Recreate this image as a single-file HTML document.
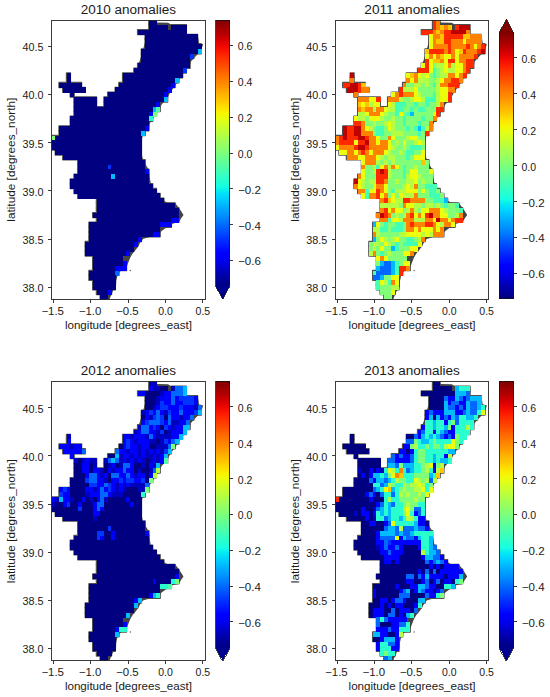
<!DOCTYPE html>
<html><head><meta charset="utf-8"><title>anomalies</title>
<style>html,body{margin:0;padding:0;background:#fff;}svg{display:block;}</style></head>
<body><svg width="550" height="697" viewBox="0 0 550 697" font-family="Liberation Sans, sans-serif" shape-rendering="crispEdges">
<rect width="550" height="697" fill="#fff"/>
<defs><linearGradient id="jetg" x1="0" y1="0" x2="0" y2="1"><stop offset="0.0000" stop-color="#800000"/><stop offset="0.0250" stop-color="#9b0000"/><stop offset="0.0500" stop-color="#b60000"/><stop offset="0.0750" stop-color="#d60000"/><stop offset="0.1000" stop-color="#f10800"/><stop offset="0.1250" stop-color="#ff1e00"/><stop offset="0.1500" stop-color="#ff3800"/><stop offset="0.1750" stop-color="#ff4e00"/><stop offset="0.2000" stop-color="#ff6800"/><stop offset="0.2250" stop-color="#ff7e00"/><stop offset="0.2500" stop-color="#ff9400"/><stop offset="0.2750" stop-color="#ffae00"/><stop offset="0.3000" stop-color="#ffc400"/><stop offset="0.3250" stop-color="#ffde00"/><stop offset="0.3500" stop-color="#f8f500"/><stop offset="0.3750" stop-color="#e4ff13"/><stop offset="0.4000" stop-color="#ceff29"/><stop offset="0.4250" stop-color="#baff3c"/><stop offset="0.4500" stop-color="#a4ff53"/><stop offset="0.4750" stop-color="#90ff66"/><stop offset="0.5000" stop-color="#7dff7a"/><stop offset="0.5250" stop-color="#66ff90"/><stop offset="0.5500" stop-color="#53ffa4"/><stop offset="0.5750" stop-color="#3cffba"/><stop offset="0.6000" stop-color="#29ffce"/><stop offset="0.6250" stop-color="#16ffe1"/><stop offset="0.6500" stop-color="#00e4f8"/><stop offset="0.6750" stop-color="#00ccff"/><stop offset="0.7000" stop-color="#00b0ff"/><stop offset="0.7250" stop-color="#0098ff"/><stop offset="0.7500" stop-color="#0080ff"/><stop offset="0.7750" stop-color="#0064ff"/><stop offset="0.8000" stop-color="#004cff"/><stop offset="0.8250" stop-color="#0030ff"/><stop offset="0.8500" stop-color="#0018ff"/><stop offset="0.8750" stop-color="#0000ff"/><stop offset="0.9000" stop-color="#0000f1"/><stop offset="0.9250" stop-color="#0000d6"/><stop offset="0.9500" stop-color="#0000b6"/><stop offset="0.9750" stop-color="#00009b"/><stop offset="1.0000" stop-color="#000080"/></linearGradient><clipPath id="axclip"><rect x="51.60" y="20.00" width="153.40" height="279.40"/></clipPath></defs>
<g transform="translate(0.00,0.00)"><text x="128.35" y="13.6" font-size="12" text-anchor="middle" textLength="95.4" lengthAdjust="spacingAndGlyphs" fill="#1a1a1a">2010 anomalies</text>
<g clip-path="url(#axclip)">
<g fill="#505050" stroke="#505050" stroke-width="1.50" stroke-linejoin="round" shape-rendering="geometricPrecision"><rect x="148.88" y="20.00" width="7.48" height="4.82"/><rect x="148.88" y="24.82" width="18.71" height="4.82"/><rect x="171.33" y="24.82" width="14.97" height="4.82"/><rect x="137.65" y="29.63" width="48.64" height="4.82"/><rect x="145.14" y="34.45" width="52.38" height="4.82"/><rect x="145.14" y="39.27" width="52.38" height="4.82"/><rect x="145.14" y="44.09" width="56.12" height="4.82"/><rect x="141.40" y="48.90" width="59.86" height="4.82"/><rect x="141.40" y="53.72" width="52.38" height="4.82"/><rect x="141.40" y="58.54" width="48.64" height="4.82"/><rect x="137.65" y="63.36" width="52.38" height="4.82"/><rect x="133.91" y="68.17" width="52.38" height="4.82"/><rect x="66.57" y="72.99" width="3.74" height="4.82"/><rect x="122.69" y="72.99" width="59.86" height="4.82"/><rect x="66.57" y="77.81" width="3.74" height="4.82"/><rect x="122.69" y="77.81" width="56.12" height="4.82"/><rect x="59.08" y="82.62" width="22.45" height="4.82"/><rect x="118.95" y="82.62" width="56.12" height="4.82"/><rect x="62.82" y="87.44" width="22.45" height="4.82"/><rect x="115.20" y="87.44" width="56.12" height="4.82"/><rect x="70.31" y="92.26" width="3.74" height="4.82"/><rect x="107.72" y="92.26" width="59.86" height="4.82"/><rect x="74.05" y="97.08" width="22.45" height="4.82"/><rect x="103.98" y="97.08" width="63.60" height="4.82"/><rect x="74.05" y="101.89" width="22.45" height="4.82"/><rect x="103.98" y="101.89" width="56.12" height="4.82"/><rect x="74.05" y="106.71" width="86.05" height="4.82"/><rect x="74.05" y="111.53" width="82.31" height="4.82"/><rect x="70.31" y="116.34" width="82.31" height="4.82"/><rect x="70.31" y="121.16" width="78.57" height="4.82"/><rect x="59.08" y="125.98" width="89.80" height="4.82"/><rect x="59.08" y="130.80" width="86.05" height="4.82"/><rect x="51.60" y="135.61" width="89.80" height="4.82"/><rect x="51.60" y="140.43" width="89.80" height="4.82"/><rect x="51.60" y="145.25" width="89.80" height="4.82"/><rect x="55.34" y="150.07" width="86.05" height="4.82"/><rect x="62.82" y="154.88" width="78.57" height="4.82"/><rect x="77.79" y="159.70" width="67.35" height="4.82"/><rect x="77.79" y="164.52" width="67.35" height="4.82"/><rect x="77.79" y="169.33" width="71.09" height="4.82"/><rect x="74.05" y="174.15" width="74.83" height="4.82"/><rect x="70.31" y="178.97" width="78.57" height="4.82"/><rect x="70.31" y="183.79" width="82.31" height="4.82"/><rect x="74.05" y="188.60" width="82.31" height="4.82"/><rect x="77.79" y="193.42" width="82.31" height="4.82"/><rect x="96.50" y="198.24" width="67.35" height="4.82"/><rect x="96.50" y="203.06" width="78.57" height="4.82"/><rect x="96.50" y="207.87" width="82.31" height="4.82"/><rect x="92.76" y="212.69" width="86.05" height="4.82"/><rect x="96.50" y="217.51" width="82.31" height="4.82"/><rect x="89.01" y="222.32" width="82.31" height="4.82"/><rect x="89.01" y="227.14" width="71.09" height="4.82"/><rect x="89.01" y="231.96" width="71.09" height="4.82"/><rect x="89.01" y="236.78" width="52.38" height="4.82"/><rect x="85.27" y="241.59" width="52.38" height="4.82"/><rect x="85.27" y="246.41" width="48.64" height="4.82"/><rect x="85.27" y="251.23" width="44.90" height="4.82"/><rect x="92.76" y="256.04" width="29.93" height="4.82"/><rect x="92.76" y="260.86" width="33.67" height="4.82"/><rect x="92.76" y="265.68" width="33.67" height="4.82"/><rect x="89.01" y="270.50" width="29.93" height="4.82"/><rect x="89.01" y="275.31" width="26.19" height="4.82"/><rect x="92.76" y="280.13" width="22.45" height="4.82"/><rect x="92.76" y="284.95" width="22.45" height="4.82"/><rect x="96.50" y="289.77" width="14.97" height="4.82"/><rect x="100.24" y="294.58" width="7.48" height="4.82"/></g>
<path d="M156.4 22.5 L168.0 22.8 L171.5 24.8 L186.3 24.8 L186.3 34.5 L197.5 34.5 L198.3 38.0 L199.0 43.0 L203.2 44.2 L201.5 49.0 L198.5 53.5 L194.5 57.5 L191.0 61.5 L188.5 65.5 L186.0 69.5 L183.0 74.0 L180.0 78.0 L177.0 83.0 L173.5 88.0 L170.5 92.0 L168.5 96.0 L165.5 100.5 L162.0 104.0 L159.5 108.5 L157.0 112.5 L154.0 117.0 L151.0 121.5 L148.5 126.0 L145.5 131.0 L142.5 136.0 L141.6 141.0 L141.3 150.0 L142.3 157.0 L144.0 162.0 L146.5 166.0 L148.9 170.0 L149.5 176.0 L150.5 182.0 L152.6 188.0 L155.5 192.5 L159.0 196.5 L163.0 200.0 L167.0 202.5 L175.1 203.1 L179.0 207.9 L181.0 211.0 L183.5 215.0 L181.0 218.5 L178.8 222.3 L171.3 224.0 L167.0 227.0 L163.0 230.0 L159.0 233.0 L154.0 235.5 L148.0 237.5 L143.0 239.0 L140.5 242.0 L138.5 246.0 L136.0 249.5 L133.0 253.0 L130.5 257.0 L128.5 262.0 L127.0 266.0 L124.0 269.5 L120.0 271.5 L117.5 275.0 L116.3 281.0 L116.0 287.0 L113.5 290.0 L111.5 294.0 L109.5 299.4 L100.0 299.4 L100.0 250.0 L110.0 200.0 L120.0 150.0 L125.0 100.0 L140.0 60.0 L150.0 25.0 Z" fill="#444" shape-rendering="geometricPrecision"/>
<rect x="148.88" y="20.00" width="7.78" height="5.12" fill="#000080"/>
<rect x="148.88" y="24.82" width="19.01" height="5.12" fill="#000080"/>
<rect x="171.33" y="24.82" width="15.27" height="5.12" fill="#000080"/>
<rect x="137.65" y="29.63" width="48.94" height="5.12" fill="#000080"/>
<rect x="145.14" y="34.45" width="52.68" height="5.12" fill="#000080"/>
<rect x="145.14" y="39.27" width="52.68" height="5.12" fill="#000080"/>
<rect x="145.14" y="44.09" width="56.42" height="5.12" fill="#000080"/>
<rect x="141.40" y="48.90" width="56.42" height="5.12" fill="#000080"/>
<rect x="197.52" y="48.90" width="4.04" height="5.12" fill="#00bcff"/>
<rect x="141.40" y="53.72" width="48.94" height="5.12" fill="#000080"/>
<rect x="190.03" y="53.72" width="4.04" height="5.12" fill="#0034ff"/>
<rect x="141.40" y="58.54" width="48.94" height="5.12" fill="#000080"/>
<rect x="137.65" y="63.36" width="52.68" height="5.12" fill="#000080"/>
<rect x="133.91" y="68.17" width="48.94" height="5.12" fill="#000080"/>
<rect x="182.55" y="68.17" width="4.04" height="5.12" fill="#0034ff"/>
<rect x="66.57" y="72.99" width="4.04" height="5.12" fill="#000080"/>
<rect x="122.69" y="72.99" width="60.16" height="5.12" fill="#000080"/>
<rect x="66.57" y="77.81" width="4.04" height="5.12" fill="#000080"/>
<rect x="122.69" y="77.81" width="52.68" height="5.12" fill="#000080"/>
<rect x="175.07" y="77.81" width="4.04" height="5.12" fill="#00bcff"/>
<rect x="59.08" y="82.62" width="22.75" height="5.12" fill="#000080"/>
<rect x="118.95" y="82.62" width="52.68" height="5.12" fill="#000080"/>
<rect x="171.33" y="82.62" width="4.04" height="5.12" fill="#0000ff"/>
<rect x="62.82" y="87.44" width="22.75" height="5.12" fill="#000080"/>
<rect x="115.20" y="87.44" width="52.68" height="5.12" fill="#000080"/>
<rect x="167.59" y="87.44" width="4.04" height="5.12" fill="#0000ff"/>
<rect x="70.31" y="92.26" width="4.04" height="5.12" fill="#000080"/>
<rect x="107.72" y="92.26" width="56.42" height="5.12" fill="#000080"/>
<rect x="163.84" y="92.26" width="4.04" height="5.12" fill="#0000ff"/>
<rect x="74.05" y="97.08" width="22.75" height="5.12" fill="#000080"/>
<rect x="103.98" y="97.08" width="60.16" height="5.12" fill="#000080"/>
<rect x="163.84" y="97.08" width="4.04" height="5.12" fill="#00bcff"/>
<rect x="74.05" y="101.89" width="22.75" height="5.12" fill="#000080"/>
<rect x="103.98" y="101.89" width="52.68" height="5.12" fill="#000080"/>
<rect x="156.36" y="101.89" width="4.04" height="5.12" fill="#0000ff"/>
<rect x="74.05" y="106.71" width="78.87" height="5.12" fill="#000080"/>
<rect x="152.62" y="106.71" width="4.04" height="5.12" fill="#00bcff"/>
<rect x="156.36" y="106.71" width="4.04" height="5.12" fill="#50ffa7"/>
<rect x="74.05" y="111.53" width="75.13" height="5.12" fill="#000080"/>
<rect x="148.88" y="111.53" width="4.04" height="5.12" fill="#0000ff"/>
<rect x="152.62" y="111.53" width="4.04" height="5.12" fill="#7dff7a"/>
<rect x="70.31" y="116.34" width="78.87" height="5.12" fill="#000080"/>
<rect x="148.88" y="116.34" width="4.04" height="5.12" fill="#29ffce"/>
<rect x="70.31" y="121.16" width="78.87" height="5.12" fill="#000080"/>
<rect x="59.08" y="125.98" width="86.35" height="5.12" fill="#000080"/>
<rect x="145.14" y="125.98" width="4.04" height="5.12" fill="#0000ff"/>
<rect x="59.08" y="130.80" width="82.61" height="5.12" fill="#000080"/>
<rect x="141.40" y="130.80" width="4.04" height="5.12" fill="#00bcff"/>
<rect x="51.60" y="135.61" width="4.04" height="5.12" fill="#7dff7a"/>
<rect x="55.34" y="135.61" width="86.35" height="5.12" fill="#000080"/>
<rect x="51.60" y="140.43" width="90.10" height="5.12" fill="#000080"/>
<rect x="51.60" y="145.25" width="90.10" height="5.12" fill="#000080"/>
<rect x="55.34" y="150.07" width="86.35" height="5.12" fill="#000080"/>
<rect x="62.82" y="154.88" width="78.87" height="5.12" fill="#000080"/>
<rect x="77.79" y="159.70" width="67.65" height="5.12" fill="#000080"/>
<rect x="77.79" y="164.52" width="30.23" height="5.12" fill="#000080"/>
<rect x="107.72" y="164.52" width="4.04" height="5.12" fill="#0034ff"/>
<rect x="111.46" y="164.52" width="33.97" height="5.12" fill="#000080"/>
<rect x="77.79" y="169.33" width="67.65" height="5.12" fill="#000080"/>
<rect x="145.14" y="169.33" width="4.04" height="5.12" fill="#0000ff"/>
<rect x="74.05" y="174.15" width="37.71" height="5.12" fill="#000080"/>
<rect x="111.46" y="174.15" width="4.04" height="5.12" fill="#00bcff"/>
<rect x="115.20" y="174.15" width="33.97" height="5.12" fill="#000080"/>
<rect x="70.31" y="178.97" width="78.87" height="5.12" fill="#000080"/>
<rect x="70.31" y="183.79" width="82.61" height="5.12" fill="#000080"/>
<rect x="74.05" y="188.60" width="82.61" height="5.12" fill="#000080"/>
<rect x="77.79" y="193.42" width="82.61" height="5.12" fill="#000080"/>
<rect x="96.50" y="198.24" width="67.65" height="5.12" fill="#000080"/>
<rect x="96.50" y="203.06" width="78.87" height="5.12" fill="#000080"/>
<rect x="96.50" y="207.87" width="82.61" height="5.12" fill="#000080"/>
<rect x="92.76" y="212.69" width="86.35" height="5.12" fill="#000080"/>
<rect x="96.50" y="217.51" width="75.13" height="5.12" fill="#000080"/>
<rect x="171.33" y="217.51" width="7.78" height="5.12" fill="#0000ff"/>
<rect x="89.01" y="222.32" width="71.39" height="5.12" fill="#000080"/>
<rect x="160.10" y="222.32" width="11.52" height="5.12" fill="#0000ff"/>
<rect x="89.01" y="227.14" width="71.39" height="5.12" fill="#000080"/>
<rect x="89.01" y="231.96" width="63.90" height="5.12" fill="#000080"/>
<rect x="152.62" y="231.96" width="7.78" height="5.12" fill="#0000ff"/>
<rect x="89.01" y="236.78" width="48.94" height="5.12" fill="#000080"/>
<rect x="137.65" y="236.78" width="4.04" height="5.12" fill="#0000ff"/>
<rect x="85.27" y="241.59" width="48.94" height="5.12" fill="#000080"/>
<rect x="133.91" y="241.59" width="4.04" height="5.12" fill="#0000ff"/>
<rect x="85.27" y="246.41" width="48.94" height="5.12" fill="#000080"/>
<rect x="85.27" y="251.23" width="41.46" height="5.12" fill="#000080"/>
<rect x="126.43" y="251.23" width="4.04" height="5.12" fill="#0000ff"/>
<rect x="92.76" y="256.04" width="30.23" height="5.12" fill="#000080"/>
<rect x="92.76" y="260.86" width="30.23" height="5.12" fill="#000080"/>
<rect x="122.69" y="260.86" width="4.04" height="5.12" fill="#0000ff"/>
<rect x="92.76" y="265.68" width="22.75" height="5.12" fill="#000080"/>
<rect x="115.20" y="265.68" width="11.52" height="5.12" fill="#0000ff"/>
<rect x="89.01" y="270.50" width="26.49" height="5.12" fill="#000080"/>
<rect x="115.20" y="270.50" width="4.04" height="5.12" fill="#0068ff"/>
<rect x="89.01" y="275.31" width="26.49" height="5.12" fill="#000080"/>
<rect x="92.76" y="280.13" width="22.75" height="5.12" fill="#000080"/>
<rect x="92.76" y="284.95" width="22.75" height="5.12" fill="#000080"/>
<rect x="96.50" y="289.77" width="11.52" height="5.12" fill="#000080"/>
<rect x="107.72" y="289.77" width="4.04" height="5.12" fill="#0000ff"/>
<rect x="100.24" y="294.58" width="7.78" height="5.12" fill="#000080"/>
</g>
<circle cx="130.4" cy="270.6" r="0.75" fill="#666" shape-rendering="geometricPrecision"/>
<rect x="51.60" y="20.00" width="153.40" height="279.40" fill="none" stroke="#262626" stroke-width="0.9"/>
<line x1="48.1" y1="46.40" x2="51.60" y2="46.40" stroke="#262626" stroke-width="0.9"/>
<text x="43.6" y="51.20" font-size="10.5" text-anchor="end" textLength="21" lengthAdjust="spacingAndGlyphs" fill="#1a1a1a">40.5</text>
<line x1="48.1" y1="94.56" x2="51.60" y2="94.56" stroke="#262626" stroke-width="0.9"/>
<text x="43.6" y="99.36" font-size="10.5" text-anchor="end" textLength="21" lengthAdjust="spacingAndGlyphs" fill="#1a1a1a">40.0</text>
<line x1="48.1" y1="142.72" x2="51.60" y2="142.72" stroke="#262626" stroke-width="0.9"/>
<text x="43.6" y="147.52" font-size="10.5" text-anchor="end" textLength="21" lengthAdjust="spacingAndGlyphs" fill="#1a1a1a">39.5</text>
<line x1="48.1" y1="190.88" x2="51.60" y2="190.88" stroke="#262626" stroke-width="0.9"/>
<text x="43.6" y="195.68" font-size="10.5" text-anchor="end" textLength="21" lengthAdjust="spacingAndGlyphs" fill="#1a1a1a">39.0</text>
<line x1="48.1" y1="239.04" x2="51.60" y2="239.04" stroke="#262626" stroke-width="0.9"/>
<text x="43.6" y="243.84" font-size="10.5" text-anchor="end" textLength="21" lengthAdjust="spacingAndGlyphs" fill="#1a1a1a">38.5</text>
<line x1="48.1" y1="287.20" x2="51.60" y2="287.20" stroke="#262626" stroke-width="0.9"/>
<text x="43.6" y="292.00" font-size="10.5" text-anchor="end" textLength="21" lengthAdjust="spacingAndGlyphs" fill="#1a1a1a">38.0</text>
<line x1="53.50" y1="299.40" x2="53.50" y2="302.9" stroke="#262626" stroke-width="0.9"/>
<text x="52.70" y="315.0" font-size="10.5" text-anchor="middle" textLength="22.6" lengthAdjust="spacingAndGlyphs" fill="#1a1a1a">−1.5</text>
<line x1="90.85" y1="299.40" x2="90.85" y2="302.9" stroke="#262626" stroke-width="0.9"/>
<text x="90.05" y="315.0" font-size="10.5" text-anchor="middle" textLength="22.6" lengthAdjust="spacingAndGlyphs" fill="#1a1a1a">−1.0</text>
<line x1="128.20" y1="299.40" x2="128.20" y2="302.9" stroke="#262626" stroke-width="0.9"/>
<text x="127.40" y="315.0" font-size="10.5" text-anchor="middle" textLength="22.6" lengthAdjust="spacingAndGlyphs" fill="#1a1a1a">−0.5</text>
<line x1="165.55" y1="299.40" x2="165.55" y2="302.9" stroke="#262626" stroke-width="0.9"/>
<text x="165.55" y="315.0" font-size="10.5" text-anchor="middle" fill="#1a1a1a">0.0</text>
<line x1="202.90" y1="299.40" x2="202.90" y2="302.9" stroke="#262626" stroke-width="0.9"/>
<text x="202.90" y="315.0" font-size="10.5" text-anchor="middle" fill="#1a1a1a">0.5</text>
<text x="128.4" y="328.6" font-size="10.5" text-anchor="middle" textLength="127" lengthAdjust="spacingAndGlyphs" fill="#1a1a1a">longitude [degrees_east]</text>
<text transform="translate(15,159.75) rotate(-90)" x="0" y="0" font-size="10.5" text-anchor="middle" textLength="124" lengthAdjust="spacingAndGlyphs" fill="#1a1a1a">latitude [degrees_north]</text>
<rect x="215.60" y="20.00" width="14.20" height="266.10" fill="url(#jetg)"/>
<path d="M215.60 285.90 L229.80 285.90 L222.70 299.30 Z" fill="#000090"/>
<path d="M215.60 286.10 L215.60 20.00 L229.80 20.00 L229.80 286.10 L222.70 299.30 Z" fill="none" stroke="#111" stroke-width="0.8"/>
<line x1="229.80" y1="45.53" x2="233.4" y2="45.53" stroke="#262626" stroke-width="0.9"/>
<text x="237.8" y="50.43" font-size="10.5" fill="#1a1a1a">0.6</text>
<line x1="229.80" y1="81.37" x2="233.4" y2="81.37" stroke="#262626" stroke-width="0.9"/>
<text x="237.8" y="86.27" font-size="10.5" fill="#1a1a1a">0.4</text>
<line x1="229.80" y1="117.21" x2="233.4" y2="117.21" stroke="#262626" stroke-width="0.9"/>
<text x="237.8" y="122.11" font-size="10.5" fill="#1a1a1a">0.2</text>
<line x1="229.80" y1="153.05" x2="233.4" y2="153.05" stroke="#262626" stroke-width="0.9"/>
<text x="237.8" y="157.95" font-size="10.5" fill="#1a1a1a">0.0</text>
<line x1="229.80" y1="188.89" x2="233.4" y2="188.89" stroke="#262626" stroke-width="0.9"/>
<text x="238.1" y="193.79" font-size="10.5" textLength="22.8" lengthAdjust="spacingAndGlyphs" fill="#1a1a1a">−0.2</text>
<line x1="229.80" y1="224.73" x2="233.4" y2="224.73" stroke="#262626" stroke-width="0.9"/>
<text x="238.1" y="229.63" font-size="10.5" textLength="22.8" lengthAdjust="spacingAndGlyphs" fill="#1a1a1a">−0.4</text>
<line x1="229.80" y1="260.57" x2="233.4" y2="260.57" stroke="#262626" stroke-width="0.9"/>
<text x="238.1" y="265.47" font-size="10.5" textLength="22.8" lengthAdjust="spacingAndGlyphs" fill="#1a1a1a">−0.6</text></g>
<g transform="translate(283.70,0.00)"><text x="128.35" y="13.6" font-size="12" text-anchor="middle" textLength="95.4" lengthAdjust="spacingAndGlyphs" fill="#1a1a1a">2011 anomalies</text>
<g clip-path="url(#axclip)">
<g fill="#505050" stroke="#505050" stroke-width="1.50" stroke-linejoin="round" shape-rendering="geometricPrecision"><rect x="148.88" y="20.00" width="7.48" height="4.82"/><rect x="148.88" y="24.82" width="18.71" height="4.82"/><rect x="171.33" y="24.82" width="14.97" height="4.82"/><rect x="137.65" y="29.63" width="48.64" height="4.82"/><rect x="145.14" y="34.45" width="52.38" height="4.82"/><rect x="145.14" y="39.27" width="52.38" height="4.82"/><rect x="145.14" y="44.09" width="56.12" height="4.82"/><rect x="141.40" y="48.90" width="59.86" height="4.82"/><rect x="141.40" y="53.72" width="52.38" height="4.82"/><rect x="141.40" y="58.54" width="48.64" height="4.82"/><rect x="137.65" y="63.36" width="52.38" height="4.82"/><rect x="133.91" y="68.17" width="52.38" height="4.82"/><rect x="66.57" y="72.99" width="3.74" height="4.82"/><rect x="122.69" y="72.99" width="59.86" height="4.82"/><rect x="66.57" y="77.81" width="3.74" height="4.82"/><rect x="122.69" y="77.81" width="56.12" height="4.82"/><rect x="59.08" y="82.62" width="22.45" height="4.82"/><rect x="118.95" y="82.62" width="56.12" height="4.82"/><rect x="62.82" y="87.44" width="22.45" height="4.82"/><rect x="115.20" y="87.44" width="56.12" height="4.82"/><rect x="70.31" y="92.26" width="3.74" height="4.82"/><rect x="107.72" y="92.26" width="59.86" height="4.82"/><rect x="74.05" y="97.08" width="22.45" height="4.82"/><rect x="103.98" y="97.08" width="63.60" height="4.82"/><rect x="74.05" y="101.89" width="22.45" height="4.82"/><rect x="103.98" y="101.89" width="56.12" height="4.82"/><rect x="74.05" y="106.71" width="86.05" height="4.82"/><rect x="74.05" y="111.53" width="82.31" height="4.82"/><rect x="70.31" y="116.34" width="82.31" height="4.82"/><rect x="70.31" y="121.16" width="78.57" height="4.82"/><rect x="59.08" y="125.98" width="89.80" height="4.82"/><rect x="59.08" y="130.80" width="86.05" height="4.82"/><rect x="51.60" y="135.61" width="89.80" height="4.82"/><rect x="51.60" y="140.43" width="89.80" height="4.82"/><rect x="51.60" y="145.25" width="89.80" height="4.82"/><rect x="55.34" y="150.07" width="86.05" height="4.82"/><rect x="62.82" y="154.88" width="78.57" height="4.82"/><rect x="77.79" y="159.70" width="67.35" height="4.82"/><rect x="77.79" y="164.52" width="67.35" height="4.82"/><rect x="77.79" y="169.33" width="71.09" height="4.82"/><rect x="74.05" y="174.15" width="74.83" height="4.82"/><rect x="70.31" y="178.97" width="78.57" height="4.82"/><rect x="70.31" y="183.79" width="82.31" height="4.82"/><rect x="74.05" y="188.60" width="82.31" height="4.82"/><rect x="77.79" y="193.42" width="82.31" height="4.82"/><rect x="96.50" y="198.24" width="67.35" height="4.82"/><rect x="96.50" y="203.06" width="78.57" height="4.82"/><rect x="96.50" y="207.87" width="82.31" height="4.82"/><rect x="92.76" y="212.69" width="86.05" height="4.82"/><rect x="96.50" y="217.51" width="82.31" height="4.82"/><rect x="89.01" y="222.32" width="82.31" height="4.82"/><rect x="89.01" y="227.14" width="71.09" height="4.82"/><rect x="89.01" y="231.96" width="71.09" height="4.82"/><rect x="89.01" y="236.78" width="52.38" height="4.82"/><rect x="85.27" y="241.59" width="52.38" height="4.82"/><rect x="85.27" y="246.41" width="48.64" height="4.82"/><rect x="85.27" y="251.23" width="44.90" height="4.82"/><rect x="92.76" y="256.04" width="29.93" height="4.82"/><rect x="92.76" y="260.86" width="33.67" height="4.82"/><rect x="92.76" y="265.68" width="33.67" height="4.82"/><rect x="89.01" y="270.50" width="29.93" height="4.82"/><rect x="89.01" y="275.31" width="26.19" height="4.82"/><rect x="92.76" y="280.13" width="22.45" height="4.82"/><rect x="92.76" y="284.95" width="22.45" height="4.82"/><rect x="96.50" y="289.77" width="14.97" height="4.82"/><rect x="100.24" y="294.58" width="7.48" height="4.82"/></g>
<path d="M156.4 22.5 L168.0 22.8 L171.5 24.8 L186.3 24.8 L186.3 34.5 L197.5 34.5 L198.3 38.0 L199.0 43.0 L203.2 44.2 L201.5 49.0 L198.5 53.5 L194.5 57.5 L191.0 61.5 L188.5 65.5 L186.0 69.5 L183.0 74.0 L180.0 78.0 L177.0 83.0 L173.5 88.0 L170.5 92.0 L168.5 96.0 L165.5 100.5 L162.0 104.0 L159.5 108.5 L157.0 112.5 L154.0 117.0 L151.0 121.5 L148.5 126.0 L145.5 131.0 L142.5 136.0 L141.6 141.0 L141.3 150.0 L142.3 157.0 L144.0 162.0 L146.5 166.0 L148.9 170.0 L149.5 176.0 L150.5 182.0 L152.6 188.0 L155.5 192.5 L159.0 196.5 L163.0 200.0 L167.0 202.5 L175.1 203.1 L179.0 207.9 L181.0 211.0 L183.5 215.0 L181.0 218.5 L178.8 222.3 L171.3 224.0 L167.0 227.0 L163.0 230.0 L159.0 233.0 L154.0 235.5 L148.0 237.5 L143.0 239.0 L140.5 242.0 L138.5 246.0 L136.0 249.5 L133.0 253.0 L130.5 257.0 L128.5 262.0 L127.0 266.0 L124.0 269.5 L120.0 271.5 L117.5 275.0 L116.3 281.0 L116.0 287.0 L113.5 290.0 L111.5 294.0 L109.5 299.4 L100.0 299.4 L100.0 250.0 L110.0 200.0 L120.0 150.0 L125.0 100.0 L140.0 60.0 L150.0 25.0 Z" fill="#444" shape-rendering="geometricPrecision"/>
<rect x="148.88" y="20.00" width="4.04" height="5.12" fill="#ff2900"/>
<rect x="152.62" y="20.00" width="4.04" height="5.12" fill="#ff8200"/>
<rect x="148.88" y="24.82" width="4.04" height="5.12" fill="#ff2900"/>
<rect x="152.62" y="24.82" width="4.04" height="5.12" fill="#ff8200"/>
<rect x="156.36" y="24.82" width="4.04" height="5.12" fill="#ffc400"/>
<rect x="160.10" y="24.82" width="4.04" height="5.12" fill="#ff8200"/>
<rect x="163.84" y="24.82" width="4.04" height="5.12" fill="#ffc400"/>
<rect x="171.33" y="24.82" width="4.04" height="5.12" fill="#ff2900"/>
<rect x="175.07" y="24.82" width="11.52" height="5.12" fill="#bf0000"/>
<rect x="137.65" y="29.63" width="11.52" height="5.12" fill="#ff2900"/>
<rect x="148.88" y="29.63" width="4.04" height="5.12" fill="#ff8200"/>
<rect x="152.62" y="29.63" width="4.04" height="5.12" fill="#ffc400"/>
<rect x="156.36" y="29.63" width="4.04" height="5.12" fill="#ff8200"/>
<rect x="160.10" y="29.63" width="7.78" height="5.12" fill="#ff2900"/>
<rect x="167.59" y="29.63" width="15.27" height="5.12" fill="#bf0000"/>
<rect x="182.55" y="29.63" width="4.04" height="5.12" fill="#ff8200"/>
<rect x="145.14" y="34.45" width="4.04" height="5.12" fill="#ebff0c"/>
<rect x="148.88" y="34.45" width="7.78" height="5.12" fill="#ff8200"/>
<rect x="156.36" y="34.45" width="4.04" height="5.12" fill="#ffc400"/>
<rect x="160.10" y="34.45" width="19.01" height="5.12" fill="#ff2900"/>
<rect x="178.81" y="34.45" width="7.78" height="5.12" fill="#ffc400"/>
<rect x="186.29" y="34.45" width="11.52" height="5.12" fill="#ff8200"/>
<rect x="145.14" y="39.27" width="4.04" height="5.12" fill="#ebff0c"/>
<rect x="148.88" y="39.27" width="4.04" height="5.12" fill="#ff8200"/>
<rect x="152.62" y="39.27" width="7.78" height="5.12" fill="#ffc400"/>
<rect x="160.10" y="39.27" width="7.78" height="5.12" fill="#ff2900"/>
<rect x="167.59" y="39.27" width="11.52" height="5.12" fill="#ff8200"/>
<rect x="178.81" y="39.27" width="4.04" height="5.12" fill="#ebff0c"/>
<rect x="182.55" y="39.27" width="15.27" height="5.12" fill="#ff8200"/>
<rect x="145.14" y="44.09" width="4.04" height="5.12" fill="#ebff0c"/>
<rect x="148.88" y="44.09" width="15.27" height="5.12" fill="#ff8200"/>
<rect x="163.84" y="44.09" width="4.04" height="5.12" fill="#ff2900"/>
<rect x="167.59" y="44.09" width="15.27" height="5.12" fill="#ff8200"/>
<rect x="182.55" y="44.09" width="4.04" height="5.12" fill="#ff2900"/>
<rect x="186.29" y="44.09" width="4.04" height="5.12" fill="#ff8200"/>
<rect x="190.03" y="44.09" width="4.04" height="5.12" fill="#ebff0c"/>
<rect x="193.78" y="44.09" width="4.04" height="5.12" fill="#ff8200"/>
<rect x="197.52" y="44.09" width="4.04" height="5.12" fill="#ff2900"/>
<rect x="141.40" y="48.90" width="4.04" height="5.12" fill="#ffc400"/>
<rect x="145.14" y="48.90" width="15.27" height="5.12" fill="#ff2900"/>
<rect x="160.10" y="48.90" width="4.04" height="5.12" fill="#ff8200"/>
<rect x="163.84" y="48.90" width="4.04" height="5.12" fill="#ff2900"/>
<rect x="167.59" y="48.90" width="4.04" height="5.12" fill="#ff8200"/>
<rect x="171.33" y="48.90" width="4.04" height="5.12" fill="#ebff0c"/>
<rect x="175.07" y="48.90" width="4.04" height="5.12" fill="#ffc400"/>
<rect x="178.81" y="48.90" width="4.04" height="5.12" fill="#ff2900"/>
<rect x="182.55" y="48.90" width="11.52" height="5.12" fill="#ff8200"/>
<rect x="193.78" y="48.90" width="4.04" height="5.12" fill="#ff2900"/>
<rect x="197.52" y="48.90" width="4.04" height="5.12" fill="#bf0000"/>
<rect x="141.40" y="53.72" width="4.04" height="5.12" fill="#ebff0c"/>
<rect x="145.14" y="53.72" width="4.04" height="5.12" fill="#ff8200"/>
<rect x="148.88" y="53.72" width="4.04" height="5.12" fill="#ebff0c"/>
<rect x="152.62" y="53.72" width="4.04" height="5.12" fill="#ff8200"/>
<rect x="156.36" y="53.72" width="4.04" height="5.12" fill="#ffc400"/>
<rect x="160.10" y="53.72" width="7.78" height="5.12" fill="#ebff0c"/>
<rect x="167.59" y="53.72" width="4.04" height="5.12" fill="#ff8200"/>
<rect x="171.33" y="53.72" width="4.04" height="5.12" fill="#ebff0c"/>
<rect x="175.07" y="53.72" width="15.27" height="5.12" fill="#ff8200"/>
<rect x="190.03" y="53.72" width="4.04" height="5.12" fill="#ff2900"/>
<rect x="141.40" y="58.54" width="4.04" height="5.12" fill="#ff2900"/>
<rect x="145.14" y="58.54" width="4.04" height="5.12" fill="#ebff0c"/>
<rect x="148.88" y="58.54" width="7.78" height="5.12" fill="#ffc400"/>
<rect x="156.36" y="58.54" width="4.04" height="5.12" fill="#ff8200"/>
<rect x="160.10" y="58.54" width="4.04" height="5.12" fill="#ebff0c"/>
<rect x="163.84" y="58.54" width="7.78" height="5.12" fill="#ff2900"/>
<rect x="171.33" y="58.54" width="4.04" height="5.12" fill="#ebff0c"/>
<rect x="175.07" y="58.54" width="7.78" height="5.12" fill="#ff8200"/>
<rect x="182.55" y="58.54" width="7.78" height="5.12" fill="#ff2900"/>
<rect x="137.65" y="63.36" width="4.04" height="5.12" fill="#ebff0c"/>
<rect x="141.40" y="63.36" width="4.04" height="5.12" fill="#ff2900"/>
<rect x="145.14" y="63.36" width="4.04" height="5.12" fill="#ebff0c"/>
<rect x="148.88" y="63.36" width="4.04" height="5.12" fill="#80ff77"/>
<rect x="152.62" y="63.36" width="7.78" height="5.12" fill="#b4ff43"/>
<rect x="160.10" y="63.36" width="4.04" height="5.12" fill="#ebff0c"/>
<rect x="163.84" y="63.36" width="4.04" height="5.12" fill="#ff8200"/>
<rect x="167.59" y="63.36" width="4.04" height="5.12" fill="#b4ff43"/>
<rect x="171.33" y="63.36" width="7.78" height="5.12" fill="#ebff0c"/>
<rect x="178.81" y="63.36" width="4.04" height="5.12" fill="#ff8200"/>
<rect x="182.55" y="63.36" width="7.78" height="5.12" fill="#ff2900"/>
<rect x="133.91" y="68.17" width="11.52" height="5.12" fill="#ff2900"/>
<rect x="145.14" y="68.17" width="4.04" height="5.12" fill="#ebff0c"/>
<rect x="148.88" y="68.17" width="4.04" height="5.12" fill="#43ffb4"/>
<rect x="152.62" y="68.17" width="4.04" height="5.12" fill="#80ff77"/>
<rect x="156.36" y="68.17" width="4.04" height="5.12" fill="#b4ff43"/>
<rect x="160.10" y="68.17" width="4.04" height="5.12" fill="#ebff0c"/>
<rect x="163.84" y="68.17" width="7.78" height="5.12" fill="#b4ff43"/>
<rect x="171.33" y="68.17" width="7.78" height="5.12" fill="#ebff0c"/>
<rect x="178.81" y="68.17" width="4.04" height="5.12" fill="#ff8200"/>
<rect x="182.55" y="68.17" width="4.04" height="5.12" fill="#ff2900"/>
<rect x="66.57" y="72.99" width="4.04" height="5.12" fill="#bf0000"/>
<rect x="122.69" y="72.99" width="4.04" height="5.12" fill="#ebff0c"/>
<rect x="126.43" y="72.99" width="4.04" height="5.12" fill="#ffc400"/>
<rect x="130.17" y="72.99" width="4.04" height="5.12" fill="#ff8200"/>
<rect x="133.91" y="72.99" width="4.04" height="5.12" fill="#ebff0c"/>
<rect x="137.65" y="72.99" width="4.04" height="5.12" fill="#b4ff43"/>
<rect x="141.40" y="72.99" width="4.04" height="5.12" fill="#ebff0c"/>
<rect x="145.14" y="72.99" width="4.04" height="5.12" fill="#80ff77"/>
<rect x="148.88" y="72.99" width="4.04" height="5.12" fill="#43ffb4"/>
<rect x="152.62" y="72.99" width="4.04" height="5.12" fill="#80ff77"/>
<rect x="156.36" y="72.99" width="7.78" height="5.12" fill="#b4ff43"/>
<rect x="163.84" y="72.99" width="7.78" height="5.12" fill="#ff8200"/>
<rect x="171.33" y="72.99" width="4.04" height="5.12" fill="#ebff0c"/>
<rect x="175.07" y="72.99" width="4.04" height="5.12" fill="#ff8200"/>
<rect x="178.81" y="72.99" width="4.04" height="5.12" fill="#ff2900"/>
<rect x="66.57" y="77.81" width="4.04" height="5.12" fill="#ff8200"/>
<rect x="122.69" y="77.81" width="4.04" height="5.12" fill="#ff8200"/>
<rect x="126.43" y="77.81" width="4.04" height="5.12" fill="#ebff0c"/>
<rect x="130.17" y="77.81" width="4.04" height="5.12" fill="#ff8200"/>
<rect x="133.91" y="77.81" width="11.52" height="5.12" fill="#b4ff43"/>
<rect x="145.14" y="77.81" width="7.78" height="5.12" fill="#80ff77"/>
<rect x="152.62" y="77.81" width="4.04" height="5.12" fill="#b4ff43"/>
<rect x="156.36" y="77.81" width="4.04" height="5.12" fill="#ebff0c"/>
<rect x="160.10" y="77.81" width="7.78" height="5.12" fill="#ff8200"/>
<rect x="167.59" y="77.81" width="7.78" height="5.12" fill="#ff2900"/>
<rect x="175.07" y="77.81" width="4.04" height="5.12" fill="#ff8200"/>
<rect x="59.08" y="82.62" width="7.78" height="5.12" fill="#ff2900"/>
<rect x="66.57" y="82.62" width="7.78" height="5.12" fill="#bf0000"/>
<rect x="74.05" y="82.62" width="4.04" height="5.12" fill="#ff2900"/>
<rect x="77.79" y="82.62" width="4.04" height="5.12" fill="#ffc400"/>
<rect x="118.95" y="82.62" width="4.04" height="5.12" fill="#ff8200"/>
<rect x="122.69" y="82.62" width="7.78" height="5.12" fill="#80ff77"/>
<rect x="130.17" y="82.62" width="7.78" height="5.12" fill="#b4ff43"/>
<rect x="137.65" y="82.62" width="4.04" height="5.12" fill="#80ff77"/>
<rect x="141.40" y="82.62" width="4.04" height="5.12" fill="#b4ff43"/>
<rect x="145.14" y="82.62" width="4.04" height="5.12" fill="#80ff77"/>
<rect x="148.88" y="82.62" width="4.04" height="5.12" fill="#43ffb4"/>
<rect x="152.62" y="82.62" width="4.04" height="5.12" fill="#b4ff43"/>
<rect x="156.36" y="82.62" width="7.78" height="5.12" fill="#ff8200"/>
<rect x="163.84" y="82.62" width="11.52" height="5.12" fill="#ff2900"/>
<rect x="62.82" y="87.44" width="11.52" height="5.12" fill="#bf0000"/>
<rect x="74.05" y="87.44" width="4.04" height="5.12" fill="#ff2900"/>
<rect x="77.79" y="87.44" width="7.78" height="5.12" fill="#ff8200"/>
<rect x="115.20" y="87.44" width="4.04" height="5.12" fill="#ff2900"/>
<rect x="118.95" y="87.44" width="11.52" height="5.12" fill="#b4ff43"/>
<rect x="130.17" y="87.44" width="4.04" height="5.12" fill="#ebff0c"/>
<rect x="133.91" y="87.44" width="19.01" height="5.12" fill="#80ff77"/>
<rect x="152.62" y="87.44" width="4.04" height="5.12" fill="#b4ff43"/>
<rect x="156.36" y="87.44" width="7.78" height="5.12" fill="#ebff0c"/>
<rect x="163.84" y="87.44" width="7.78" height="5.12" fill="#ff8200"/>
<rect x="70.31" y="92.26" width="4.04" height="5.12" fill="#ff8200"/>
<rect x="107.72" y="92.26" width="4.04" height="5.12" fill="#ebff0c"/>
<rect x="111.46" y="92.26" width="4.04" height="5.12" fill="#ff8200"/>
<rect x="115.20" y="92.26" width="4.04" height="5.12" fill="#ff2900"/>
<rect x="118.95" y="92.26" width="11.52" height="5.12" fill="#ff8200"/>
<rect x="130.17" y="92.26" width="4.04" height="5.12" fill="#ebff0c"/>
<rect x="133.91" y="92.26" width="4.04" height="5.12" fill="#b4ff43"/>
<rect x="137.65" y="92.26" width="11.52" height="5.12" fill="#80ff77"/>
<rect x="148.88" y="92.26" width="4.04" height="5.12" fill="#43ffb4"/>
<rect x="152.62" y="92.26" width="4.04" height="5.12" fill="#b4ff43"/>
<rect x="156.36" y="92.26" width="7.78" height="5.12" fill="#ebff0c"/>
<rect x="163.84" y="92.26" width="4.04" height="5.12" fill="#ff2900"/>
<rect x="74.05" y="97.08" width="11.52" height="5.12" fill="#ff8200"/>
<rect x="85.27" y="97.08" width="7.78" height="5.12" fill="#ebff0c"/>
<rect x="92.76" y="97.08" width="4.04" height="5.12" fill="#ff2900"/>
<rect x="103.98" y="97.08" width="11.52" height="5.12" fill="#ff8200"/>
<rect x="115.20" y="97.08" width="4.04" height="5.12" fill="#b4ff43"/>
<rect x="118.95" y="97.08" width="7.78" height="5.12" fill="#80ff77"/>
<rect x="126.43" y="97.08" width="4.04" height="5.12" fill="#b4ff43"/>
<rect x="130.17" y="97.08" width="7.78" height="5.12" fill="#ebff0c"/>
<rect x="137.65" y="97.08" width="4.04" height="5.12" fill="#b4ff43"/>
<rect x="141.40" y="97.08" width="11.52" height="5.12" fill="#43ffb4"/>
<rect x="152.62" y="97.08" width="4.04" height="5.12" fill="#b4ff43"/>
<rect x="156.36" y="97.08" width="7.78" height="5.12" fill="#ebff0c"/>
<rect x="163.84" y="97.08" width="4.04" height="5.12" fill="#ff2900"/>
<rect x="74.05" y="101.89" width="4.04" height="5.12" fill="#ffc400"/>
<rect x="77.79" y="101.89" width="4.04" height="5.12" fill="#ebff0c"/>
<rect x="81.53" y="101.89" width="4.04" height="5.12" fill="#ffc400"/>
<rect x="85.27" y="101.89" width="4.04" height="5.12" fill="#b4ff43"/>
<rect x="89.01" y="101.89" width="7.78" height="5.12" fill="#ebff0c"/>
<rect x="103.98" y="101.89" width="4.04" height="5.12" fill="#ebff0c"/>
<rect x="107.72" y="101.89" width="4.04" height="5.12" fill="#b4ff43"/>
<rect x="111.46" y="101.89" width="11.52" height="5.12" fill="#43ffb4"/>
<rect x="122.69" y="101.89" width="7.78" height="5.12" fill="#80ff77"/>
<rect x="130.17" y="101.89" width="4.04" height="5.12" fill="#43ffb4"/>
<rect x="133.91" y="101.89" width="7.78" height="5.12" fill="#80ff77"/>
<rect x="141.40" y="101.89" width="4.04" height="5.12" fill="#43ffb4"/>
<rect x="145.14" y="101.89" width="7.78" height="5.12" fill="#80ff77"/>
<rect x="152.62" y="101.89" width="4.04" height="5.12" fill="#b4ff43"/>
<rect x="156.36" y="101.89" width="4.04" height="5.12" fill="#ff8200"/>
<rect x="74.05" y="106.71" width="4.04" height="5.12" fill="#ff8200"/>
<rect x="77.79" y="106.71" width="4.04" height="5.12" fill="#ffc400"/>
<rect x="81.53" y="106.71" width="7.78" height="5.12" fill="#ff8200"/>
<rect x="89.01" y="106.71" width="4.04" height="5.12" fill="#b4ff43"/>
<rect x="92.76" y="106.71" width="7.78" height="5.12" fill="#ff8200"/>
<rect x="100.24" y="106.71" width="4.04" height="5.12" fill="#ebff0c"/>
<rect x="103.98" y="106.71" width="7.78" height="5.12" fill="#b4ff43"/>
<rect x="111.46" y="106.71" width="7.78" height="5.12" fill="#43ffb4"/>
<rect x="118.95" y="106.71" width="7.78" height="5.12" fill="#80ff77"/>
<rect x="126.43" y="106.71" width="4.04" height="5.12" fill="#43ffb4"/>
<rect x="130.17" y="106.71" width="4.04" height="5.12" fill="#80ff77"/>
<rect x="133.91" y="106.71" width="7.78" height="5.12" fill="#43ffb4"/>
<rect x="141.40" y="106.71" width="11.52" height="5.12" fill="#80ff77"/>
<rect x="152.62" y="106.71" width="7.78" height="5.12" fill="#ff2900"/>
<rect x="74.05" y="111.53" width="7.78" height="5.12" fill="#b4ff43"/>
<rect x="81.53" y="111.53" width="4.04" height="5.12" fill="#ebff0c"/>
<rect x="85.27" y="111.53" width="11.52" height="5.12" fill="#ff8200"/>
<rect x="96.50" y="111.53" width="4.04" height="5.12" fill="#ebff0c"/>
<rect x="100.24" y="111.53" width="4.04" height="5.12" fill="#b4ff43"/>
<rect x="103.98" y="111.53" width="7.78" height="5.12" fill="#80ff77"/>
<rect x="111.46" y="111.53" width="4.04" height="5.12" fill="#43ffb4"/>
<rect x="115.20" y="111.53" width="4.04" height="5.12" fill="#ebff0c"/>
<rect x="118.95" y="111.53" width="4.04" height="5.12" fill="#80ff77"/>
<rect x="122.69" y="111.53" width="4.04" height="5.12" fill="#43ffb4"/>
<rect x="126.43" y="111.53" width="4.04" height="5.12" fill="#00bcff"/>
<rect x="130.17" y="111.53" width="19.01" height="5.12" fill="#80ff77"/>
<rect x="148.88" y="111.53" width="4.04" height="5.12" fill="#ebff0c"/>
<rect x="152.62" y="111.53" width="4.04" height="5.12" fill="#ff2900"/>
<rect x="70.31" y="116.34" width="4.04" height="5.12" fill="#ebff0c"/>
<rect x="74.05" y="116.34" width="7.78" height="5.12" fill="#b4ff43"/>
<rect x="81.53" y="116.34" width="4.04" height="5.12" fill="#80ff77"/>
<rect x="85.27" y="116.34" width="11.52" height="5.12" fill="#ebff0c"/>
<rect x="96.50" y="116.34" width="4.04" height="5.12" fill="#b4ff43"/>
<rect x="100.24" y="116.34" width="7.78" height="5.12" fill="#80ff77"/>
<rect x="107.72" y="116.34" width="4.04" height="5.12" fill="#b4ff43"/>
<rect x="111.46" y="116.34" width="7.78" height="5.12" fill="#80ff77"/>
<rect x="118.95" y="116.34" width="4.04" height="5.12" fill="#43ffb4"/>
<rect x="122.69" y="116.34" width="15.27" height="5.12" fill="#80ff77"/>
<rect x="137.65" y="116.34" width="4.04" height="5.12" fill="#43ffb4"/>
<rect x="141.40" y="116.34" width="7.78" height="5.12" fill="#80ff77"/>
<rect x="148.88" y="116.34" width="4.04" height="5.12" fill="#ff8200"/>
<rect x="70.31" y="121.16" width="7.78" height="5.12" fill="#ff2900"/>
<rect x="77.79" y="121.16" width="4.04" height="5.12" fill="#ff8200"/>
<rect x="81.53" y="121.16" width="7.78" height="5.12" fill="#80ff77"/>
<rect x="89.01" y="121.16" width="4.04" height="5.12" fill="#b4ff43"/>
<rect x="92.76" y="121.16" width="7.78" height="5.12" fill="#80ff77"/>
<rect x="100.24" y="121.16" width="4.04" height="5.12" fill="#b4ff43"/>
<rect x="103.98" y="121.16" width="4.04" height="5.12" fill="#ebff0c"/>
<rect x="107.72" y="121.16" width="4.04" height="5.12" fill="#b4ff43"/>
<rect x="111.46" y="121.16" width="7.78" height="5.12" fill="#80ff77"/>
<rect x="118.95" y="121.16" width="4.04" height="5.12" fill="#43ffb4"/>
<rect x="122.69" y="121.16" width="11.52" height="5.12" fill="#80ff77"/>
<rect x="133.91" y="121.16" width="4.04" height="5.12" fill="#43ffb4"/>
<rect x="137.65" y="121.16" width="7.78" height="5.12" fill="#80ff77"/>
<rect x="145.14" y="121.16" width="4.04" height="5.12" fill="#ff8200"/>
<rect x="59.08" y="125.98" width="4.04" height="5.12" fill="#bf0000"/>
<rect x="62.82" y="125.98" width="7.78" height="5.12" fill="#ff2900"/>
<rect x="70.31" y="125.98" width="7.78" height="5.12" fill="#bf0000"/>
<rect x="77.79" y="125.98" width="4.04" height="5.12" fill="#ff8200"/>
<rect x="81.53" y="125.98" width="4.04" height="5.12" fill="#ebff0c"/>
<rect x="85.27" y="125.98" width="4.04" height="5.12" fill="#b4ff43"/>
<rect x="89.01" y="125.98" width="4.04" height="5.12" fill="#80ff77"/>
<rect x="92.76" y="125.98" width="7.78" height="5.12" fill="#43ffb4"/>
<rect x="100.24" y="125.98" width="4.04" height="5.12" fill="#80ff77"/>
<rect x="103.98" y="125.98" width="4.04" height="5.12" fill="#ebff0c"/>
<rect x="107.72" y="125.98" width="4.04" height="5.12" fill="#b4ff43"/>
<rect x="111.46" y="125.98" width="11.52" height="5.12" fill="#80ff77"/>
<rect x="122.69" y="125.98" width="4.04" height="5.12" fill="#43ffb4"/>
<rect x="126.43" y="125.98" width="4.04" height="5.12" fill="#80ff77"/>
<rect x="130.17" y="125.98" width="4.04" height="5.12" fill="#43ffb4"/>
<rect x="133.91" y="125.98" width="4.04" height="5.12" fill="#00bcff"/>
<rect x="137.65" y="125.98" width="4.04" height="5.12" fill="#43ffb4"/>
<rect x="141.40" y="125.98" width="4.04" height="5.12" fill="#b4ff43"/>
<rect x="145.14" y="125.98" width="4.04" height="5.12" fill="#ff8200"/>
<rect x="59.08" y="130.80" width="4.04" height="5.12" fill="#bf0000"/>
<rect x="62.82" y="130.80" width="7.78" height="5.12" fill="#ff2900"/>
<rect x="70.31" y="130.80" width="7.78" height="5.12" fill="#bf0000"/>
<rect x="77.79" y="130.80" width="11.52" height="5.12" fill="#ff8200"/>
<rect x="89.01" y="130.80" width="4.04" height="5.12" fill="#80ff77"/>
<rect x="92.76" y="130.80" width="7.78" height="5.12" fill="#43ffb4"/>
<rect x="100.24" y="130.80" width="7.78" height="5.12" fill="#80ff77"/>
<rect x="107.72" y="130.80" width="11.52" height="5.12" fill="#b4ff43"/>
<rect x="118.95" y="130.80" width="15.27" height="5.12" fill="#80ff77"/>
<rect x="133.91" y="130.80" width="4.04" height="5.12" fill="#43ffb4"/>
<rect x="137.65" y="130.80" width="4.04" height="5.12" fill="#80ff77"/>
<rect x="141.40" y="130.80" width="4.04" height="5.12" fill="#ff2900"/>
<rect x="51.60" y="135.61" width="4.04" height="5.12" fill="#ff8200"/>
<rect x="55.34" y="135.61" width="4.04" height="5.12" fill="#ff2900"/>
<rect x="59.08" y="135.61" width="4.04" height="5.12" fill="#bf0000"/>
<rect x="62.82" y="135.61" width="11.52" height="5.12" fill="#ff2900"/>
<rect x="74.05" y="135.61" width="7.78" height="5.12" fill="#bf0000"/>
<rect x="81.53" y="135.61" width="4.04" height="5.12" fill="#ff2900"/>
<rect x="85.27" y="135.61" width="7.78" height="5.12" fill="#ff8200"/>
<rect x="92.76" y="135.61" width="4.04" height="5.12" fill="#ebff0c"/>
<rect x="96.50" y="135.61" width="7.78" height="5.12" fill="#80ff77"/>
<rect x="103.98" y="135.61" width="4.04" height="5.12" fill="#ff8200"/>
<rect x="107.72" y="135.61" width="4.04" height="5.12" fill="#ebff0c"/>
<rect x="111.46" y="135.61" width="11.52" height="5.12" fill="#80ff77"/>
<rect x="122.69" y="135.61" width="4.04" height="5.12" fill="#b4ff43"/>
<rect x="126.43" y="135.61" width="7.78" height="5.12" fill="#ebff0c"/>
<rect x="133.91" y="135.61" width="7.78" height="5.12" fill="#80ff77"/>
<rect x="51.60" y="140.43" width="4.04" height="5.12" fill="#ff8200"/>
<rect x="55.34" y="140.43" width="15.27" height="5.12" fill="#ff2900"/>
<rect x="70.31" y="140.43" width="4.04" height="5.12" fill="#ebff0c"/>
<rect x="74.05" y="140.43" width="7.78" height="5.12" fill="#ff2900"/>
<rect x="81.53" y="140.43" width="4.04" height="5.12" fill="#bf0000"/>
<rect x="85.27" y="140.43" width="7.78" height="5.12" fill="#ff8200"/>
<rect x="92.76" y="140.43" width="4.04" height="5.12" fill="#ebff0c"/>
<rect x="96.50" y="140.43" width="7.78" height="5.12" fill="#ff8200"/>
<rect x="103.98" y="140.43" width="4.04" height="5.12" fill="#ebff0c"/>
<rect x="107.72" y="140.43" width="4.04" height="5.12" fill="#80ff77"/>
<rect x="111.46" y="140.43" width="4.04" height="5.12" fill="#b4ff43"/>
<rect x="115.20" y="140.43" width="4.04" height="5.12" fill="#80ff77"/>
<rect x="118.95" y="140.43" width="4.04" height="5.12" fill="#ebff0c"/>
<rect x="122.69" y="140.43" width="7.78" height="5.12" fill="#80ff77"/>
<rect x="130.17" y="140.43" width="4.04" height="5.12" fill="#b4ff43"/>
<rect x="133.91" y="140.43" width="4.04" height="5.12" fill="#ebff0c"/>
<rect x="137.65" y="140.43" width="4.04" height="5.12" fill="#b4ff43"/>
<rect x="51.60" y="145.25" width="4.04" height="5.12" fill="#ebff0c"/>
<rect x="55.34" y="145.25" width="15.27" height="5.12" fill="#ff8200"/>
<rect x="70.31" y="145.25" width="4.04" height="5.12" fill="#ff2900"/>
<rect x="74.05" y="145.25" width="7.78" height="5.12" fill="#bf0000"/>
<rect x="81.53" y="145.25" width="4.04" height="5.12" fill="#ff2900"/>
<rect x="85.27" y="145.25" width="19.01" height="5.12" fill="#ff8200"/>
<rect x="103.98" y="145.25" width="4.04" height="5.12" fill="#ebff0c"/>
<rect x="107.72" y="145.25" width="4.04" height="5.12" fill="#b4ff43"/>
<rect x="111.46" y="145.25" width="7.78" height="5.12" fill="#80ff77"/>
<rect x="118.95" y="145.25" width="4.04" height="5.12" fill="#b4ff43"/>
<rect x="122.69" y="145.25" width="4.04" height="5.12" fill="#80ff77"/>
<rect x="126.43" y="145.25" width="11.52" height="5.12" fill="#43ffb4"/>
<rect x="137.65" y="145.25" width="4.04" height="5.12" fill="#80ff77"/>
<rect x="55.34" y="150.07" width="7.78" height="5.12" fill="#ebff0c"/>
<rect x="62.82" y="150.07" width="7.78" height="5.12" fill="#ff8200"/>
<rect x="70.31" y="150.07" width="4.04" height="5.12" fill="#ebff0c"/>
<rect x="74.05" y="150.07" width="4.04" height="5.12" fill="#ff8200"/>
<rect x="77.79" y="150.07" width="4.04" height="5.12" fill="#ff2900"/>
<rect x="81.53" y="150.07" width="4.04" height="5.12" fill="#ff8200"/>
<rect x="85.27" y="150.07" width="4.04" height="5.12" fill="#ebff0c"/>
<rect x="89.01" y="150.07" width="11.52" height="5.12" fill="#ff8200"/>
<rect x="100.24" y="150.07" width="4.04" height="5.12" fill="#ebff0c"/>
<rect x="103.98" y="150.07" width="4.04" height="5.12" fill="#b4ff43"/>
<rect x="107.72" y="150.07" width="7.78" height="5.12" fill="#80ff77"/>
<rect x="115.20" y="150.07" width="4.04" height="5.12" fill="#b4ff43"/>
<rect x="118.95" y="150.07" width="4.04" height="5.12" fill="#80ff77"/>
<rect x="122.69" y="150.07" width="7.78" height="5.12" fill="#43ffb4"/>
<rect x="130.17" y="150.07" width="7.78" height="5.12" fill="#80ff77"/>
<rect x="137.65" y="150.07" width="4.04" height="5.12" fill="#ebff0c"/>
<rect x="62.82" y="154.88" width="11.52" height="5.12" fill="#ff8200"/>
<rect x="74.05" y="154.88" width="7.78" height="5.12" fill="#ebff0c"/>
<rect x="81.53" y="154.88" width="11.52" height="5.12" fill="#ff8200"/>
<rect x="92.76" y="154.88" width="4.04" height="5.12" fill="#ebff0c"/>
<rect x="96.50" y="154.88" width="4.04" height="5.12" fill="#b4ff43"/>
<rect x="100.24" y="154.88" width="4.04" height="5.12" fill="#80ff77"/>
<rect x="103.98" y="154.88" width="7.78" height="5.12" fill="#b4ff43"/>
<rect x="111.46" y="154.88" width="11.52" height="5.12" fill="#80ff77"/>
<rect x="122.69" y="154.88" width="4.04" height="5.12" fill="#43ffb4"/>
<rect x="126.43" y="154.88" width="4.04" height="5.12" fill="#80ff77"/>
<rect x="130.17" y="154.88" width="11.52" height="5.12" fill="#ebff0c"/>
<rect x="77.79" y="159.70" width="4.04" height="5.12" fill="#ebff0c"/>
<rect x="81.53" y="159.70" width="11.52" height="5.12" fill="#ff8200"/>
<rect x="92.76" y="159.70" width="4.04" height="5.12" fill="#b4ff43"/>
<rect x="96.50" y="159.70" width="4.04" height="5.12" fill="#80ff77"/>
<rect x="100.24" y="159.70" width="4.04" height="5.12" fill="#b4ff43"/>
<rect x="103.98" y="159.70" width="4.04" height="5.12" fill="#80ff77"/>
<rect x="107.72" y="159.70" width="4.04" height="5.12" fill="#b4ff43"/>
<rect x="111.46" y="159.70" width="26.49" height="5.12" fill="#80ff77"/>
<rect x="137.65" y="159.70" width="4.04" height="5.12" fill="#ffc400"/>
<rect x="141.40" y="159.70" width="4.04" height="5.12" fill="#80ff77"/>
<rect x="77.79" y="164.52" width="4.04" height="5.12" fill="#ff8200"/>
<rect x="81.53" y="164.52" width="7.78" height="5.12" fill="#80ff77"/>
<rect x="89.01" y="164.52" width="4.04" height="5.12" fill="#b4ff43"/>
<rect x="92.76" y="164.52" width="4.04" height="5.12" fill="#43ffb4"/>
<rect x="96.50" y="164.52" width="4.04" height="5.12" fill="#ebff0c"/>
<rect x="100.24" y="164.52" width="4.04" height="5.12" fill="#ff8200"/>
<rect x="103.98" y="164.52" width="4.04" height="5.12" fill="#b4ff43"/>
<rect x="107.72" y="164.52" width="4.04" height="5.12" fill="#ff8200"/>
<rect x="111.46" y="164.52" width="4.04" height="5.12" fill="#ebff0c"/>
<rect x="115.20" y="164.52" width="4.04" height="5.12" fill="#80ff77"/>
<rect x="118.95" y="164.52" width="4.04" height="5.12" fill="#43ffb4"/>
<rect x="122.69" y="164.52" width="7.78" height="5.12" fill="#80ff77"/>
<rect x="130.17" y="164.52" width="4.04" height="5.12" fill="#b4ff43"/>
<rect x="133.91" y="164.52" width="11.52" height="5.12" fill="#80ff77"/>
<rect x="77.79" y="169.33" width="4.04" height="5.12" fill="#ebff0c"/>
<rect x="81.53" y="169.33" width="7.78" height="5.12" fill="#80ff77"/>
<rect x="89.01" y="169.33" width="4.04" height="5.12" fill="#b4ff43"/>
<rect x="92.76" y="169.33" width="4.04" height="5.12" fill="#ff2900"/>
<rect x="96.50" y="169.33" width="4.04" height="5.12" fill="#bf0000"/>
<rect x="100.24" y="169.33" width="4.04" height="5.12" fill="#ff2900"/>
<rect x="103.98" y="169.33" width="4.04" height="5.12" fill="#b4ff43"/>
<rect x="107.72" y="169.33" width="11.52" height="5.12" fill="#80ff77"/>
<rect x="118.95" y="169.33" width="4.04" height="5.12" fill="#43ffb4"/>
<rect x="122.69" y="169.33" width="4.04" height="5.12" fill="#80ff77"/>
<rect x="126.43" y="169.33" width="7.78" height="5.12" fill="#ebff0c"/>
<rect x="133.91" y="169.33" width="11.52" height="5.12" fill="#80ff77"/>
<rect x="145.14" y="169.33" width="4.04" height="5.12" fill="#ebff0c"/>
<rect x="74.05" y="174.15" width="4.04" height="5.12" fill="#ff8200"/>
<rect x="77.79" y="174.15" width="4.04" height="5.12" fill="#ebff0c"/>
<rect x="81.53" y="174.15" width="11.52" height="5.12" fill="#80ff77"/>
<rect x="92.76" y="174.15" width="11.52" height="5.12" fill="#ff2900"/>
<rect x="103.98" y="174.15" width="4.04" height="5.12" fill="#b4ff43"/>
<rect x="107.72" y="174.15" width="11.52" height="5.12" fill="#80ff77"/>
<rect x="118.95" y="174.15" width="4.04" height="5.12" fill="#43ffb4"/>
<rect x="122.69" y="174.15" width="4.04" height="5.12" fill="#b4ff43"/>
<rect x="126.43" y="174.15" width="7.78" height="5.12" fill="#ebff0c"/>
<rect x="133.91" y="174.15" width="4.04" height="5.12" fill="#b4ff43"/>
<rect x="137.65" y="174.15" width="11.52" height="5.12" fill="#80ff77"/>
<rect x="70.31" y="178.97" width="4.04" height="5.12" fill="#bf0000"/>
<rect x="74.05" y="178.97" width="4.04" height="5.12" fill="#ebff0c"/>
<rect x="77.79" y="178.97" width="4.04" height="5.12" fill="#b4ff43"/>
<rect x="81.53" y="178.97" width="4.04" height="5.12" fill="#80ff77"/>
<rect x="85.27" y="178.97" width="7.78" height="5.12" fill="#b4ff43"/>
<rect x="92.76" y="178.97" width="7.78" height="5.12" fill="#ff2900"/>
<rect x="100.24" y="178.97" width="4.04" height="5.12" fill="#ff8200"/>
<rect x="103.98" y="178.97" width="7.78" height="5.12" fill="#80ff77"/>
<rect x="111.46" y="178.97" width="4.04" height="5.12" fill="#b4ff43"/>
<rect x="115.20" y="178.97" width="7.78" height="5.12" fill="#80ff77"/>
<rect x="122.69" y="178.97" width="7.78" height="5.12" fill="#b4ff43"/>
<rect x="130.17" y="178.97" width="4.04" height="5.12" fill="#ebff0c"/>
<rect x="133.91" y="178.97" width="4.04" height="5.12" fill="#80ff77"/>
<rect x="137.65" y="178.97" width="4.04" height="5.12" fill="#b4ff43"/>
<rect x="141.40" y="178.97" width="7.78" height="5.12" fill="#80ff77"/>
<rect x="70.31" y="183.79" width="4.04" height="5.12" fill="#ff8200"/>
<rect x="74.05" y="183.79" width="4.04" height="5.12" fill="#ebff0c"/>
<rect x="77.79" y="183.79" width="4.04" height="5.12" fill="#b4ff43"/>
<rect x="81.53" y="183.79" width="7.78" height="5.12" fill="#80ff77"/>
<rect x="89.01" y="183.79" width="4.04" height="5.12" fill="#ebff0c"/>
<rect x="92.76" y="183.79" width="7.78" height="5.12" fill="#ff8200"/>
<rect x="100.24" y="183.79" width="4.04" height="5.12" fill="#ebff0c"/>
<rect x="103.98" y="183.79" width="15.27" height="5.12" fill="#80ff77"/>
<rect x="118.95" y="183.79" width="4.04" height="5.12" fill="#b4ff43"/>
<rect x="122.69" y="183.79" width="4.04" height="5.12" fill="#ebff0c"/>
<rect x="126.43" y="183.79" width="4.04" height="5.12" fill="#b4ff43"/>
<rect x="130.17" y="183.79" width="4.04" height="5.12" fill="#ff8200"/>
<rect x="133.91" y="183.79" width="7.78" height="5.12" fill="#80ff77"/>
<rect x="141.40" y="183.79" width="11.52" height="5.12" fill="#43ffb4"/>
<rect x="74.05" y="188.60" width="7.78" height="5.12" fill="#ff8200"/>
<rect x="81.53" y="188.60" width="4.04" height="5.12" fill="#43ffb4"/>
<rect x="85.27" y="188.60" width="7.78" height="5.12" fill="#ebff0c"/>
<rect x="92.76" y="188.60" width="4.04" height="5.12" fill="#ff2900"/>
<rect x="96.50" y="188.60" width="4.04" height="5.12" fill="#ff8200"/>
<rect x="100.24" y="188.60" width="4.04" height="5.12" fill="#ebff0c"/>
<rect x="103.98" y="188.60" width="4.04" height="5.12" fill="#80ff77"/>
<rect x="107.72" y="188.60" width="4.04" height="5.12" fill="#43ffb4"/>
<rect x="111.46" y="188.60" width="11.52" height="5.12" fill="#b4ff43"/>
<rect x="122.69" y="188.60" width="11.52" height="5.12" fill="#ebff0c"/>
<rect x="133.91" y="188.60" width="4.04" height="5.12" fill="#80ff77"/>
<rect x="137.65" y="188.60" width="4.04" height="5.12" fill="#ebff0c"/>
<rect x="141.40" y="188.60" width="4.04" height="5.12" fill="#80ff77"/>
<rect x="145.14" y="188.60" width="7.78" height="5.12" fill="#43ffb4"/>
<rect x="152.62" y="188.60" width="4.04" height="5.12" fill="#80ff77"/>
<rect x="77.79" y="193.42" width="4.04" height="5.12" fill="#ebff0c"/>
<rect x="81.53" y="193.42" width="4.04" height="5.12" fill="#43ffb4"/>
<rect x="85.27" y="193.42" width="7.78" height="5.12" fill="#ff8200"/>
<rect x="92.76" y="193.42" width="4.04" height="5.12" fill="#ff2900"/>
<rect x="96.50" y="193.42" width="4.04" height="5.12" fill="#ebff0c"/>
<rect x="100.24" y="193.42" width="4.04" height="5.12" fill="#ff8200"/>
<rect x="103.98" y="193.42" width="4.04" height="5.12" fill="#80ff77"/>
<rect x="107.72" y="193.42" width="4.04" height="5.12" fill="#ebff0c"/>
<rect x="111.46" y="193.42" width="4.04" height="5.12" fill="#80ff77"/>
<rect x="115.20" y="193.42" width="4.04" height="5.12" fill="#ebff0c"/>
<rect x="118.95" y="193.42" width="11.52" height="5.12" fill="#b4ff43"/>
<rect x="130.17" y="193.42" width="4.04" height="5.12" fill="#ff8200"/>
<rect x="133.91" y="193.42" width="11.52" height="5.12" fill="#80ff77"/>
<rect x="145.14" y="193.42" width="11.52" height="5.12" fill="#43ffb4"/>
<rect x="156.36" y="193.42" width="4.04" height="5.12" fill="#80ff77"/>
<rect x="96.50" y="198.24" width="4.04" height="5.12" fill="#ff8200"/>
<rect x="100.24" y="198.24" width="4.04" height="5.12" fill="#ff2900"/>
<rect x="103.98" y="198.24" width="4.04" height="5.12" fill="#ffc400"/>
<rect x="107.72" y="198.24" width="4.04" height="5.12" fill="#ebff0c"/>
<rect x="111.46" y="198.24" width="7.78" height="5.12" fill="#b4ff43"/>
<rect x="118.95" y="198.24" width="7.78" height="5.12" fill="#ff2900"/>
<rect x="126.43" y="198.24" width="15.27" height="5.12" fill="#ff8200"/>
<rect x="141.40" y="198.24" width="7.78" height="5.12" fill="#80ff77"/>
<rect x="148.88" y="198.24" width="11.52" height="5.12" fill="#43ffb4"/>
<rect x="160.10" y="198.24" width="4.04" height="5.12" fill="#00bcff"/>
<rect x="96.50" y="203.06" width="19.01" height="5.12" fill="#b4ff43"/>
<rect x="115.20" y="203.06" width="4.04" height="5.12" fill="#80ff77"/>
<rect x="118.95" y="203.06" width="4.04" height="5.12" fill="#ff8200"/>
<rect x="122.69" y="203.06" width="7.78" height="5.12" fill="#ebff0c"/>
<rect x="130.17" y="203.06" width="7.78" height="5.12" fill="#b4ff43"/>
<rect x="137.65" y="203.06" width="4.04" height="5.12" fill="#80ff77"/>
<rect x="141.40" y="203.06" width="7.78" height="5.12" fill="#b4ff43"/>
<rect x="148.88" y="203.06" width="4.04" height="5.12" fill="#80ff77"/>
<rect x="152.62" y="203.06" width="4.04" height="5.12" fill="#b4ff43"/>
<rect x="156.36" y="203.06" width="4.04" height="5.12" fill="#80ff77"/>
<rect x="160.10" y="203.06" width="4.04" height="5.12" fill="#43ffb4"/>
<rect x="163.84" y="203.06" width="7.78" height="5.12" fill="#80ff77"/>
<rect x="171.33" y="203.06" width="4.04" height="5.12" fill="#43ffb4"/>
<rect x="96.50" y="207.87" width="4.04" height="5.12" fill="#ff8200"/>
<rect x="100.24" y="207.87" width="4.04" height="5.12" fill="#ff2900"/>
<rect x="103.98" y="207.87" width="4.04" height="5.12" fill="#ebff0c"/>
<rect x="107.72" y="207.87" width="4.04" height="5.12" fill="#ff8200"/>
<rect x="111.46" y="207.87" width="7.78" height="5.12" fill="#ebff0c"/>
<rect x="118.95" y="207.87" width="4.04" height="5.12" fill="#80ff77"/>
<rect x="122.69" y="207.87" width="4.04" height="5.12" fill="#b4ff43"/>
<rect x="126.43" y="207.87" width="4.04" height="5.12" fill="#ff8200"/>
<rect x="130.17" y="207.87" width="4.04" height="5.12" fill="#b4ff43"/>
<rect x="133.91" y="207.87" width="4.04" height="5.12" fill="#80ff77"/>
<rect x="137.65" y="207.87" width="7.78" height="5.12" fill="#ebff0c"/>
<rect x="145.14" y="207.87" width="11.52" height="5.12" fill="#ff8200"/>
<rect x="156.36" y="207.87" width="4.04" height="5.12" fill="#ebff0c"/>
<rect x="160.10" y="207.87" width="4.04" height="5.12" fill="#b4ff43"/>
<rect x="163.84" y="207.87" width="11.52" height="5.12" fill="#80ff77"/>
<rect x="175.07" y="207.87" width="4.04" height="5.12" fill="#43ffb4"/>
<rect x="92.76" y="212.69" width="4.04" height="5.12" fill="#ff8200"/>
<rect x="96.50" y="212.69" width="4.04" height="5.12" fill="#bf0000"/>
<rect x="100.24" y="212.69" width="4.04" height="5.12" fill="#ff2900"/>
<rect x="103.98" y="212.69" width="4.04" height="5.12" fill="#ff8200"/>
<rect x="107.72" y="212.69" width="4.04" height="5.12" fill="#80ff77"/>
<rect x="111.46" y="212.69" width="4.04" height="5.12" fill="#b4ff43"/>
<rect x="115.20" y="212.69" width="4.04" height="5.12" fill="#80ff77"/>
<rect x="118.95" y="212.69" width="4.04" height="5.12" fill="#b4ff43"/>
<rect x="122.69" y="212.69" width="4.04" height="5.12" fill="#ff8200"/>
<rect x="126.43" y="212.69" width="4.04" height="5.12" fill="#ff2900"/>
<rect x="130.17" y="212.69" width="4.04" height="5.12" fill="#ebff0c"/>
<rect x="133.91" y="212.69" width="4.04" height="5.12" fill="#ff8200"/>
<rect x="137.65" y="212.69" width="4.04" height="5.12" fill="#ebff0c"/>
<rect x="141.40" y="212.69" width="4.04" height="5.12" fill="#ff2900"/>
<rect x="145.14" y="212.69" width="4.04" height="5.12" fill="#bf0000"/>
<rect x="148.88" y="212.69" width="7.78" height="5.12" fill="#ff8200"/>
<rect x="156.36" y="212.69" width="7.78" height="5.12" fill="#ebff0c"/>
<rect x="163.84" y="212.69" width="7.78" height="5.12" fill="#80ff77"/>
<rect x="171.33" y="212.69" width="4.04" height="5.12" fill="#b4ff43"/>
<rect x="175.07" y="212.69" width="4.04" height="5.12" fill="#ff8200"/>
<rect x="96.50" y="217.51" width="7.78" height="5.12" fill="#ff8200"/>
<rect x="103.98" y="217.51" width="4.04" height="5.12" fill="#43ffb4"/>
<rect x="107.72" y="217.51" width="7.78" height="5.12" fill="#ebff0c"/>
<rect x="115.20" y="217.51" width="4.04" height="5.12" fill="#b4ff43"/>
<rect x="118.95" y="217.51" width="11.52" height="5.12" fill="#ff8200"/>
<rect x="130.17" y="217.51" width="11.52" height="5.12" fill="#b4ff43"/>
<rect x="141.40" y="217.51" width="7.78" height="5.12" fill="#ff8200"/>
<rect x="148.88" y="217.51" width="4.04" height="5.12" fill="#ebff0c"/>
<rect x="152.62" y="217.51" width="4.04" height="5.12" fill="#bf0000"/>
<rect x="156.36" y="217.51" width="7.78" height="5.12" fill="#ff8200"/>
<rect x="163.84" y="217.51" width="4.04" height="5.12" fill="#ebff0c"/>
<rect x="167.59" y="217.51" width="4.04" height="5.12" fill="#ff8200"/>
<rect x="171.33" y="217.51" width="7.78" height="5.12" fill="#ff2900"/>
<rect x="89.01" y="222.32" width="4.04" height="5.12" fill="#00bcff"/>
<rect x="92.76" y="222.32" width="4.04" height="5.12" fill="#ebff0c"/>
<rect x="96.50" y="222.32" width="4.04" height="5.12" fill="#80ff77"/>
<rect x="100.24" y="222.32" width="4.04" height="5.12" fill="#43ffb4"/>
<rect x="103.98" y="222.32" width="7.78" height="5.12" fill="#80ff77"/>
<rect x="111.46" y="222.32" width="7.78" height="5.12" fill="#43ffb4"/>
<rect x="118.95" y="222.32" width="4.04" height="5.12" fill="#80ff77"/>
<rect x="122.69" y="222.32" width="4.04" height="5.12" fill="#ff8200"/>
<rect x="126.43" y="222.32" width="4.04" height="5.12" fill="#ff2900"/>
<rect x="130.17" y="222.32" width="11.52" height="5.12" fill="#ff8200"/>
<rect x="141.40" y="222.32" width="7.78" height="5.12" fill="#ff2900"/>
<rect x="148.88" y="222.32" width="4.04" height="5.12" fill="#ff8200"/>
<rect x="152.62" y="222.32" width="4.04" height="5.12" fill="#ebff0c"/>
<rect x="156.36" y="222.32" width="4.04" height="5.12" fill="#b4ff43"/>
<rect x="160.10" y="222.32" width="7.78" height="5.12" fill="#ff8200"/>
<rect x="167.59" y="222.32" width="4.04" height="5.12" fill="#ebff0c"/>
<rect x="89.01" y="227.14" width="7.78" height="5.12" fill="#b4ff43"/>
<rect x="96.50" y="227.14" width="7.78" height="5.12" fill="#43ffb4"/>
<rect x="103.98" y="227.14" width="4.04" height="5.12" fill="#80ff77"/>
<rect x="107.72" y="227.14" width="11.52" height="5.12" fill="#43ffb4"/>
<rect x="118.95" y="227.14" width="4.04" height="5.12" fill="#80ff77"/>
<rect x="122.69" y="227.14" width="7.78" height="5.12" fill="#ff8200"/>
<rect x="130.17" y="227.14" width="4.04" height="5.12" fill="#ebff0c"/>
<rect x="133.91" y="227.14" width="4.04" height="5.12" fill="#ff8200"/>
<rect x="137.65" y="227.14" width="11.52" height="5.12" fill="#ebff0c"/>
<rect x="148.88" y="227.14" width="4.04" height="5.12" fill="#ff8200"/>
<rect x="152.62" y="227.14" width="4.04" height="5.12" fill="#ebff0c"/>
<rect x="156.36" y="227.14" width="4.04" height="5.12" fill="#ff8200"/>
<rect x="89.01" y="231.96" width="4.04" height="5.12" fill="#ff8200"/>
<rect x="92.76" y="231.96" width="4.04" height="5.12" fill="#b4ff43"/>
<rect x="96.50" y="231.96" width="19.01" height="5.12" fill="#80ff77"/>
<rect x="115.20" y="231.96" width="7.78" height="5.12" fill="#b4ff43"/>
<rect x="122.69" y="231.96" width="15.27" height="5.12" fill="#ebff0c"/>
<rect x="137.65" y="231.96" width="4.04" height="5.12" fill="#b4ff43"/>
<rect x="141.40" y="231.96" width="4.04" height="5.12" fill="#ebff0c"/>
<rect x="145.14" y="231.96" width="4.04" height="5.12" fill="#b4ff43"/>
<rect x="148.88" y="231.96" width="11.52" height="5.12" fill="#ff8200"/>
<rect x="89.01" y="236.78" width="4.04" height="5.12" fill="#00bcff"/>
<rect x="92.76" y="236.78" width="4.04" height="5.12" fill="#80ff77"/>
<rect x="96.50" y="236.78" width="4.04" height="5.12" fill="#ebff0c"/>
<rect x="100.24" y="236.78" width="4.04" height="5.12" fill="#b4ff43"/>
<rect x="103.98" y="236.78" width="4.04" height="5.12" fill="#80ff77"/>
<rect x="107.72" y="236.78" width="4.04" height="5.12" fill="#b4ff43"/>
<rect x="111.46" y="236.78" width="4.04" height="5.12" fill="#ebff0c"/>
<rect x="115.20" y="236.78" width="7.78" height="5.12" fill="#80ff77"/>
<rect x="122.69" y="236.78" width="7.78" height="5.12" fill="#43ffb4"/>
<rect x="130.17" y="236.78" width="4.04" height="5.12" fill="#80ff77"/>
<rect x="133.91" y="236.78" width="4.04" height="5.12" fill="#b4ff43"/>
<rect x="137.65" y="236.78" width="4.04" height="5.12" fill="#ff8200"/>
<rect x="85.27" y="241.59" width="4.04" height="5.12" fill="#80ff77"/>
<rect x="89.01" y="241.59" width="7.78" height="5.12" fill="#b4ff43"/>
<rect x="96.50" y="241.59" width="4.04" height="5.12" fill="#80ff77"/>
<rect x="100.24" y="241.59" width="4.04" height="5.12" fill="#ebff0c"/>
<rect x="103.98" y="241.59" width="4.04" height="5.12" fill="#b4ff43"/>
<rect x="107.72" y="241.59" width="4.04" height="5.12" fill="#80ff77"/>
<rect x="111.46" y="241.59" width="4.04" height="5.12" fill="#43ffb4"/>
<rect x="115.20" y="241.59" width="4.04" height="5.12" fill="#80ff77"/>
<rect x="118.95" y="241.59" width="15.27" height="5.12" fill="#43ffb4"/>
<rect x="133.91" y="241.59" width="4.04" height="5.12" fill="#ebff0c"/>
<rect x="85.27" y="246.41" width="4.04" height="5.12" fill="#80ff77"/>
<rect x="89.01" y="246.41" width="4.04" height="5.12" fill="#b4ff43"/>
<rect x="92.76" y="246.41" width="4.04" height="5.12" fill="#80ff77"/>
<rect x="96.50" y="246.41" width="4.04" height="5.12" fill="#ebff0c"/>
<rect x="100.24" y="246.41" width="7.78" height="5.12" fill="#80ff77"/>
<rect x="107.72" y="246.41" width="4.04" height="5.12" fill="#00bcff"/>
<rect x="111.46" y="246.41" width="4.04" height="5.12" fill="#43ffb4"/>
<rect x="115.20" y="246.41" width="11.52" height="5.12" fill="#80ff77"/>
<rect x="126.43" y="246.41" width="7.78" height="5.12" fill="#ebff0c"/>
<rect x="85.27" y="251.23" width="4.04" height="5.12" fill="#b4ff43"/>
<rect x="89.01" y="251.23" width="4.04" height="5.12" fill="#ff8200"/>
<rect x="92.76" y="251.23" width="4.04" height="5.12" fill="#80ff77"/>
<rect x="96.50" y="251.23" width="4.04" height="5.12" fill="#43ffb4"/>
<rect x="100.24" y="251.23" width="4.04" height="5.12" fill="#80ff77"/>
<rect x="103.98" y="251.23" width="4.04" height="5.12" fill="#b4ff43"/>
<rect x="107.72" y="251.23" width="11.52" height="5.12" fill="#80ff77"/>
<rect x="118.95" y="251.23" width="7.78" height="5.12" fill="#ebff0c"/>
<rect x="126.43" y="251.23" width="4.04" height="5.12" fill="#ff8200"/>
<rect x="92.76" y="256.04" width="4.04" height="5.12" fill="#ebff0c"/>
<rect x="96.50" y="256.04" width="4.04" height="5.12" fill="#ff8200"/>
<rect x="100.24" y="256.04" width="4.04" height="5.12" fill="#ebff0c"/>
<rect x="103.98" y="256.04" width="19.01" height="5.12" fill="#80ff77"/>
<rect x="92.76" y="260.86" width="4.04" height="5.12" fill="#80ff77"/>
<rect x="96.50" y="260.86" width="4.04" height="5.12" fill="#00bcff"/>
<rect x="100.24" y="260.86" width="7.78" height="5.12" fill="#0068ff"/>
<rect x="107.72" y="260.86" width="4.04" height="5.12" fill="#00bcff"/>
<rect x="111.46" y="260.86" width="4.04" height="5.12" fill="#43ffb4"/>
<rect x="115.20" y="260.86" width="4.04" height="5.12" fill="#80ff77"/>
<rect x="118.95" y="260.86" width="7.78" height="5.12" fill="#ebff0c"/>
<rect x="92.76" y="265.68" width="4.04" height="5.12" fill="#00bcff"/>
<rect x="96.50" y="265.68" width="11.52" height="5.12" fill="#0068ff"/>
<rect x="107.72" y="265.68" width="4.04" height="5.12" fill="#00bcff"/>
<rect x="111.46" y="265.68" width="4.04" height="5.12" fill="#43ffb4"/>
<rect x="115.20" y="265.68" width="7.78" height="5.12" fill="#ff2900"/>
<rect x="122.69" y="265.68" width="4.04" height="5.12" fill="#ff8200"/>
<rect x="89.01" y="270.50" width="4.04" height="5.12" fill="#43ffb4"/>
<rect x="92.76" y="270.50" width="15.27" height="5.12" fill="#0068ff"/>
<rect x="107.72" y="270.50" width="4.04" height="5.12" fill="#00bcff"/>
<rect x="111.46" y="270.50" width="4.04" height="5.12" fill="#43ffb4"/>
<rect x="115.20" y="270.50" width="4.04" height="5.12" fill="#ff2900"/>
<rect x="89.01" y="275.31" width="7.78" height="5.12" fill="#0068ff"/>
<rect x="96.50" y="275.31" width="4.04" height="5.12" fill="#00bcff"/>
<rect x="100.24" y="275.31" width="7.78" height="5.12" fill="#80ff77"/>
<rect x="107.72" y="275.31" width="7.78" height="5.12" fill="#ebff0c"/>
<rect x="92.76" y="280.13" width="4.04" height="5.12" fill="#43ffb4"/>
<rect x="96.50" y="280.13" width="4.04" height="5.12" fill="#ebff0c"/>
<rect x="100.24" y="280.13" width="4.04" height="5.12" fill="#b4ff43"/>
<rect x="103.98" y="280.13" width="4.04" height="5.12" fill="#43ffb4"/>
<rect x="107.72" y="280.13" width="4.04" height="5.12" fill="#ff8200"/>
<rect x="111.46" y="280.13" width="4.04" height="5.12" fill="#ebff0c"/>
<rect x="92.76" y="284.95" width="4.04" height="5.12" fill="#43ffb4"/>
<rect x="96.50" y="284.95" width="11.52" height="5.12" fill="#80ff77"/>
<rect x="107.72" y="284.95" width="7.78" height="5.12" fill="#b4ff43"/>
<rect x="96.50" y="289.77" width="11.52" height="5.12" fill="#80ff77"/>
<rect x="107.72" y="289.77" width="4.04" height="5.12" fill="#ebff0c"/>
<rect x="100.24" y="294.58" width="7.78" height="5.12" fill="#80ff77"/>
</g>
<circle cx="130.4" cy="270.6" r="0.75" fill="#666" shape-rendering="geometricPrecision"/>
<rect x="51.60" y="20.00" width="153.40" height="279.40" fill="none" stroke="#262626" stroke-width="0.9"/>
<line x1="48.1" y1="46.40" x2="51.60" y2="46.40" stroke="#262626" stroke-width="0.9"/>
<text x="43.6" y="51.20" font-size="10.5" text-anchor="end" textLength="21" lengthAdjust="spacingAndGlyphs" fill="#1a1a1a">40.5</text>
<line x1="48.1" y1="94.56" x2="51.60" y2="94.56" stroke="#262626" stroke-width="0.9"/>
<text x="43.6" y="99.36" font-size="10.5" text-anchor="end" textLength="21" lengthAdjust="spacingAndGlyphs" fill="#1a1a1a">40.0</text>
<line x1="48.1" y1="142.72" x2="51.60" y2="142.72" stroke="#262626" stroke-width="0.9"/>
<text x="43.6" y="147.52" font-size="10.5" text-anchor="end" textLength="21" lengthAdjust="spacingAndGlyphs" fill="#1a1a1a">39.5</text>
<line x1="48.1" y1="190.88" x2="51.60" y2="190.88" stroke="#262626" stroke-width="0.9"/>
<text x="43.6" y="195.68" font-size="10.5" text-anchor="end" textLength="21" lengthAdjust="spacingAndGlyphs" fill="#1a1a1a">39.0</text>
<line x1="48.1" y1="239.04" x2="51.60" y2="239.04" stroke="#262626" stroke-width="0.9"/>
<text x="43.6" y="243.84" font-size="10.5" text-anchor="end" textLength="21" lengthAdjust="spacingAndGlyphs" fill="#1a1a1a">38.5</text>
<line x1="48.1" y1="287.20" x2="51.60" y2="287.20" stroke="#262626" stroke-width="0.9"/>
<text x="43.6" y="292.00" font-size="10.5" text-anchor="end" textLength="21" lengthAdjust="spacingAndGlyphs" fill="#1a1a1a">38.0</text>
<line x1="53.50" y1="299.40" x2="53.50" y2="302.9" stroke="#262626" stroke-width="0.9"/>
<text x="52.70" y="315.0" font-size="10.5" text-anchor="middle" textLength="22.6" lengthAdjust="spacingAndGlyphs" fill="#1a1a1a">−1.5</text>
<line x1="90.85" y1="299.40" x2="90.85" y2="302.9" stroke="#262626" stroke-width="0.9"/>
<text x="90.05" y="315.0" font-size="10.5" text-anchor="middle" textLength="22.6" lengthAdjust="spacingAndGlyphs" fill="#1a1a1a">−1.0</text>
<line x1="128.20" y1="299.40" x2="128.20" y2="302.9" stroke="#262626" stroke-width="0.9"/>
<text x="127.40" y="315.0" font-size="10.5" text-anchor="middle" textLength="22.6" lengthAdjust="spacingAndGlyphs" fill="#1a1a1a">−0.5</text>
<line x1="165.55" y1="299.40" x2="165.55" y2="302.9" stroke="#262626" stroke-width="0.9"/>
<text x="165.55" y="315.0" font-size="10.5" text-anchor="middle" fill="#1a1a1a">0.0</text>
<line x1="202.90" y1="299.40" x2="202.90" y2="302.9" stroke="#262626" stroke-width="0.9"/>
<text x="202.90" y="315.0" font-size="10.5" text-anchor="middle" fill="#1a1a1a">0.5</text>
<text x="128.4" y="328.6" font-size="10.5" text-anchor="middle" textLength="127" lengthAdjust="spacingAndGlyphs" fill="#1a1a1a">longitude [degrees_east]</text>
<text transform="translate(15,159.75) rotate(-90)" x="0" y="0" font-size="10.5" text-anchor="middle" textLength="124" lengthAdjust="spacingAndGlyphs" fill="#1a1a1a">latitude [degrees_north]</text>
<rect x="215.60" y="32.45" width="14.20" height="266.15" fill="url(#jetg)"/>
<path d="M215.60 32.65 L229.80 32.65 L222.70 19.20 Z" fill="#800000"/>
<path d="M215.60 32.45 L215.60 298.60 L229.80 298.60 L229.80 32.45 L222.70 19.20 Z" fill="none" stroke="#111" stroke-width="0.8"/>
<line x1="229.80" y1="57.94" x2="233.4" y2="57.94" stroke="#262626" stroke-width="0.9"/>
<text x="237.8" y="62.84" font-size="10.5" fill="#1a1a1a">0.6</text>
<line x1="229.80" y1="93.86" x2="233.4" y2="93.86" stroke="#262626" stroke-width="0.9"/>
<text x="237.8" y="98.76" font-size="10.5" fill="#1a1a1a">0.4</text>
<line x1="229.80" y1="129.78" x2="233.4" y2="129.78" stroke="#262626" stroke-width="0.9"/>
<text x="237.8" y="134.68" font-size="10.5" fill="#1a1a1a">0.2</text>
<line x1="229.80" y1="165.70" x2="233.4" y2="165.70" stroke="#262626" stroke-width="0.9"/>
<text x="237.8" y="170.60" font-size="10.5" fill="#1a1a1a">0.0</text>
<line x1="229.80" y1="201.62" x2="233.4" y2="201.62" stroke="#262626" stroke-width="0.9"/>
<text x="238.1" y="206.52" font-size="10.5" textLength="22.8" lengthAdjust="spacingAndGlyphs" fill="#1a1a1a">−0.2</text>
<line x1="229.80" y1="237.54" x2="233.4" y2="237.54" stroke="#262626" stroke-width="0.9"/>
<text x="238.1" y="242.44" font-size="10.5" textLength="22.8" lengthAdjust="spacingAndGlyphs" fill="#1a1a1a">−0.4</text>
<line x1="229.80" y1="273.46" x2="233.4" y2="273.46" stroke="#262626" stroke-width="0.9"/>
<text x="238.1" y="278.36" font-size="10.5" textLength="22.8" lengthAdjust="spacingAndGlyphs" fill="#1a1a1a">−0.6</text></g>
<g transform="translate(0.00,361.40)"><text x="128.35" y="13.6" font-size="12" text-anchor="middle" textLength="95.4" lengthAdjust="spacingAndGlyphs" fill="#1a1a1a">2012 anomalies</text>
<g clip-path="url(#axclip)">
<g fill="#505050" stroke="#505050" stroke-width="1.50" stroke-linejoin="round" shape-rendering="geometricPrecision"><rect x="148.88" y="20.00" width="7.48" height="4.82"/><rect x="148.88" y="24.82" width="18.71" height="4.82"/><rect x="171.33" y="24.82" width="14.97" height="4.82"/><rect x="137.65" y="29.63" width="48.64" height="4.82"/><rect x="145.14" y="34.45" width="52.38" height="4.82"/><rect x="145.14" y="39.27" width="52.38" height="4.82"/><rect x="145.14" y="44.09" width="56.12" height="4.82"/><rect x="141.40" y="48.90" width="59.86" height="4.82"/><rect x="141.40" y="53.72" width="52.38" height="4.82"/><rect x="141.40" y="58.54" width="48.64" height="4.82"/><rect x="137.65" y="63.36" width="52.38" height="4.82"/><rect x="133.91" y="68.17" width="52.38" height="4.82"/><rect x="66.57" y="72.99" width="3.74" height="4.82"/><rect x="122.69" y="72.99" width="59.86" height="4.82"/><rect x="66.57" y="77.81" width="3.74" height="4.82"/><rect x="122.69" y="77.81" width="56.12" height="4.82"/><rect x="59.08" y="82.62" width="22.45" height="4.82"/><rect x="118.95" y="82.62" width="56.12" height="4.82"/><rect x="62.82" y="87.44" width="22.45" height="4.82"/><rect x="115.20" y="87.44" width="56.12" height="4.82"/><rect x="70.31" y="92.26" width="3.74" height="4.82"/><rect x="107.72" y="92.26" width="59.86" height="4.82"/><rect x="74.05" y="97.08" width="22.45" height="4.82"/><rect x="103.98" y="97.08" width="63.60" height="4.82"/><rect x="74.05" y="101.89" width="22.45" height="4.82"/><rect x="103.98" y="101.89" width="56.12" height="4.82"/><rect x="74.05" y="106.71" width="86.05" height="4.82"/><rect x="74.05" y="111.53" width="82.31" height="4.82"/><rect x="70.31" y="116.34" width="82.31" height="4.82"/><rect x="70.31" y="121.16" width="78.57" height="4.82"/><rect x="59.08" y="125.98" width="89.80" height="4.82"/><rect x="59.08" y="130.80" width="86.05" height="4.82"/><rect x="51.60" y="135.61" width="89.80" height="4.82"/><rect x="51.60" y="140.43" width="89.80" height="4.82"/><rect x="51.60" y="145.25" width="89.80" height="4.82"/><rect x="55.34" y="150.07" width="86.05" height="4.82"/><rect x="62.82" y="154.88" width="78.57" height="4.82"/><rect x="77.79" y="159.70" width="67.35" height="4.82"/><rect x="77.79" y="164.52" width="67.35" height="4.82"/><rect x="77.79" y="169.33" width="71.09" height="4.82"/><rect x="74.05" y="174.15" width="74.83" height="4.82"/><rect x="70.31" y="178.97" width="78.57" height="4.82"/><rect x="70.31" y="183.79" width="82.31" height="4.82"/><rect x="74.05" y="188.60" width="82.31" height="4.82"/><rect x="77.79" y="193.42" width="82.31" height="4.82"/><rect x="96.50" y="198.24" width="67.35" height="4.82"/><rect x="96.50" y="203.06" width="78.57" height="4.82"/><rect x="96.50" y="207.87" width="82.31" height="4.82"/><rect x="92.76" y="212.69" width="86.05" height="4.82"/><rect x="96.50" y="217.51" width="82.31" height="4.82"/><rect x="89.01" y="222.32" width="82.31" height="4.82"/><rect x="89.01" y="227.14" width="71.09" height="4.82"/><rect x="89.01" y="231.96" width="71.09" height="4.82"/><rect x="89.01" y="236.78" width="52.38" height="4.82"/><rect x="85.27" y="241.59" width="52.38" height="4.82"/><rect x="85.27" y="246.41" width="48.64" height="4.82"/><rect x="85.27" y="251.23" width="44.90" height="4.82"/><rect x="92.76" y="256.04" width="29.93" height="4.82"/><rect x="92.76" y="260.86" width="33.67" height="4.82"/><rect x="92.76" y="265.68" width="33.67" height="4.82"/><rect x="89.01" y="270.50" width="29.93" height="4.82"/><rect x="89.01" y="275.31" width="26.19" height="4.82"/><rect x="92.76" y="280.13" width="22.45" height="4.82"/><rect x="92.76" y="284.95" width="22.45" height="4.82"/><rect x="96.50" y="289.77" width="14.97" height="4.82"/><rect x="100.24" y="294.58" width="7.48" height="4.82"/></g>
<path d="M156.4 22.5 L168.0 22.8 L171.5 24.8 L186.3 24.8 L186.3 34.5 L197.5 34.5 L198.3 38.0 L199.0 43.0 L203.2 44.2 L201.5 49.0 L198.5 53.5 L194.5 57.5 L191.0 61.5 L188.5 65.5 L186.0 69.5 L183.0 74.0 L180.0 78.0 L177.0 83.0 L173.5 88.0 L170.5 92.0 L168.5 96.0 L165.5 100.5 L162.0 104.0 L159.5 108.5 L157.0 112.5 L154.0 117.0 L151.0 121.5 L148.5 126.0 L145.5 131.0 L142.5 136.0 L141.6 141.0 L141.3 150.0 L142.3 157.0 L144.0 162.0 L146.5 166.0 L148.9 170.0 L149.5 176.0 L150.5 182.0 L152.6 188.0 L155.5 192.5 L159.0 196.5 L163.0 200.0 L167.0 202.5 L175.1 203.1 L179.0 207.9 L181.0 211.0 L183.5 215.0 L181.0 218.5 L178.8 222.3 L171.3 224.0 L167.0 227.0 L163.0 230.0 L159.0 233.0 L154.0 235.5 L148.0 237.5 L143.0 239.0 L140.5 242.0 L138.5 246.0 L136.0 249.5 L133.0 253.0 L130.5 257.0 L128.5 262.0 L127.0 266.0 L124.0 269.5 L120.0 271.5 L117.5 275.0 L116.3 281.0 L116.0 287.0 L113.5 290.0 L111.5 294.0 L109.5 299.4 L100.0 299.4 L100.0 250.0 L110.0 200.0 L120.0 150.0 L125.0 100.0 L140.0 60.0 L150.0 25.0 Z" fill="#444" shape-rendering="geometricPrecision"/>
<rect x="148.88" y="20.00" width="7.78" height="5.12" fill="#0000bf"/>
<rect x="148.88" y="24.82" width="4.04" height="5.12" fill="#0000ff"/>
<rect x="152.62" y="24.82" width="7.78" height="5.12" fill="#0000bf"/>
<rect x="160.10" y="24.82" width="7.78" height="5.12" fill="#000080"/>
<rect x="171.33" y="24.82" width="4.04" height="5.12" fill="#0000bf"/>
<rect x="175.07" y="24.82" width="7.78" height="5.12" fill="#0068ff"/>
<rect x="182.55" y="24.82" width="4.04" height="5.12" fill="#00bcff"/>
<rect x="137.65" y="29.63" width="7.78" height="5.12" fill="#0000ff"/>
<rect x="145.14" y="29.63" width="15.27" height="5.12" fill="#000080"/>
<rect x="160.10" y="29.63" width="4.04" height="5.12" fill="#0000bf"/>
<rect x="163.84" y="29.63" width="7.78" height="5.12" fill="#0000ff"/>
<rect x="171.33" y="29.63" width="11.52" height="5.12" fill="#0068ff"/>
<rect x="182.55" y="29.63" width="4.04" height="5.12" fill="#00bcff"/>
<rect x="145.14" y="34.45" width="11.52" height="5.12" fill="#000080"/>
<rect x="156.36" y="34.45" width="4.04" height="5.12" fill="#0000bf"/>
<rect x="160.10" y="34.45" width="11.52" height="5.12" fill="#0000ff"/>
<rect x="171.33" y="34.45" width="4.04" height="5.12" fill="#0068ff"/>
<rect x="175.07" y="34.45" width="4.04" height="5.12" fill="#0000ff"/>
<rect x="178.81" y="34.45" width="15.27" height="5.12" fill="#0034ff"/>
<rect x="193.78" y="34.45" width="4.04" height="5.12" fill="#0000ff"/>
<rect x="145.14" y="39.27" width="11.52" height="5.12" fill="#000080"/>
<rect x="156.36" y="39.27" width="4.04" height="5.12" fill="#0000bf"/>
<rect x="160.10" y="39.27" width="4.04" height="5.12" fill="#0034ff"/>
<rect x="163.84" y="39.27" width="7.78" height="5.12" fill="#0000ff"/>
<rect x="171.33" y="39.27" width="4.04" height="5.12" fill="#0068ff"/>
<rect x="175.07" y="39.27" width="7.78" height="5.12" fill="#0000ff"/>
<rect x="182.55" y="39.27" width="11.52" height="5.12" fill="#0034ff"/>
<rect x="193.78" y="39.27" width="4.04" height="5.12" fill="#0000ff"/>
<rect x="145.14" y="44.09" width="7.78" height="5.12" fill="#000080"/>
<rect x="152.62" y="44.09" width="4.04" height="5.12" fill="#0000bf"/>
<rect x="156.36" y="44.09" width="4.04" height="5.12" fill="#0000ff"/>
<rect x="160.10" y="44.09" width="7.78" height="5.12" fill="#0034ff"/>
<rect x="167.59" y="44.09" width="11.52" height="5.12" fill="#0000ff"/>
<rect x="178.81" y="44.09" width="4.04" height="5.12" fill="#0034ff"/>
<rect x="182.55" y="44.09" width="11.52" height="5.12" fill="#0000ff"/>
<rect x="193.78" y="44.09" width="4.04" height="5.12" fill="#0000bf"/>
<rect x="197.52" y="44.09" width="4.04" height="5.12" fill="#0068ff"/>
<rect x="141.40" y="48.90" width="4.04" height="5.12" fill="#0000bf"/>
<rect x="145.14" y="48.90" width="4.04" height="5.12" fill="#0000ff"/>
<rect x="148.88" y="48.90" width="4.04" height="5.12" fill="#0034ff"/>
<rect x="152.62" y="48.90" width="4.04" height="5.12" fill="#0000ff"/>
<rect x="156.36" y="48.90" width="4.04" height="5.12" fill="#0068ff"/>
<rect x="160.10" y="48.90" width="4.04" height="5.12" fill="#0000ff"/>
<rect x="163.84" y="48.90" width="4.04" height="5.12" fill="#0000bf"/>
<rect x="167.59" y="48.90" width="4.04" height="5.12" fill="#0034ff"/>
<rect x="171.33" y="48.90" width="7.78" height="5.12" fill="#0000ff"/>
<rect x="178.81" y="48.90" width="4.04" height="5.12" fill="#0068ff"/>
<rect x="182.55" y="48.90" width="11.52" height="5.12" fill="#0000ff"/>
<rect x="193.78" y="48.90" width="4.04" height="5.12" fill="#0034ff"/>
<rect x="197.52" y="48.90" width="4.04" height="5.12" fill="#00bcff"/>
<rect x="141.40" y="53.72" width="4.04" height="5.12" fill="#000080"/>
<rect x="145.14" y="53.72" width="4.04" height="5.12" fill="#0000ff"/>
<rect x="148.88" y="53.72" width="4.04" height="5.12" fill="#0000bf"/>
<rect x="152.62" y="53.72" width="4.04" height="5.12" fill="#0034ff"/>
<rect x="156.36" y="53.72" width="4.04" height="5.12" fill="#0068ff"/>
<rect x="160.10" y="53.72" width="4.04" height="5.12" fill="#0034ff"/>
<rect x="163.84" y="53.72" width="4.04" height="5.12" fill="#000080"/>
<rect x="167.59" y="53.72" width="4.04" height="5.12" fill="#0068ff"/>
<rect x="171.33" y="53.72" width="7.78" height="5.12" fill="#0000ff"/>
<rect x="178.81" y="53.72" width="4.04" height="5.12" fill="#0000bf"/>
<rect x="182.55" y="53.72" width="7.78" height="5.12" fill="#0000ff"/>
<rect x="190.03" y="53.72" width="4.04" height="5.12" fill="#0068ff"/>
<rect x="141.40" y="58.54" width="4.04" height="5.12" fill="#0000ff"/>
<rect x="145.14" y="58.54" width="4.04" height="5.12" fill="#0034ff"/>
<rect x="148.88" y="58.54" width="11.52" height="5.12" fill="#0068ff"/>
<rect x="160.10" y="58.54" width="4.04" height="5.12" fill="#0034ff"/>
<rect x="163.84" y="58.54" width="4.04" height="5.12" fill="#0000ff"/>
<rect x="167.59" y="58.54" width="4.04" height="5.12" fill="#0068ff"/>
<rect x="171.33" y="58.54" width="7.78" height="5.12" fill="#0000bf"/>
<rect x="178.81" y="58.54" width="7.78" height="5.12" fill="#0000ff"/>
<rect x="186.29" y="58.54" width="4.04" height="5.12" fill="#0068ff"/>
<rect x="137.65" y="63.36" width="4.04" height="5.12" fill="#0000bf"/>
<rect x="141.40" y="63.36" width="7.78" height="5.12" fill="#0068ff"/>
<rect x="148.88" y="63.36" width="4.04" height="5.12" fill="#0000ff"/>
<rect x="152.62" y="63.36" width="4.04" height="5.12" fill="#0034ff"/>
<rect x="156.36" y="63.36" width="4.04" height="5.12" fill="#0000ff"/>
<rect x="160.10" y="63.36" width="4.04" height="5.12" fill="#000080"/>
<rect x="163.84" y="63.36" width="4.04" height="5.12" fill="#0034ff"/>
<rect x="167.59" y="63.36" width="4.04" height="5.12" fill="#0000ff"/>
<rect x="171.33" y="63.36" width="4.04" height="5.12" fill="#0000bf"/>
<rect x="175.07" y="63.36" width="7.78" height="5.12" fill="#0000ff"/>
<rect x="182.55" y="63.36" width="7.78" height="5.12" fill="#00bcff"/>
<rect x="133.91" y="68.17" width="4.04" height="5.12" fill="#0000bf"/>
<rect x="137.65" y="68.17" width="4.04" height="5.12" fill="#0000ff"/>
<rect x="141.40" y="68.17" width="7.78" height="5.12" fill="#0068ff"/>
<rect x="148.88" y="68.17" width="7.78" height="5.12" fill="#0000ff"/>
<rect x="156.36" y="68.17" width="4.04" height="5.12" fill="#0000bf"/>
<rect x="160.10" y="68.17" width="4.04" height="5.12" fill="#0034ff"/>
<rect x="163.84" y="68.17" width="4.04" height="5.12" fill="#000080"/>
<rect x="167.59" y="68.17" width="4.04" height="5.12" fill="#0000bf"/>
<rect x="171.33" y="68.17" width="11.52" height="5.12" fill="#0000ff"/>
<rect x="182.55" y="68.17" width="4.04" height="5.12" fill="#00bcff"/>
<rect x="66.57" y="72.99" width="4.04" height="5.12" fill="#0000bf"/>
<rect x="122.69" y="72.99" width="7.78" height="5.12" fill="#0000ff"/>
<rect x="130.17" y="72.99" width="4.04" height="5.12" fill="#0000bf"/>
<rect x="133.91" y="72.99" width="11.52" height="5.12" fill="#0000ff"/>
<rect x="145.14" y="72.99" width="4.04" height="5.12" fill="#0000bf"/>
<rect x="148.88" y="72.99" width="4.04" height="5.12" fill="#0068ff"/>
<rect x="152.62" y="72.99" width="4.04" height="5.12" fill="#0000ff"/>
<rect x="156.36" y="72.99" width="15.27" height="5.12" fill="#0000bf"/>
<rect x="171.33" y="72.99" width="7.78" height="5.12" fill="#0000ff"/>
<rect x="178.81" y="72.99" width="4.04" height="5.12" fill="#00bcff"/>
<rect x="66.57" y="77.81" width="4.04" height="5.12" fill="#0000ff"/>
<rect x="122.69" y="77.81" width="4.04" height="5.12" fill="#0000ff"/>
<rect x="126.43" y="77.81" width="4.04" height="5.12" fill="#0034ff"/>
<rect x="130.17" y="77.81" width="4.04" height="5.12" fill="#0000ff"/>
<rect x="133.91" y="77.81" width="4.04" height="5.12" fill="#0000bf"/>
<rect x="137.65" y="77.81" width="11.52" height="5.12" fill="#0000ff"/>
<rect x="148.88" y="77.81" width="7.78" height="5.12" fill="#0000bf"/>
<rect x="156.36" y="77.81" width="4.04" height="5.12" fill="#000080"/>
<rect x="160.10" y="77.81" width="4.04" height="5.12" fill="#0000bf"/>
<rect x="163.84" y="77.81" width="4.04" height="5.12" fill="#0034ff"/>
<rect x="167.59" y="77.81" width="4.04" height="5.12" fill="#0000ff"/>
<rect x="171.33" y="77.81" width="4.04" height="5.12" fill="#0068ff"/>
<rect x="175.07" y="77.81" width="4.04" height="5.12" fill="#00bcff"/>
<rect x="59.08" y="82.62" width="11.52" height="5.12" fill="#0000ff"/>
<rect x="70.31" y="82.62" width="4.04" height="5.12" fill="#0000bf"/>
<rect x="74.05" y="82.62" width="7.78" height="5.12" fill="#0000ff"/>
<rect x="118.95" y="82.62" width="4.04" height="5.12" fill="#000080"/>
<rect x="122.69" y="82.62" width="4.04" height="5.12" fill="#0000ff"/>
<rect x="126.43" y="82.62" width="4.04" height="5.12" fill="#0034ff"/>
<rect x="130.17" y="82.62" width="7.78" height="5.12" fill="#0000ff"/>
<rect x="137.65" y="82.62" width="4.04" height="5.12" fill="#0000bf"/>
<rect x="141.40" y="82.62" width="7.78" height="5.12" fill="#0000ff"/>
<rect x="148.88" y="82.62" width="7.78" height="5.12" fill="#000080"/>
<rect x="156.36" y="82.62" width="11.52" height="5.12" fill="#0000bf"/>
<rect x="167.59" y="82.62" width="4.04" height="5.12" fill="#0068ff"/>
<rect x="171.33" y="82.62" width="4.04" height="5.12" fill="#7dff7a"/>
<rect x="62.82" y="87.44" width="19.01" height="5.12" fill="#0000ff"/>
<rect x="81.53" y="87.44" width="4.04" height="5.12" fill="#0068ff"/>
<rect x="115.20" y="87.44" width="4.04" height="5.12" fill="#0068ff"/>
<rect x="118.95" y="87.44" width="7.78" height="5.12" fill="#0000ff"/>
<rect x="126.43" y="87.44" width="4.04" height="5.12" fill="#0000bf"/>
<rect x="130.17" y="87.44" width="7.78" height="5.12" fill="#0000ff"/>
<rect x="137.65" y="87.44" width="4.04" height="5.12" fill="#0000bf"/>
<rect x="141.40" y="87.44" width="4.04" height="5.12" fill="#0000ff"/>
<rect x="145.14" y="87.44" width="4.04" height="5.12" fill="#0000bf"/>
<rect x="148.88" y="87.44" width="4.04" height="5.12" fill="#0000ff"/>
<rect x="152.62" y="87.44" width="4.04" height="5.12" fill="#0000bf"/>
<rect x="156.36" y="87.44" width="4.04" height="5.12" fill="#0000ff"/>
<rect x="160.10" y="87.44" width="4.04" height="5.12" fill="#0000bf"/>
<rect x="163.84" y="87.44" width="4.04" height="5.12" fill="#0034ff"/>
<rect x="167.59" y="87.44" width="4.04" height="5.12" fill="#00bcff"/>
<rect x="70.31" y="92.26" width="4.04" height="5.12" fill="#0000ff"/>
<rect x="107.72" y="92.26" width="7.78" height="5.12" fill="#000080"/>
<rect x="115.20" y="92.26" width="4.04" height="5.12" fill="#00bcff"/>
<rect x="118.95" y="92.26" width="4.04" height="5.12" fill="#0000bf"/>
<rect x="122.69" y="92.26" width="7.78" height="5.12" fill="#0000ff"/>
<rect x="130.17" y="92.26" width="4.04" height="5.12" fill="#0000bf"/>
<rect x="133.91" y="92.26" width="4.04" height="5.12" fill="#0000ff"/>
<rect x="137.65" y="92.26" width="4.04" height="5.12" fill="#0000bf"/>
<rect x="141.40" y="92.26" width="4.04" height="5.12" fill="#0000ff"/>
<rect x="145.14" y="92.26" width="7.78" height="5.12" fill="#0000bf"/>
<rect x="152.62" y="92.26" width="4.04" height="5.12" fill="#0000ff"/>
<rect x="156.36" y="92.26" width="4.04" height="5.12" fill="#0000bf"/>
<rect x="160.10" y="92.26" width="4.04" height="5.12" fill="#0000ff"/>
<rect x="163.84" y="92.26" width="4.04" height="5.12" fill="#00bcff"/>
<rect x="74.05" y="97.08" width="4.04" height="5.12" fill="#0000bf"/>
<rect x="77.79" y="97.08" width="4.04" height="5.12" fill="#000080"/>
<rect x="81.53" y="97.08" width="4.04" height="5.12" fill="#0000bf"/>
<rect x="85.27" y="97.08" width="4.04" height="5.12" fill="#0000ff"/>
<rect x="89.01" y="97.08" width="7.78" height="5.12" fill="#0000bf"/>
<rect x="103.98" y="97.08" width="4.04" height="5.12" fill="#0000bf"/>
<rect x="107.72" y="97.08" width="4.04" height="5.12" fill="#0068ff"/>
<rect x="111.46" y="97.08" width="4.04" height="5.12" fill="#00bcff"/>
<rect x="115.20" y="97.08" width="4.04" height="5.12" fill="#0068ff"/>
<rect x="118.95" y="97.08" width="4.04" height="5.12" fill="#0000bf"/>
<rect x="122.69" y="97.08" width="4.04" height="5.12" fill="#0000ff"/>
<rect x="126.43" y="97.08" width="4.04" height="5.12" fill="#0000bf"/>
<rect x="130.17" y="97.08" width="4.04" height="5.12" fill="#0000ff"/>
<rect x="133.91" y="97.08" width="4.04" height="5.12" fill="#0000bf"/>
<rect x="137.65" y="97.08" width="4.04" height="5.12" fill="#0000ff"/>
<rect x="141.40" y="97.08" width="4.04" height="5.12" fill="#0000bf"/>
<rect x="145.14" y="97.08" width="4.04" height="5.12" fill="#000080"/>
<rect x="148.88" y="97.08" width="4.04" height="5.12" fill="#0000bf"/>
<rect x="152.62" y="97.08" width="4.04" height="5.12" fill="#0000ff"/>
<rect x="156.36" y="97.08" width="4.04" height="5.12" fill="#0000bf"/>
<rect x="160.10" y="97.08" width="4.04" height="5.12" fill="#0000ff"/>
<rect x="163.84" y="97.08" width="4.04" height="5.12" fill="#50ffa7"/>
<rect x="74.05" y="101.89" width="7.78" height="5.12" fill="#000080"/>
<rect x="81.53" y="101.89" width="7.78" height="5.12" fill="#0000ff"/>
<rect x="89.01" y="101.89" width="4.04" height="5.12" fill="#000080"/>
<rect x="92.76" y="101.89" width="4.04" height="5.12" fill="#0000bf"/>
<rect x="103.98" y="101.89" width="4.04" height="5.12" fill="#000080"/>
<rect x="107.72" y="101.89" width="4.04" height="5.12" fill="#0000bf"/>
<rect x="111.46" y="101.89" width="4.04" height="5.12" fill="#0000ff"/>
<rect x="115.20" y="101.89" width="4.04" height="5.12" fill="#000080"/>
<rect x="118.95" y="101.89" width="4.04" height="5.12" fill="#0000bf"/>
<rect x="122.69" y="101.89" width="7.78" height="5.12" fill="#0068ff"/>
<rect x="130.17" y="101.89" width="4.04" height="5.12" fill="#0000ff"/>
<rect x="133.91" y="101.89" width="7.78" height="5.12" fill="#000080"/>
<rect x="141.40" y="101.89" width="4.04" height="5.12" fill="#0000bf"/>
<rect x="145.14" y="101.89" width="4.04" height="5.12" fill="#000080"/>
<rect x="148.88" y="101.89" width="4.04" height="5.12" fill="#0000ff"/>
<rect x="152.62" y="101.89" width="4.04" height="5.12" fill="#0000bf"/>
<rect x="156.36" y="101.89" width="4.04" height="5.12" fill="#00bcff"/>
<rect x="74.05" y="106.71" width="7.78" height="5.12" fill="#000080"/>
<rect x="81.53" y="106.71" width="7.78" height="5.12" fill="#0000ff"/>
<rect x="89.01" y="106.71" width="4.04" height="5.12" fill="#000080"/>
<rect x="92.76" y="106.71" width="7.78" height="5.12" fill="#0000ff"/>
<rect x="100.24" y="106.71" width="4.04" height="5.12" fill="#0000bf"/>
<rect x="103.98" y="106.71" width="4.04" height="5.12" fill="#000080"/>
<rect x="107.72" y="106.71" width="4.04" height="5.12" fill="#0000ff"/>
<rect x="111.46" y="106.71" width="4.04" height="5.12" fill="#0000bf"/>
<rect x="115.20" y="106.71" width="7.78" height="5.12" fill="#0000ff"/>
<rect x="122.69" y="106.71" width="4.04" height="5.12" fill="#0068ff"/>
<rect x="126.43" y="106.71" width="7.78" height="5.12" fill="#0000ff"/>
<rect x="133.91" y="106.71" width="4.04" height="5.12" fill="#000080"/>
<rect x="137.65" y="106.71" width="4.04" height="5.12" fill="#0000bf"/>
<rect x="141.40" y="106.71" width="7.78" height="5.12" fill="#000080"/>
<rect x="148.88" y="106.71" width="4.04" height="5.12" fill="#0000bf"/>
<rect x="152.62" y="106.71" width="4.04" height="5.12" fill="#0068ff"/>
<rect x="156.36" y="106.71" width="4.04" height="5.12" fill="#b4ff43"/>
<rect x="74.05" y="111.53" width="11.52" height="5.12" fill="#000080"/>
<rect x="85.27" y="111.53" width="4.04" height="5.12" fill="#0000ff"/>
<rect x="89.01" y="111.53" width="7.78" height="5.12" fill="#0068ff"/>
<rect x="96.50" y="111.53" width="4.04" height="5.12" fill="#0000ff"/>
<rect x="100.24" y="111.53" width="4.04" height="5.12" fill="#0000bf"/>
<rect x="103.98" y="111.53" width="4.04" height="5.12" fill="#0000ff"/>
<rect x="107.72" y="111.53" width="4.04" height="5.12" fill="#000080"/>
<rect x="111.46" y="111.53" width="7.78" height="5.12" fill="#0068ff"/>
<rect x="118.95" y="111.53" width="7.78" height="5.12" fill="#0000ff"/>
<rect x="126.43" y="111.53" width="4.04" height="5.12" fill="#0068ff"/>
<rect x="130.17" y="111.53" width="4.04" height="5.12" fill="#0000ff"/>
<rect x="133.91" y="111.53" width="4.04" height="5.12" fill="#0000bf"/>
<rect x="137.65" y="111.53" width="7.78" height="5.12" fill="#0000ff"/>
<rect x="145.14" y="111.53" width="4.04" height="5.12" fill="#000080"/>
<rect x="148.88" y="111.53" width="4.04" height="5.12" fill="#0000ff"/>
<rect x="152.62" y="111.53" width="4.04" height="5.12" fill="#b4ff43"/>
<rect x="70.31" y="116.34" width="15.27" height="5.12" fill="#000080"/>
<rect x="85.27" y="116.34" width="4.04" height="5.12" fill="#0034ff"/>
<rect x="89.01" y="116.34" width="7.78" height="5.12" fill="#0068ff"/>
<rect x="96.50" y="116.34" width="7.78" height="5.12" fill="#0000ff"/>
<rect x="103.98" y="116.34" width="4.04" height="5.12" fill="#0000bf"/>
<rect x="107.72" y="116.34" width="4.04" height="5.12" fill="#000080"/>
<rect x="111.46" y="116.34" width="7.78" height="5.12" fill="#0000ff"/>
<rect x="118.95" y="116.34" width="4.04" height="5.12" fill="#0034ff"/>
<rect x="122.69" y="116.34" width="4.04" height="5.12" fill="#0000ff"/>
<rect x="126.43" y="116.34" width="7.78" height="5.12" fill="#0034ff"/>
<rect x="133.91" y="116.34" width="7.78" height="5.12" fill="#0000ff"/>
<rect x="141.40" y="116.34" width="4.04" height="5.12" fill="#0034ff"/>
<rect x="145.14" y="116.34" width="4.04" height="5.12" fill="#000080"/>
<rect x="148.88" y="116.34" width="4.04" height="5.12" fill="#7dff7a"/>
<rect x="70.31" y="121.16" width="19.01" height="5.12" fill="#000080"/>
<rect x="89.01" y="121.16" width="7.78" height="5.12" fill="#0034ff"/>
<rect x="96.50" y="121.16" width="7.78" height="5.12" fill="#0000ff"/>
<rect x="103.98" y="121.16" width="4.04" height="5.12" fill="#0068ff"/>
<rect x="107.72" y="121.16" width="4.04" height="5.12" fill="#0034ff"/>
<rect x="111.46" y="121.16" width="4.04" height="5.12" fill="#0000ff"/>
<rect x="115.20" y="121.16" width="4.04" height="5.12" fill="#0000bf"/>
<rect x="118.95" y="121.16" width="4.04" height="5.12" fill="#0000ff"/>
<rect x="122.69" y="121.16" width="4.04" height="5.12" fill="#0000bf"/>
<rect x="126.43" y="121.16" width="4.04" height="5.12" fill="#0000ff"/>
<rect x="130.17" y="121.16" width="15.27" height="5.12" fill="#0000bf"/>
<rect x="145.14" y="121.16" width="4.04" height="5.12" fill="#0068ff"/>
<rect x="59.08" y="125.98" width="4.04" height="5.12" fill="#0000ff"/>
<rect x="62.82" y="125.98" width="4.04" height="5.12" fill="#0034ff"/>
<rect x="66.57" y="125.98" width="4.04" height="5.12" fill="#0000ff"/>
<rect x="70.31" y="125.98" width="15.27" height="5.12" fill="#000080"/>
<rect x="85.27" y="125.98" width="7.78" height="5.12" fill="#0000ff"/>
<rect x="92.76" y="125.98" width="4.04" height="5.12" fill="#0000bf"/>
<rect x="96.50" y="125.98" width="4.04" height="5.12" fill="#0000ff"/>
<rect x="100.24" y="125.98" width="4.04" height="5.12" fill="#0068ff"/>
<rect x="103.98" y="125.98" width="4.04" height="5.12" fill="#0000ff"/>
<rect x="107.72" y="125.98" width="4.04" height="5.12" fill="#0034ff"/>
<rect x="111.46" y="125.98" width="4.04" height="5.12" fill="#0000ff"/>
<rect x="115.20" y="125.98" width="4.04" height="5.12" fill="#0000bf"/>
<rect x="118.95" y="125.98" width="4.04" height="5.12" fill="#0000ff"/>
<rect x="122.69" y="125.98" width="4.04" height="5.12" fill="#0000bf"/>
<rect x="126.43" y="125.98" width="11.52" height="5.12" fill="#000080"/>
<rect x="137.65" y="125.98" width="7.78" height="5.12" fill="#0000bf"/>
<rect x="145.14" y="125.98" width="4.04" height="5.12" fill="#7dff7a"/>
<rect x="59.08" y="130.80" width="4.04" height="5.12" fill="#0034ff"/>
<rect x="62.82" y="130.80" width="7.78" height="5.12" fill="#0000ff"/>
<rect x="70.31" y="130.80" width="15.27" height="5.12" fill="#000080"/>
<rect x="85.27" y="130.80" width="4.04" height="5.12" fill="#0000bf"/>
<rect x="89.01" y="130.80" width="11.52" height="5.12" fill="#0000ff"/>
<rect x="100.24" y="130.80" width="7.78" height="5.12" fill="#0068ff"/>
<rect x="107.72" y="130.80" width="4.04" height="5.12" fill="#0000ff"/>
<rect x="111.46" y="130.80" width="11.52" height="5.12" fill="#0000bf"/>
<rect x="122.69" y="130.80" width="19.01" height="5.12" fill="#000080"/>
<rect x="141.40" y="130.80" width="4.04" height="5.12" fill="#29ffce"/>
<rect x="51.60" y="135.61" width="4.04" height="5.12" fill="#0000ff"/>
<rect x="55.34" y="135.61" width="4.04" height="5.12" fill="#0000bf"/>
<rect x="59.08" y="135.61" width="4.04" height="5.12" fill="#00bcff"/>
<rect x="62.82" y="135.61" width="7.78" height="5.12" fill="#0000ff"/>
<rect x="70.31" y="135.61" width="4.04" height="5.12" fill="#0000bf"/>
<rect x="74.05" y="135.61" width="7.78" height="5.12" fill="#000080"/>
<rect x="81.53" y="135.61" width="4.04" height="5.12" fill="#0000ff"/>
<rect x="85.27" y="135.61" width="4.04" height="5.12" fill="#000080"/>
<rect x="89.01" y="135.61" width="4.04" height="5.12" fill="#0000bf"/>
<rect x="92.76" y="135.61" width="4.04" height="5.12" fill="#000080"/>
<rect x="96.50" y="135.61" width="4.04" height="5.12" fill="#0000ff"/>
<rect x="100.24" y="135.61" width="4.04" height="5.12" fill="#0068ff"/>
<rect x="103.98" y="135.61" width="4.04" height="5.12" fill="#0000bf"/>
<rect x="107.72" y="135.61" width="19.01" height="5.12" fill="#000080"/>
<rect x="126.43" y="135.61" width="4.04" height="5.12" fill="#0000ff"/>
<rect x="130.17" y="135.61" width="11.52" height="5.12" fill="#000080"/>
<rect x="51.60" y="140.43" width="4.04" height="5.12" fill="#0000bf"/>
<rect x="55.34" y="140.43" width="7.78" height="5.12" fill="#000080"/>
<rect x="62.82" y="140.43" width="4.04" height="5.12" fill="#0000ff"/>
<rect x="66.57" y="140.43" width="4.04" height="5.12" fill="#0034ff"/>
<rect x="70.31" y="140.43" width="7.78" height="5.12" fill="#000080"/>
<rect x="77.79" y="140.43" width="4.04" height="5.12" fill="#0000ff"/>
<rect x="81.53" y="140.43" width="11.52" height="5.12" fill="#000080"/>
<rect x="92.76" y="140.43" width="4.04" height="5.12" fill="#0000ff"/>
<rect x="96.50" y="140.43" width="7.78" height="5.12" fill="#0068ff"/>
<rect x="103.98" y="140.43" width="26.49" height="5.12" fill="#000080"/>
<rect x="130.17" y="140.43" width="4.04" height="5.12" fill="#0000ff"/>
<rect x="133.91" y="140.43" width="7.78" height="5.12" fill="#000080"/>
<rect x="51.60" y="145.25" width="26.49" height="5.12" fill="#000080"/>
<rect x="77.79" y="145.25" width="4.04" height="5.12" fill="#0034ff"/>
<rect x="81.53" y="145.25" width="11.52" height="5.12" fill="#000080"/>
<rect x="92.76" y="145.25" width="4.04" height="5.12" fill="#0000ff"/>
<rect x="96.50" y="145.25" width="4.04" height="5.12" fill="#0068ff"/>
<rect x="100.24" y="145.25" width="4.04" height="5.12" fill="#0000ff"/>
<rect x="103.98" y="145.25" width="37.71" height="5.12" fill="#000080"/>
<rect x="55.34" y="150.07" width="37.71" height="5.12" fill="#000080"/>
<rect x="92.76" y="150.07" width="7.78" height="5.12" fill="#0000ff"/>
<rect x="100.24" y="150.07" width="41.46" height="5.12" fill="#000080"/>
<rect x="62.82" y="154.88" width="30.23" height="5.12" fill="#000080"/>
<rect x="92.76" y="154.88" width="4.04" height="5.12" fill="#0000bf"/>
<rect x="96.50" y="154.88" width="45.20" height="5.12" fill="#000080"/>
<rect x="77.79" y="159.70" width="67.65" height="5.12" fill="#000080"/>
<rect x="77.79" y="164.52" width="30.23" height="5.12" fill="#000080"/>
<rect x="107.72" y="164.52" width="4.04" height="5.12" fill="#0034ff"/>
<rect x="111.46" y="164.52" width="33.97" height="5.12" fill="#000080"/>
<rect x="77.79" y="169.33" width="19.01" height="5.12" fill="#000080"/>
<rect x="96.50" y="169.33" width="7.78" height="5.12" fill="#0034ff"/>
<rect x="103.98" y="169.33" width="7.78" height="5.12" fill="#000080"/>
<rect x="111.46" y="169.33" width="4.04" height="5.12" fill="#0000ff"/>
<rect x="115.20" y="169.33" width="30.23" height="5.12" fill="#000080"/>
<rect x="145.14" y="169.33" width="4.04" height="5.12" fill="#0000ff"/>
<rect x="74.05" y="174.15" width="22.75" height="5.12" fill="#000080"/>
<rect x="96.50" y="174.15" width="4.04" height="5.12" fill="#0034ff"/>
<rect x="100.24" y="174.15" width="4.04" height="5.12" fill="#0000ff"/>
<rect x="103.98" y="174.15" width="7.78" height="5.12" fill="#000080"/>
<rect x="111.46" y="174.15" width="4.04" height="5.12" fill="#0000ff"/>
<rect x="115.20" y="174.15" width="33.97" height="5.12" fill="#000080"/>
<rect x="70.31" y="178.97" width="78.87" height="5.12" fill="#000080"/>
<rect x="70.31" y="183.79" width="82.61" height="5.12" fill="#000080"/>
<rect x="74.05" y="188.60" width="82.61" height="5.12" fill="#000080"/>
<rect x="77.79" y="193.42" width="82.61" height="5.12" fill="#000080"/>
<rect x="96.50" y="198.24" width="67.65" height="5.12" fill="#000080"/>
<rect x="96.50" y="203.06" width="78.87" height="5.12" fill="#000080"/>
<rect x="96.50" y="207.87" width="82.61" height="5.12" fill="#000080"/>
<rect x="92.76" y="212.69" width="82.61" height="5.12" fill="#000080"/>
<rect x="175.07" y="212.69" width="4.04" height="5.12" fill="#0000ff"/>
<rect x="96.50" y="217.51" width="56.42" height="5.12" fill="#000080"/>
<rect x="152.62" y="217.51" width="4.04" height="5.12" fill="#0000ff"/>
<rect x="156.36" y="217.51" width="15.27" height="5.12" fill="#000080"/>
<rect x="171.33" y="217.51" width="4.04" height="5.12" fill="#29ffce"/>
<rect x="175.07" y="217.51" width="4.04" height="5.12" fill="#7dff7a"/>
<rect x="89.01" y="222.32" width="71.39" height="5.12" fill="#000080"/>
<rect x="160.10" y="222.32" width="7.78" height="5.12" fill="#29ffce"/>
<rect x="167.59" y="222.32" width="4.04" height="5.12" fill="#50ffa7"/>
<rect x="89.01" y="227.14" width="71.39" height="5.12" fill="#000080"/>
<rect x="89.01" y="231.96" width="60.16" height="5.12" fill="#000080"/>
<rect x="148.88" y="231.96" width="4.04" height="5.12" fill="#0000ff"/>
<rect x="152.62" y="231.96" width="4.04" height="5.12" fill="#00bcff"/>
<rect x="156.36" y="231.96" width="4.04" height="5.12" fill="#29ffce"/>
<rect x="89.01" y="236.78" width="45.20" height="5.12" fill="#000080"/>
<rect x="133.91" y="236.78" width="4.04" height="5.12" fill="#0000ff"/>
<rect x="137.65" y="236.78" width="4.04" height="5.12" fill="#00bcff"/>
<rect x="85.27" y="241.59" width="48.94" height="5.12" fill="#000080"/>
<rect x="133.91" y="241.59" width="4.04" height="5.12" fill="#00bcff"/>
<rect x="85.27" y="246.41" width="48.94" height="5.12" fill="#000080"/>
<rect x="85.27" y="251.23" width="41.46" height="5.12" fill="#000080"/>
<rect x="126.43" y="251.23" width="4.04" height="5.12" fill="#00bcff"/>
<rect x="92.76" y="256.04" width="30.23" height="5.12" fill="#000080"/>
<rect x="92.76" y="260.86" width="30.23" height="5.12" fill="#000080"/>
<rect x="122.69" y="260.86" width="4.04" height="5.12" fill="#0000ff"/>
<rect x="92.76" y="265.68" width="22.75" height="5.12" fill="#000080"/>
<rect x="115.20" y="265.68" width="4.04" height="5.12" fill="#0000ff"/>
<rect x="118.95" y="265.68" width="7.78" height="5.12" fill="#29ffce"/>
<rect x="89.01" y="270.50" width="26.49" height="5.12" fill="#000080"/>
<rect x="115.20" y="270.50" width="4.04" height="5.12" fill="#00bcff"/>
<rect x="89.01" y="275.31" width="26.49" height="5.12" fill="#000080"/>
<rect x="92.76" y="280.13" width="22.75" height="5.12" fill="#000080"/>
<rect x="92.76" y="284.95" width="22.75" height="5.12" fill="#000080"/>
<rect x="96.50" y="289.77" width="15.27" height="5.12" fill="#000080"/>
<rect x="100.24" y="294.58" width="7.78" height="5.12" fill="#000080"/>
</g>
<circle cx="130.4" cy="270.6" r="0.75" fill="#666" shape-rendering="geometricPrecision"/>
<rect x="51.60" y="20.00" width="153.40" height="279.40" fill="none" stroke="#262626" stroke-width="0.9"/>
<line x1="48.1" y1="46.40" x2="51.60" y2="46.40" stroke="#262626" stroke-width="0.9"/>
<text x="43.6" y="51.20" font-size="10.5" text-anchor="end" textLength="21" lengthAdjust="spacingAndGlyphs" fill="#1a1a1a">40.5</text>
<line x1="48.1" y1="94.56" x2="51.60" y2="94.56" stroke="#262626" stroke-width="0.9"/>
<text x="43.6" y="99.36" font-size="10.5" text-anchor="end" textLength="21" lengthAdjust="spacingAndGlyphs" fill="#1a1a1a">40.0</text>
<line x1="48.1" y1="142.72" x2="51.60" y2="142.72" stroke="#262626" stroke-width="0.9"/>
<text x="43.6" y="147.52" font-size="10.5" text-anchor="end" textLength="21" lengthAdjust="spacingAndGlyphs" fill="#1a1a1a">39.5</text>
<line x1="48.1" y1="190.88" x2="51.60" y2="190.88" stroke="#262626" stroke-width="0.9"/>
<text x="43.6" y="195.68" font-size="10.5" text-anchor="end" textLength="21" lengthAdjust="spacingAndGlyphs" fill="#1a1a1a">39.0</text>
<line x1="48.1" y1="239.04" x2="51.60" y2="239.04" stroke="#262626" stroke-width="0.9"/>
<text x="43.6" y="243.84" font-size="10.5" text-anchor="end" textLength="21" lengthAdjust="spacingAndGlyphs" fill="#1a1a1a">38.5</text>
<line x1="48.1" y1="287.20" x2="51.60" y2="287.20" stroke="#262626" stroke-width="0.9"/>
<text x="43.6" y="292.00" font-size="10.5" text-anchor="end" textLength="21" lengthAdjust="spacingAndGlyphs" fill="#1a1a1a">38.0</text>
<line x1="53.50" y1="299.40" x2="53.50" y2="302.9" stroke="#262626" stroke-width="0.9"/>
<text x="52.70" y="315.0" font-size="10.5" text-anchor="middle" textLength="22.6" lengthAdjust="spacingAndGlyphs" fill="#1a1a1a">−1.5</text>
<line x1="90.85" y1="299.40" x2="90.85" y2="302.9" stroke="#262626" stroke-width="0.9"/>
<text x="90.05" y="315.0" font-size="10.5" text-anchor="middle" textLength="22.6" lengthAdjust="spacingAndGlyphs" fill="#1a1a1a">−1.0</text>
<line x1="128.20" y1="299.40" x2="128.20" y2="302.9" stroke="#262626" stroke-width="0.9"/>
<text x="127.40" y="315.0" font-size="10.5" text-anchor="middle" textLength="22.6" lengthAdjust="spacingAndGlyphs" fill="#1a1a1a">−0.5</text>
<line x1="165.55" y1="299.40" x2="165.55" y2="302.9" stroke="#262626" stroke-width="0.9"/>
<text x="165.55" y="315.0" font-size="10.5" text-anchor="middle" fill="#1a1a1a">0.0</text>
<line x1="202.90" y1="299.40" x2="202.90" y2="302.9" stroke="#262626" stroke-width="0.9"/>
<text x="202.90" y="315.0" font-size="10.5" text-anchor="middle" fill="#1a1a1a">0.5</text>
<text x="128.4" y="328.6" font-size="10.5" text-anchor="middle" textLength="127" lengthAdjust="spacingAndGlyphs" fill="#1a1a1a">longitude [degrees_east]</text>
<text transform="translate(15,159.75) rotate(-90)" x="0" y="0" font-size="10.5" text-anchor="middle" textLength="124" lengthAdjust="spacingAndGlyphs" fill="#1a1a1a">latitude [degrees_north]</text>
<rect x="215.60" y="20.00" width="14.20" height="266.10" fill="url(#jetg)"/>
<path d="M215.60 285.90 L229.80 285.90 L222.70 299.30 Z" fill="#000090"/>
<path d="M215.60 286.10 L215.60 20.00 L229.80 20.00 L229.80 286.10 L222.70 299.30 Z" fill="none" stroke="#111" stroke-width="0.8"/>
<line x1="229.80" y1="45.53" x2="233.4" y2="45.53" stroke="#262626" stroke-width="0.9"/>
<text x="237.8" y="50.43" font-size="10.5" fill="#1a1a1a">0.6</text>
<line x1="229.80" y1="81.37" x2="233.4" y2="81.37" stroke="#262626" stroke-width="0.9"/>
<text x="237.8" y="86.27" font-size="10.5" fill="#1a1a1a">0.4</text>
<line x1="229.80" y1="117.21" x2="233.4" y2="117.21" stroke="#262626" stroke-width="0.9"/>
<text x="237.8" y="122.11" font-size="10.5" fill="#1a1a1a">0.2</text>
<line x1="229.80" y1="153.05" x2="233.4" y2="153.05" stroke="#262626" stroke-width="0.9"/>
<text x="237.8" y="157.95" font-size="10.5" fill="#1a1a1a">0.0</text>
<line x1="229.80" y1="188.89" x2="233.4" y2="188.89" stroke="#262626" stroke-width="0.9"/>
<text x="238.1" y="193.79" font-size="10.5" textLength="22.8" lengthAdjust="spacingAndGlyphs" fill="#1a1a1a">−0.2</text>
<line x1="229.80" y1="224.73" x2="233.4" y2="224.73" stroke="#262626" stroke-width="0.9"/>
<text x="238.1" y="229.63" font-size="10.5" textLength="22.8" lengthAdjust="spacingAndGlyphs" fill="#1a1a1a">−0.4</text>
<line x1="229.80" y1="260.57" x2="233.4" y2="260.57" stroke="#262626" stroke-width="0.9"/>
<text x="238.1" y="265.47" font-size="10.5" textLength="22.8" lengthAdjust="spacingAndGlyphs" fill="#1a1a1a">−0.6</text></g>
<g transform="translate(283.70,361.40)"><text x="128.35" y="13.6" font-size="12" text-anchor="middle" textLength="95.4" lengthAdjust="spacingAndGlyphs" fill="#1a1a1a">2013 anomalies</text>
<g clip-path="url(#axclip)">
<g fill="#505050" stroke="#505050" stroke-width="1.50" stroke-linejoin="round" shape-rendering="geometricPrecision"><rect x="148.88" y="20.00" width="7.48" height="4.82"/><rect x="148.88" y="24.82" width="18.71" height="4.82"/><rect x="171.33" y="24.82" width="14.97" height="4.82"/><rect x="137.65" y="29.63" width="48.64" height="4.82"/><rect x="145.14" y="34.45" width="52.38" height="4.82"/><rect x="145.14" y="39.27" width="52.38" height="4.82"/><rect x="145.14" y="44.09" width="56.12" height="4.82"/><rect x="141.40" y="48.90" width="59.86" height="4.82"/><rect x="141.40" y="53.72" width="52.38" height="4.82"/><rect x="141.40" y="58.54" width="48.64" height="4.82"/><rect x="137.65" y="63.36" width="52.38" height="4.82"/><rect x="133.91" y="68.17" width="52.38" height="4.82"/><rect x="66.57" y="72.99" width="3.74" height="4.82"/><rect x="122.69" y="72.99" width="59.86" height="4.82"/><rect x="66.57" y="77.81" width="3.74" height="4.82"/><rect x="122.69" y="77.81" width="56.12" height="4.82"/><rect x="59.08" y="82.62" width="22.45" height="4.82"/><rect x="118.95" y="82.62" width="56.12" height="4.82"/><rect x="62.82" y="87.44" width="22.45" height="4.82"/><rect x="115.20" y="87.44" width="56.12" height="4.82"/><rect x="70.31" y="92.26" width="3.74" height="4.82"/><rect x="107.72" y="92.26" width="59.86" height="4.82"/><rect x="74.05" y="97.08" width="22.45" height="4.82"/><rect x="103.98" y="97.08" width="63.60" height="4.82"/><rect x="74.05" y="101.89" width="22.45" height="4.82"/><rect x="103.98" y="101.89" width="56.12" height="4.82"/><rect x="74.05" y="106.71" width="86.05" height="4.82"/><rect x="74.05" y="111.53" width="82.31" height="4.82"/><rect x="70.31" y="116.34" width="82.31" height="4.82"/><rect x="70.31" y="121.16" width="78.57" height="4.82"/><rect x="59.08" y="125.98" width="89.80" height="4.82"/><rect x="59.08" y="130.80" width="86.05" height="4.82"/><rect x="51.60" y="135.61" width="89.80" height="4.82"/><rect x="51.60" y="140.43" width="89.80" height="4.82"/><rect x="51.60" y="145.25" width="89.80" height="4.82"/><rect x="55.34" y="150.07" width="86.05" height="4.82"/><rect x="62.82" y="154.88" width="78.57" height="4.82"/><rect x="77.79" y="159.70" width="67.35" height="4.82"/><rect x="77.79" y="164.52" width="67.35" height="4.82"/><rect x="77.79" y="169.33" width="71.09" height="4.82"/><rect x="74.05" y="174.15" width="74.83" height="4.82"/><rect x="70.31" y="178.97" width="78.57" height="4.82"/><rect x="70.31" y="183.79" width="82.31" height="4.82"/><rect x="74.05" y="188.60" width="82.31" height="4.82"/><rect x="77.79" y="193.42" width="82.31" height="4.82"/><rect x="96.50" y="198.24" width="67.35" height="4.82"/><rect x="96.50" y="203.06" width="78.57" height="4.82"/><rect x="96.50" y="207.87" width="82.31" height="4.82"/><rect x="92.76" y="212.69" width="86.05" height="4.82"/><rect x="96.50" y="217.51" width="82.31" height="4.82"/><rect x="89.01" y="222.32" width="82.31" height="4.82"/><rect x="89.01" y="227.14" width="71.09" height="4.82"/><rect x="89.01" y="231.96" width="71.09" height="4.82"/><rect x="89.01" y="236.78" width="52.38" height="4.82"/><rect x="85.27" y="241.59" width="52.38" height="4.82"/><rect x="85.27" y="246.41" width="48.64" height="4.82"/><rect x="85.27" y="251.23" width="44.90" height="4.82"/><rect x="92.76" y="256.04" width="29.93" height="4.82"/><rect x="92.76" y="260.86" width="33.67" height="4.82"/><rect x="92.76" y="265.68" width="33.67" height="4.82"/><rect x="89.01" y="270.50" width="29.93" height="4.82"/><rect x="89.01" y="275.31" width="26.19" height="4.82"/><rect x="92.76" y="280.13" width="22.45" height="4.82"/><rect x="92.76" y="284.95" width="22.45" height="4.82"/><rect x="96.50" y="289.77" width="14.97" height="4.82"/><rect x="100.24" y="294.58" width="7.48" height="4.82"/></g>
<path d="M156.4 22.5 L168.0 22.8 L171.5 24.8 L186.3 24.8 L186.3 34.5 L197.5 34.5 L198.3 38.0 L199.0 43.0 L203.2 44.2 L201.5 49.0 L198.5 53.5 L194.5 57.5 L191.0 61.5 L188.5 65.5 L186.0 69.5 L183.0 74.0 L180.0 78.0 L177.0 83.0 L173.5 88.0 L170.5 92.0 L168.5 96.0 L165.5 100.5 L162.0 104.0 L159.5 108.5 L157.0 112.5 L154.0 117.0 L151.0 121.5 L148.5 126.0 L145.5 131.0 L142.5 136.0 L141.6 141.0 L141.3 150.0 L142.3 157.0 L144.0 162.0 L146.5 166.0 L148.9 170.0 L149.5 176.0 L150.5 182.0 L152.6 188.0 L155.5 192.5 L159.0 196.5 L163.0 200.0 L167.0 202.5 L175.1 203.1 L179.0 207.9 L181.0 211.0 L183.5 215.0 L181.0 218.5 L178.8 222.3 L171.3 224.0 L167.0 227.0 L163.0 230.0 L159.0 233.0 L154.0 235.5 L148.0 237.5 L143.0 239.0 L140.5 242.0 L138.5 246.0 L136.0 249.5 L133.0 253.0 L130.5 257.0 L128.5 262.0 L127.0 266.0 L124.0 269.5 L120.0 271.5 L117.5 275.0 L116.3 281.0 L116.0 287.0 L113.5 290.0 L111.5 294.0 L109.5 299.4 L100.0 299.4 L100.0 250.0 L110.0 200.0 L120.0 150.0 L125.0 100.0 L140.0 60.0 L150.0 25.0 Z" fill="#444" shape-rendering="geometricPrecision"/>
<rect x="148.88" y="20.00" width="7.78" height="5.12" fill="#000080"/>
<rect x="148.88" y="24.82" width="19.01" height="5.12" fill="#000080"/>
<rect x="171.33" y="24.82" width="4.04" height="5.12" fill="#00bcff"/>
<rect x="175.07" y="24.82" width="11.52" height="5.12" fill="#29ffce"/>
<rect x="137.65" y="29.63" width="33.97" height="5.12" fill="#000080"/>
<rect x="171.33" y="29.63" width="11.52" height="5.12" fill="#00bcff"/>
<rect x="182.55" y="29.63" width="4.04" height="5.12" fill="#0068ff"/>
<rect x="145.14" y="34.45" width="15.27" height="5.12" fill="#000080"/>
<rect x="160.10" y="34.45" width="4.04" height="5.12" fill="#0068ff"/>
<rect x="163.84" y="34.45" width="7.78" height="5.12" fill="#0000ff"/>
<rect x="171.33" y="34.45" width="4.04" height="5.12" fill="#00bcff"/>
<rect x="175.07" y="34.45" width="4.04" height="5.12" fill="#0068ff"/>
<rect x="178.81" y="34.45" width="4.04" height="5.12" fill="#0000ff"/>
<rect x="182.55" y="34.45" width="4.04" height="5.12" fill="#0068ff"/>
<rect x="186.29" y="34.45" width="11.52" height="5.12" fill="#00bcff"/>
<rect x="145.14" y="39.27" width="15.27" height="5.12" fill="#000080"/>
<rect x="160.10" y="39.27" width="4.04" height="5.12" fill="#00bcff"/>
<rect x="163.84" y="39.27" width="4.04" height="5.12" fill="#0000ff"/>
<rect x="167.59" y="39.27" width="7.78" height="5.12" fill="#0068ff"/>
<rect x="175.07" y="39.27" width="7.78" height="5.12" fill="#0000ff"/>
<rect x="182.55" y="39.27" width="4.04" height="5.12" fill="#00bcff"/>
<rect x="186.29" y="39.27" width="7.78" height="5.12" fill="#0068ff"/>
<rect x="193.78" y="39.27" width="4.04" height="5.12" fill="#00bcff"/>
<rect x="145.14" y="44.09" width="15.27" height="5.12" fill="#000080"/>
<rect x="160.10" y="44.09" width="4.04" height="5.12" fill="#00bcff"/>
<rect x="163.84" y="44.09" width="7.78" height="5.12" fill="#0068ff"/>
<rect x="171.33" y="44.09" width="4.04" height="5.12" fill="#0000ff"/>
<rect x="175.07" y="44.09" width="4.04" height="5.12" fill="#0068ff"/>
<rect x="178.81" y="44.09" width="4.04" height="5.12" fill="#0000ff"/>
<rect x="182.55" y="44.09" width="4.04" height="5.12" fill="#00bcff"/>
<rect x="186.29" y="44.09" width="7.78" height="5.12" fill="#0068ff"/>
<rect x="193.78" y="44.09" width="4.04" height="5.12" fill="#00bcff"/>
<rect x="197.52" y="44.09" width="4.04" height="5.12" fill="#29ffce"/>
<rect x="141.40" y="48.90" width="4.04" height="5.12" fill="#0000ff"/>
<rect x="145.14" y="48.90" width="4.04" height="5.12" fill="#0068ff"/>
<rect x="148.88" y="48.90" width="11.52" height="5.12" fill="#0000ff"/>
<rect x="160.10" y="48.90" width="11.52" height="5.12" fill="#00bcff"/>
<rect x="171.33" y="48.90" width="7.78" height="5.12" fill="#0000ff"/>
<rect x="178.81" y="48.90" width="4.04" height="5.12" fill="#0068ff"/>
<rect x="182.55" y="48.90" width="4.04" height="5.12" fill="#00bcff"/>
<rect x="186.29" y="48.90" width="7.78" height="5.12" fill="#0068ff"/>
<rect x="193.78" y="48.90" width="4.04" height="5.12" fill="#29ffce"/>
<rect x="197.52" y="48.90" width="4.04" height="5.12" fill="#ebff0c"/>
<rect x="141.40" y="53.72" width="4.04" height="5.12" fill="#0000ff"/>
<rect x="145.14" y="53.72" width="4.04" height="5.12" fill="#00bcff"/>
<rect x="148.88" y="53.72" width="4.04" height="5.12" fill="#000080"/>
<rect x="152.62" y="53.72" width="4.04" height="5.12" fill="#00bcff"/>
<rect x="156.36" y="53.72" width="4.04" height="5.12" fill="#0000ff"/>
<rect x="160.10" y="53.72" width="4.04" height="5.12" fill="#0068ff"/>
<rect x="163.84" y="53.72" width="4.04" height="5.12" fill="#0000ff"/>
<rect x="167.59" y="53.72" width="4.04" height="5.12" fill="#00bcff"/>
<rect x="171.33" y="53.72" width="4.04" height="5.12" fill="#0068ff"/>
<rect x="175.07" y="53.72" width="7.78" height="5.12" fill="#29ffce"/>
<rect x="182.55" y="53.72" width="7.78" height="5.12" fill="#00bcff"/>
<rect x="190.03" y="53.72" width="4.04" height="5.12" fill="#29ffce"/>
<rect x="141.40" y="58.54" width="7.78" height="5.12" fill="#29ffce"/>
<rect x="148.88" y="58.54" width="4.04" height="5.12" fill="#00bcff"/>
<rect x="152.62" y="58.54" width="7.78" height="5.12" fill="#29ffce"/>
<rect x="160.10" y="58.54" width="4.04" height="5.12" fill="#0000ff"/>
<rect x="163.84" y="58.54" width="4.04" height="5.12" fill="#29ffce"/>
<rect x="167.59" y="58.54" width="4.04" height="5.12" fill="#7dff7a"/>
<rect x="171.33" y="58.54" width="4.04" height="5.12" fill="#0068ff"/>
<rect x="175.07" y="58.54" width="15.27" height="5.12" fill="#29ffce"/>
<rect x="137.65" y="63.36" width="4.04" height="5.12" fill="#0000ff"/>
<rect x="141.40" y="63.36" width="7.78" height="5.12" fill="#29ffce"/>
<rect x="148.88" y="63.36" width="4.04" height="5.12" fill="#00bcff"/>
<rect x="152.62" y="63.36" width="7.78" height="5.12" fill="#29ffce"/>
<rect x="160.10" y="63.36" width="4.04" height="5.12" fill="#00bcff"/>
<rect x="163.84" y="63.36" width="4.04" height="5.12" fill="#7dff7a"/>
<rect x="167.59" y="63.36" width="4.04" height="5.12" fill="#0000ff"/>
<rect x="171.33" y="63.36" width="11.52" height="5.12" fill="#29ffce"/>
<rect x="182.55" y="63.36" width="4.04" height="5.12" fill="#b4ff43"/>
<rect x="186.29" y="63.36" width="4.04" height="5.12" fill="#29ffce"/>
<rect x="133.91" y="68.17" width="4.04" height="5.12" fill="#0000ff"/>
<rect x="137.65" y="68.17" width="4.04" height="5.12" fill="#0068ff"/>
<rect x="141.40" y="68.17" width="7.78" height="5.12" fill="#29ffce"/>
<rect x="148.88" y="68.17" width="4.04" height="5.12" fill="#0000ff"/>
<rect x="152.62" y="68.17" width="4.04" height="5.12" fill="#29ffce"/>
<rect x="156.36" y="68.17" width="4.04" height="5.12" fill="#00bcff"/>
<rect x="160.10" y="68.17" width="4.04" height="5.12" fill="#0068ff"/>
<rect x="163.84" y="68.17" width="7.78" height="5.12" fill="#0000ff"/>
<rect x="171.33" y="68.17" width="15.27" height="5.12" fill="#29ffce"/>
<rect x="66.57" y="72.99" width="4.04" height="5.12" fill="#000080"/>
<rect x="122.69" y="72.99" width="7.78" height="5.12" fill="#000080"/>
<rect x="130.17" y="72.99" width="4.04" height="5.12" fill="#0068ff"/>
<rect x="133.91" y="72.99" width="4.04" height="5.12" fill="#0000ff"/>
<rect x="137.65" y="72.99" width="4.04" height="5.12" fill="#00bcff"/>
<rect x="141.40" y="72.99" width="4.04" height="5.12" fill="#29ffce"/>
<rect x="145.14" y="72.99" width="4.04" height="5.12" fill="#00bcff"/>
<rect x="148.88" y="72.99" width="4.04" height="5.12" fill="#29ffce"/>
<rect x="152.62" y="72.99" width="4.04" height="5.12" fill="#00bcff"/>
<rect x="156.36" y="72.99" width="4.04" height="5.12" fill="#0068ff"/>
<rect x="160.10" y="72.99" width="4.04" height="5.12" fill="#0000ff"/>
<rect x="163.84" y="72.99" width="4.04" height="5.12" fill="#0068ff"/>
<rect x="167.59" y="72.99" width="4.04" height="5.12" fill="#0000ff"/>
<rect x="171.33" y="72.99" width="4.04" height="5.12" fill="#7dff7a"/>
<rect x="175.07" y="72.99" width="7.78" height="5.12" fill="#29ffce"/>
<rect x="66.57" y="77.81" width="4.04" height="5.12" fill="#000080"/>
<rect x="122.69" y="77.81" width="7.78" height="5.12" fill="#0068ff"/>
<rect x="130.17" y="77.81" width="4.04" height="5.12" fill="#7dff7a"/>
<rect x="133.91" y="77.81" width="4.04" height="5.12" fill="#29ffce"/>
<rect x="137.65" y="77.81" width="7.78" height="5.12" fill="#00bcff"/>
<rect x="145.14" y="77.81" width="4.04" height="5.12" fill="#29ffce"/>
<rect x="148.88" y="77.81" width="4.04" height="5.12" fill="#7dff7a"/>
<rect x="152.62" y="77.81" width="15.27" height="5.12" fill="#29ffce"/>
<rect x="167.59" y="77.81" width="4.04" height="5.12" fill="#ebff0c"/>
<rect x="171.33" y="77.81" width="4.04" height="5.12" fill="#7dff7a"/>
<rect x="175.07" y="77.81" width="4.04" height="5.12" fill="#29ffce"/>
<rect x="59.08" y="82.62" width="22.75" height="5.12" fill="#000080"/>
<rect x="118.95" y="82.62" width="7.78" height="5.12" fill="#0000ff"/>
<rect x="126.43" y="82.62" width="4.04" height="5.12" fill="#7dff7a"/>
<rect x="130.17" y="82.62" width="4.04" height="5.12" fill="#b4ff43"/>
<rect x="133.91" y="82.62" width="7.78" height="5.12" fill="#29ffce"/>
<rect x="141.40" y="82.62" width="4.04" height="5.12" fill="#7dff7a"/>
<rect x="145.14" y="82.62" width="4.04" height="5.12" fill="#29ffce"/>
<rect x="148.88" y="82.62" width="7.78" height="5.12" fill="#7dff7a"/>
<rect x="156.36" y="82.62" width="4.04" height="5.12" fill="#29ffce"/>
<rect x="160.10" y="82.62" width="4.04" height="5.12" fill="#b4ff43"/>
<rect x="163.84" y="82.62" width="7.78" height="5.12" fill="#ebff0c"/>
<rect x="171.33" y="82.62" width="4.04" height="5.12" fill="#7dff7a"/>
<rect x="62.82" y="87.44" width="22.75" height="5.12" fill="#000080"/>
<rect x="115.20" y="87.44" width="7.78" height="5.12" fill="#0000ff"/>
<rect x="122.69" y="87.44" width="4.04" height="5.12" fill="#000080"/>
<rect x="126.43" y="87.44" width="4.04" height="5.12" fill="#0000ff"/>
<rect x="130.17" y="87.44" width="4.04" height="5.12" fill="#29ffce"/>
<rect x="133.91" y="87.44" width="7.78" height="5.12" fill="#7dff7a"/>
<rect x="141.40" y="87.44" width="22.75" height="5.12" fill="#29ffce"/>
<rect x="163.84" y="87.44" width="7.78" height="5.12" fill="#00bcff"/>
<rect x="70.31" y="92.26" width="4.04" height="5.12" fill="#000080"/>
<rect x="107.72" y="92.26" width="4.04" height="5.12" fill="#0068ff"/>
<rect x="111.46" y="92.26" width="4.04" height="5.12" fill="#0000ff"/>
<rect x="115.20" y="92.26" width="4.04" height="5.12" fill="#0068ff"/>
<rect x="118.95" y="92.26" width="7.78" height="5.12" fill="#0000ff"/>
<rect x="126.43" y="92.26" width="4.04" height="5.12" fill="#0068ff"/>
<rect x="130.17" y="92.26" width="4.04" height="5.12" fill="#29ffce"/>
<rect x="133.91" y="92.26" width="7.78" height="5.12" fill="#7dff7a"/>
<rect x="141.40" y="92.26" width="7.78" height="5.12" fill="#29ffce"/>
<rect x="148.88" y="92.26" width="4.04" height="5.12" fill="#00bcff"/>
<rect x="152.62" y="92.26" width="7.78" height="5.12" fill="#29ffce"/>
<rect x="160.10" y="92.26" width="4.04" height="5.12" fill="#0000ff"/>
<rect x="163.84" y="92.26" width="4.04" height="5.12" fill="#b4ff43"/>
<rect x="74.05" y="97.08" width="22.75" height="5.12" fill="#000080"/>
<rect x="103.98" y="97.08" width="7.78" height="5.12" fill="#0068ff"/>
<rect x="111.46" y="97.08" width="15.27" height="5.12" fill="#0000ff"/>
<rect x="126.43" y="97.08" width="4.04" height="5.12" fill="#0068ff"/>
<rect x="130.17" y="97.08" width="4.04" height="5.12" fill="#29ffce"/>
<rect x="133.91" y="97.08" width="7.78" height="5.12" fill="#7dff7a"/>
<rect x="141.40" y="97.08" width="7.78" height="5.12" fill="#29ffce"/>
<rect x="148.88" y="97.08" width="4.04" height="5.12" fill="#00bcff"/>
<rect x="152.62" y="97.08" width="4.04" height="5.12" fill="#29ffce"/>
<rect x="156.36" y="97.08" width="7.78" height="5.12" fill="#00bcff"/>
<rect x="163.84" y="97.08" width="4.04" height="5.12" fill="#29ffce"/>
<rect x="74.05" y="101.89" width="22.75" height="5.12" fill="#000080"/>
<rect x="103.98" y="101.89" width="7.78" height="5.12" fill="#00bcff"/>
<rect x="111.46" y="101.89" width="4.04" height="5.12" fill="#0068ff"/>
<rect x="115.20" y="101.89" width="4.04" height="5.12" fill="#7dff7a"/>
<rect x="118.95" y="101.89" width="11.52" height="5.12" fill="#00bcff"/>
<rect x="130.17" y="101.89" width="7.78" height="5.12" fill="#29ffce"/>
<rect x="137.65" y="101.89" width="4.04" height="5.12" fill="#7dff7a"/>
<rect x="141.40" y="101.89" width="4.04" height="5.12" fill="#b4ff43"/>
<rect x="145.14" y="101.89" width="4.04" height="5.12" fill="#ebff0c"/>
<rect x="148.88" y="101.89" width="4.04" height="5.12" fill="#0000ff"/>
<rect x="152.62" y="101.89" width="4.04" height="5.12" fill="#7dff7a"/>
<rect x="156.36" y="101.89" width="4.04" height="5.12" fill="#b4ff43"/>
<rect x="74.05" y="106.71" width="4.04" height="5.12" fill="#0000bf"/>
<rect x="77.79" y="106.71" width="7.78" height="5.12" fill="#000080"/>
<rect x="85.27" y="106.71" width="4.04" height="5.12" fill="#0000ff"/>
<rect x="89.01" y="106.71" width="4.04" height="5.12" fill="#000080"/>
<rect x="92.76" y="106.71" width="4.04" height="5.12" fill="#0000ff"/>
<rect x="96.50" y="106.71" width="4.04" height="5.12" fill="#0000bf"/>
<rect x="100.24" y="106.71" width="4.04" height="5.12" fill="#29ffce"/>
<rect x="103.98" y="106.71" width="4.04" height="5.12" fill="#ebff0c"/>
<rect x="107.72" y="106.71" width="4.04" height="5.12" fill="#b4ff43"/>
<rect x="111.46" y="106.71" width="4.04" height="5.12" fill="#29ffce"/>
<rect x="115.20" y="106.71" width="4.04" height="5.12" fill="#ff8200"/>
<rect x="118.95" y="106.71" width="4.04" height="5.12" fill="#29ffce"/>
<rect x="122.69" y="106.71" width="4.04" height="5.12" fill="#0068ff"/>
<rect x="126.43" y="106.71" width="4.04" height="5.12" fill="#00bcff"/>
<rect x="130.17" y="106.71" width="7.78" height="5.12" fill="#29ffce"/>
<rect x="137.65" y="106.71" width="4.04" height="5.12" fill="#7dff7a"/>
<rect x="141.40" y="106.71" width="4.04" height="5.12" fill="#b4ff43"/>
<rect x="145.14" y="106.71" width="4.04" height="5.12" fill="#29ffce"/>
<rect x="148.88" y="106.71" width="4.04" height="5.12" fill="#0000ff"/>
<rect x="152.62" y="106.71" width="4.04" height="5.12" fill="#b4ff43"/>
<rect x="156.36" y="106.71" width="4.04" height="5.12" fill="#ffc400"/>
<rect x="74.05" y="111.53" width="4.04" height="5.12" fill="#000080"/>
<rect x="77.79" y="111.53" width="4.04" height="5.12" fill="#0000ff"/>
<rect x="81.53" y="111.53" width="4.04" height="5.12" fill="#000080"/>
<rect x="85.27" y="111.53" width="4.04" height="5.12" fill="#0000ff"/>
<rect x="89.01" y="111.53" width="7.78" height="5.12" fill="#00bcff"/>
<rect x="96.50" y="111.53" width="4.04" height="5.12" fill="#29ffce"/>
<rect x="100.24" y="111.53" width="4.04" height="5.12" fill="#00bcff"/>
<rect x="103.98" y="111.53" width="4.04" height="5.12" fill="#7dff7a"/>
<rect x="107.72" y="111.53" width="4.04" height="5.12" fill="#ebff0c"/>
<rect x="111.46" y="111.53" width="4.04" height="5.12" fill="#ff8200"/>
<rect x="115.20" y="111.53" width="4.04" height="5.12" fill="#ffc400"/>
<rect x="118.95" y="111.53" width="11.52" height="5.12" fill="#29ffce"/>
<rect x="130.17" y="111.53" width="15.27" height="5.12" fill="#7dff7a"/>
<rect x="145.14" y="111.53" width="4.04" height="5.12" fill="#00bcff"/>
<rect x="148.88" y="111.53" width="4.04" height="5.12" fill="#29ffce"/>
<rect x="152.62" y="111.53" width="4.04" height="5.12" fill="#ffc400"/>
<rect x="70.31" y="116.34" width="15.27" height="5.12" fill="#000080"/>
<rect x="85.27" y="116.34" width="4.04" height="5.12" fill="#0068ff"/>
<rect x="89.01" y="116.34" width="4.04" height="5.12" fill="#0000ff"/>
<rect x="92.76" y="116.34" width="7.78" height="5.12" fill="#00bcff"/>
<rect x="100.24" y="116.34" width="4.04" height="5.12" fill="#0068ff"/>
<rect x="103.98" y="116.34" width="4.04" height="5.12" fill="#00bcff"/>
<rect x="107.72" y="116.34" width="4.04" height="5.12" fill="#29ffce"/>
<rect x="111.46" y="116.34" width="4.04" height="5.12" fill="#b4ff43"/>
<rect x="115.20" y="116.34" width="7.78" height="5.12" fill="#7dff7a"/>
<rect x="122.69" y="116.34" width="7.78" height="5.12" fill="#29ffce"/>
<rect x="130.17" y="116.34" width="4.04" height="5.12" fill="#ebff0c"/>
<rect x="133.91" y="116.34" width="4.04" height="5.12" fill="#b4ff43"/>
<rect x="137.65" y="116.34" width="4.04" height="5.12" fill="#7dff7a"/>
<rect x="141.40" y="116.34" width="4.04" height="5.12" fill="#b4ff43"/>
<rect x="145.14" y="116.34" width="4.04" height="5.12" fill="#0068ff"/>
<rect x="148.88" y="116.34" width="4.04" height="5.12" fill="#b4ff43"/>
<rect x="70.31" y="121.16" width="19.01" height="5.12" fill="#000080"/>
<rect x="89.01" y="121.16" width="7.78" height="5.12" fill="#29ffce"/>
<rect x="96.50" y="121.16" width="4.04" height="5.12" fill="#0068ff"/>
<rect x="100.24" y="121.16" width="4.04" height="5.12" fill="#00bcff"/>
<rect x="103.98" y="121.16" width="4.04" height="5.12" fill="#b4ff43"/>
<rect x="107.72" y="121.16" width="4.04" height="5.12" fill="#7dff7a"/>
<rect x="111.46" y="121.16" width="7.78" height="5.12" fill="#29ffce"/>
<rect x="118.95" y="121.16" width="4.04" height="5.12" fill="#b4ff43"/>
<rect x="122.69" y="121.16" width="4.04" height="5.12" fill="#7dff7a"/>
<rect x="126.43" y="121.16" width="7.78" height="5.12" fill="#b4ff43"/>
<rect x="133.91" y="121.16" width="4.04" height="5.12" fill="#ebff0c"/>
<rect x="137.65" y="121.16" width="4.04" height="5.12" fill="#b4ff43"/>
<rect x="141.40" y="121.16" width="4.04" height="5.12" fill="#29ffce"/>
<rect x="145.14" y="121.16" width="4.04" height="5.12" fill="#7dff7a"/>
<rect x="59.08" y="125.98" width="30.23" height="5.12" fill="#000080"/>
<rect x="89.01" y="125.98" width="4.04" height="5.12" fill="#0068ff"/>
<rect x="92.76" y="125.98" width="4.04" height="5.12" fill="#00bcff"/>
<rect x="96.50" y="125.98" width="4.04" height="5.12" fill="#29ffce"/>
<rect x="100.24" y="125.98" width="4.04" height="5.12" fill="#ebff0c"/>
<rect x="103.98" y="125.98" width="4.04" height="5.12" fill="#ffc400"/>
<rect x="107.72" y="125.98" width="4.04" height="5.12" fill="#00bcff"/>
<rect x="111.46" y="125.98" width="4.04" height="5.12" fill="#29ffce"/>
<rect x="115.20" y="125.98" width="4.04" height="5.12" fill="#7dff7a"/>
<rect x="118.95" y="125.98" width="4.04" height="5.12" fill="#b4ff43"/>
<rect x="122.69" y="125.98" width="7.78" height="5.12" fill="#7dff7a"/>
<rect x="130.17" y="125.98" width="7.78" height="5.12" fill="#b4ff43"/>
<rect x="137.65" y="125.98" width="4.04" height="5.12" fill="#ebff0c"/>
<rect x="141.40" y="125.98" width="4.04" height="5.12" fill="#29ffce"/>
<rect x="145.14" y="125.98" width="4.04" height="5.12" fill="#ebff0c"/>
<rect x="59.08" y="130.80" width="22.75" height="5.12" fill="#000080"/>
<rect x="81.53" y="130.80" width="4.04" height="5.12" fill="#0000ff"/>
<rect x="85.27" y="130.80" width="4.04" height="5.12" fill="#0068ff"/>
<rect x="89.01" y="130.80" width="4.04" height="5.12" fill="#0000ff"/>
<rect x="92.76" y="130.80" width="4.04" height="5.12" fill="#000080"/>
<rect x="96.50" y="130.80" width="4.04" height="5.12" fill="#0068ff"/>
<rect x="100.24" y="130.80" width="7.78" height="5.12" fill="#29ffce"/>
<rect x="107.72" y="130.80" width="4.04" height="5.12" fill="#0068ff"/>
<rect x="111.46" y="130.80" width="4.04" height="5.12" fill="#29ffce"/>
<rect x="115.20" y="130.80" width="4.04" height="5.12" fill="#b4ff43"/>
<rect x="118.95" y="130.80" width="4.04" height="5.12" fill="#7dff7a"/>
<rect x="122.69" y="130.80" width="4.04" height="5.12" fill="#b4ff43"/>
<rect x="126.43" y="130.80" width="7.78" height="5.12" fill="#7dff7a"/>
<rect x="133.91" y="130.80" width="4.04" height="5.12" fill="#b4ff43"/>
<rect x="137.65" y="130.80" width="4.04" height="5.12" fill="#7dff7a"/>
<rect x="141.40" y="130.80" width="4.04" height="5.12" fill="#ebff0c"/>
<rect x="51.60" y="135.61" width="4.04" height="5.12" fill="#ff2900"/>
<rect x="55.34" y="135.61" width="30.23" height="5.12" fill="#000080"/>
<rect x="85.27" y="135.61" width="4.04" height="5.12" fill="#0000ff"/>
<rect x="89.01" y="135.61" width="11.52" height="5.12" fill="#000080"/>
<rect x="100.24" y="135.61" width="4.04" height="5.12" fill="#29ffce"/>
<rect x="103.98" y="135.61" width="4.04" height="5.12" fill="#b4ff43"/>
<rect x="107.72" y="135.61" width="7.78" height="5.12" fill="#29ffce"/>
<rect x="115.20" y="135.61" width="15.27" height="5.12" fill="#7dff7a"/>
<rect x="130.17" y="135.61" width="4.04" height="5.12" fill="#b4ff43"/>
<rect x="133.91" y="135.61" width="7.78" height="5.12" fill="#7dff7a"/>
<rect x="51.60" y="140.43" width="41.46" height="5.12" fill="#000080"/>
<rect x="92.76" y="140.43" width="4.04" height="5.12" fill="#0000ff"/>
<rect x="96.50" y="140.43" width="4.04" height="5.12" fill="#0068ff"/>
<rect x="100.24" y="140.43" width="4.04" height="5.12" fill="#29ffce"/>
<rect x="103.98" y="140.43" width="4.04" height="5.12" fill="#00bcff"/>
<rect x="107.72" y="140.43" width="4.04" height="5.12" fill="#0068ff"/>
<rect x="111.46" y="140.43" width="7.78" height="5.12" fill="#29ffce"/>
<rect x="118.95" y="140.43" width="4.04" height="5.12" fill="#7dff7a"/>
<rect x="122.69" y="140.43" width="4.04" height="5.12" fill="#b4ff43"/>
<rect x="126.43" y="140.43" width="7.78" height="5.12" fill="#7dff7a"/>
<rect x="133.91" y="140.43" width="7.78" height="5.12" fill="#29ffce"/>
<rect x="51.60" y="145.25" width="26.49" height="5.12" fill="#000080"/>
<rect x="77.79" y="145.25" width="4.04" height="5.12" fill="#0000ff"/>
<rect x="81.53" y="145.25" width="7.78" height="5.12" fill="#000080"/>
<rect x="89.01" y="145.25" width="4.04" height="5.12" fill="#0000bf"/>
<rect x="92.76" y="145.25" width="4.04" height="5.12" fill="#0068ff"/>
<rect x="96.50" y="145.25" width="4.04" height="5.12" fill="#00bcff"/>
<rect x="100.24" y="145.25" width="4.04" height="5.12" fill="#29ffce"/>
<rect x="103.98" y="145.25" width="4.04" height="5.12" fill="#00bcff"/>
<rect x="107.72" y="145.25" width="11.52" height="5.12" fill="#29ffce"/>
<rect x="118.95" y="145.25" width="4.04" height="5.12" fill="#b4ff43"/>
<rect x="122.69" y="145.25" width="4.04" height="5.12" fill="#ebff0c"/>
<rect x="126.43" y="145.25" width="4.04" height="5.12" fill="#7dff7a"/>
<rect x="130.17" y="145.25" width="7.78" height="5.12" fill="#0068ff"/>
<rect x="137.65" y="145.25" width="4.04" height="5.12" fill="#29ffce"/>
<rect x="55.34" y="150.07" width="15.27" height="5.12" fill="#000080"/>
<rect x="70.31" y="150.07" width="4.04" height="5.12" fill="#0000bf"/>
<rect x="74.05" y="150.07" width="4.04" height="5.12" fill="#000080"/>
<rect x="77.79" y="150.07" width="7.78" height="5.12" fill="#0000ff"/>
<rect x="85.27" y="150.07" width="4.04" height="5.12" fill="#000080"/>
<rect x="89.01" y="150.07" width="4.04" height="5.12" fill="#0000ff"/>
<rect x="92.76" y="150.07" width="4.04" height="5.12" fill="#29ffce"/>
<rect x="96.50" y="150.07" width="4.04" height="5.12" fill="#00bcff"/>
<rect x="100.24" y="150.07" width="4.04" height="5.12" fill="#29ffce"/>
<rect x="103.98" y="150.07" width="4.04" height="5.12" fill="#00bcff"/>
<rect x="107.72" y="150.07" width="11.52" height="5.12" fill="#29ffce"/>
<rect x="118.95" y="150.07" width="4.04" height="5.12" fill="#7dff7a"/>
<rect x="122.69" y="150.07" width="4.04" height="5.12" fill="#ebff0c"/>
<rect x="126.43" y="150.07" width="4.04" height="5.12" fill="#29ffce"/>
<rect x="130.17" y="150.07" width="4.04" height="5.12" fill="#0000ff"/>
<rect x="133.91" y="150.07" width="4.04" height="5.12" fill="#0068ff"/>
<rect x="137.65" y="150.07" width="4.04" height="5.12" fill="#29ffce"/>
<rect x="62.82" y="154.88" width="19.01" height="5.12" fill="#000080"/>
<rect x="81.53" y="154.88" width="4.04" height="5.12" fill="#0000ff"/>
<rect x="85.27" y="154.88" width="4.04" height="5.12" fill="#000080"/>
<rect x="89.01" y="154.88" width="4.04" height="5.12" fill="#0000bf"/>
<rect x="92.76" y="154.88" width="7.78" height="5.12" fill="#29ffce"/>
<rect x="100.24" y="154.88" width="4.04" height="5.12" fill="#0068ff"/>
<rect x="103.98" y="154.88" width="4.04" height="5.12" fill="#00bcff"/>
<rect x="107.72" y="154.88" width="7.78" height="5.12" fill="#29ffce"/>
<rect x="115.20" y="154.88" width="4.04" height="5.12" fill="#00bcff"/>
<rect x="118.95" y="154.88" width="4.04" height="5.12" fill="#29ffce"/>
<rect x="122.69" y="154.88" width="7.78" height="5.12" fill="#b4ff43"/>
<rect x="130.17" y="154.88" width="4.04" height="5.12" fill="#29ffce"/>
<rect x="133.91" y="154.88" width="7.78" height="5.12" fill="#0000ff"/>
<rect x="77.79" y="159.70" width="7.78" height="5.12" fill="#000080"/>
<rect x="85.27" y="159.70" width="7.78" height="5.12" fill="#0000ff"/>
<rect x="92.76" y="159.70" width="7.78" height="5.12" fill="#000080"/>
<rect x="100.24" y="159.70" width="4.04" height="5.12" fill="#0000ff"/>
<rect x="103.98" y="159.70" width="4.04" height="5.12" fill="#0068ff"/>
<rect x="107.72" y="159.70" width="4.04" height="5.12" fill="#ebff0c"/>
<rect x="111.46" y="159.70" width="19.01" height="5.12" fill="#29ffce"/>
<rect x="130.17" y="159.70" width="4.04" height="5.12" fill="#00bcff"/>
<rect x="133.91" y="159.70" width="7.78" height="5.12" fill="#0000ff"/>
<rect x="141.40" y="159.70" width="4.04" height="5.12" fill="#000080"/>
<rect x="77.79" y="164.52" width="22.75" height="5.12" fill="#000080"/>
<rect x="100.24" y="164.52" width="4.04" height="5.12" fill="#0068ff"/>
<rect x="103.98" y="164.52" width="7.78" height="5.12" fill="#00bcff"/>
<rect x="111.46" y="164.52" width="4.04" height="5.12" fill="#0068ff"/>
<rect x="115.20" y="164.52" width="4.04" height="5.12" fill="#b4ff43"/>
<rect x="118.95" y="164.52" width="11.52" height="5.12" fill="#0068ff"/>
<rect x="130.17" y="164.52" width="4.04" height="5.12" fill="#00bcff"/>
<rect x="133.91" y="164.52" width="7.78" height="5.12" fill="#0068ff"/>
<rect x="141.40" y="164.52" width="4.04" height="5.12" fill="#0000ff"/>
<rect x="77.79" y="169.33" width="15.27" height="5.12" fill="#000080"/>
<rect x="92.76" y="169.33" width="4.04" height="5.12" fill="#0000ff"/>
<rect x="96.50" y="169.33" width="15.27" height="5.12" fill="#00bcff"/>
<rect x="111.46" y="169.33" width="4.04" height="5.12" fill="#0068ff"/>
<rect x="115.20" y="169.33" width="4.04" height="5.12" fill="#00bcff"/>
<rect x="118.95" y="169.33" width="7.78" height="5.12" fill="#0068ff"/>
<rect x="126.43" y="169.33" width="4.04" height="5.12" fill="#00bcff"/>
<rect x="130.17" y="169.33" width="19.01" height="5.12" fill="#29ffce"/>
<rect x="74.05" y="174.15" width="19.01" height="5.12" fill="#000080"/>
<rect x="92.76" y="174.15" width="4.04" height="5.12" fill="#0000ff"/>
<rect x="96.50" y="174.15" width="15.27" height="5.12" fill="#0068ff"/>
<rect x="111.46" y="174.15" width="4.04" height="5.12" fill="#ebff0c"/>
<rect x="115.20" y="174.15" width="4.04" height="5.12" fill="#0000ff"/>
<rect x="118.95" y="174.15" width="4.04" height="5.12" fill="#00bcff"/>
<rect x="122.69" y="174.15" width="7.78" height="5.12" fill="#0068ff"/>
<rect x="130.17" y="174.15" width="4.04" height="5.12" fill="#0000ff"/>
<rect x="133.91" y="174.15" width="4.04" height="5.12" fill="#00bcff"/>
<rect x="137.65" y="174.15" width="7.78" height="5.12" fill="#29ffce"/>
<rect x="145.14" y="174.15" width="4.04" height="5.12" fill="#00bcff"/>
<rect x="70.31" y="178.97" width="22.75" height="5.12" fill="#000080"/>
<rect x="92.76" y="178.97" width="7.78" height="5.12" fill="#0000ff"/>
<rect x="100.24" y="178.97" width="4.04" height="5.12" fill="#0068ff"/>
<rect x="103.98" y="178.97" width="4.04" height="5.12" fill="#0034ff"/>
<rect x="107.72" y="178.97" width="30.23" height="5.12" fill="#0000ff"/>
<rect x="137.65" y="178.97" width="7.78" height="5.12" fill="#29ffce"/>
<rect x="145.14" y="178.97" width="4.04" height="5.12" fill="#00bcff"/>
<rect x="70.31" y="183.79" width="22.75" height="5.12" fill="#000080"/>
<rect x="92.76" y="183.79" width="4.04" height="5.12" fill="#0000bf"/>
<rect x="96.50" y="183.79" width="4.04" height="5.12" fill="#0000ff"/>
<rect x="100.24" y="183.79" width="4.04" height="5.12" fill="#0068ff"/>
<rect x="103.98" y="183.79" width="7.78" height="5.12" fill="#0000ff"/>
<rect x="111.46" y="183.79" width="4.04" height="5.12" fill="#0068ff"/>
<rect x="115.20" y="183.79" width="4.04" height="5.12" fill="#0000ff"/>
<rect x="118.95" y="183.79" width="15.27" height="5.12" fill="#000080"/>
<rect x="133.91" y="183.79" width="4.04" height="5.12" fill="#0000ff"/>
<rect x="137.65" y="183.79" width="7.78" height="5.12" fill="#29ffce"/>
<rect x="145.14" y="183.79" width="4.04" height="5.12" fill="#00bcff"/>
<rect x="148.88" y="183.79" width="4.04" height="5.12" fill="#0068ff"/>
<rect x="74.05" y="188.60" width="22.75" height="5.12" fill="#000080"/>
<rect x="96.50" y="188.60" width="7.78" height="5.12" fill="#0000ff"/>
<rect x="103.98" y="188.60" width="4.04" height="5.12" fill="#0068ff"/>
<rect x="107.72" y="188.60" width="11.52" height="5.12" fill="#0000ff"/>
<rect x="118.95" y="188.60" width="19.01" height="5.12" fill="#000080"/>
<rect x="137.65" y="188.60" width="4.04" height="5.12" fill="#b4ff43"/>
<rect x="141.40" y="188.60" width="4.04" height="5.12" fill="#29ffce"/>
<rect x="145.14" y="188.60" width="7.78" height="5.12" fill="#00bcff"/>
<rect x="152.62" y="188.60" width="4.04" height="5.12" fill="#0068ff"/>
<rect x="77.79" y="193.42" width="22.75" height="5.12" fill="#000080"/>
<rect x="100.24" y="193.42" width="15.27" height="5.12" fill="#0000ff"/>
<rect x="115.20" y="193.42" width="22.75" height="5.12" fill="#000080"/>
<rect x="137.65" y="193.42" width="4.04" height="5.12" fill="#0000ff"/>
<rect x="141.40" y="193.42" width="7.78" height="5.12" fill="#00bcff"/>
<rect x="148.88" y="193.42" width="7.78" height="5.12" fill="#0068ff"/>
<rect x="156.36" y="193.42" width="4.04" height="5.12" fill="#0000ff"/>
<rect x="96.50" y="198.24" width="4.04" height="5.12" fill="#000080"/>
<rect x="100.24" y="198.24" width="7.78" height="5.12" fill="#0000ff"/>
<rect x="107.72" y="198.24" width="4.04" height="5.12" fill="#000080"/>
<rect x="111.46" y="198.24" width="4.04" height="5.12" fill="#0000ff"/>
<rect x="115.20" y="198.24" width="26.49" height="5.12" fill="#000080"/>
<rect x="141.40" y="198.24" width="4.04" height="5.12" fill="#0068ff"/>
<rect x="145.14" y="198.24" width="4.04" height="5.12" fill="#0000ff"/>
<rect x="148.88" y="198.24" width="4.04" height="5.12" fill="#0068ff"/>
<rect x="152.62" y="198.24" width="4.04" height="5.12" fill="#00bcff"/>
<rect x="156.36" y="198.24" width="4.04" height="5.12" fill="#0068ff"/>
<rect x="160.10" y="198.24" width="4.04" height="5.12" fill="#0000ff"/>
<rect x="96.50" y="203.06" width="48.94" height="5.12" fill="#000080"/>
<rect x="145.14" y="203.06" width="4.04" height="5.12" fill="#0000ff"/>
<rect x="148.88" y="203.06" width="4.04" height="5.12" fill="#000080"/>
<rect x="152.62" y="203.06" width="4.04" height="5.12" fill="#0000ff"/>
<rect x="156.36" y="203.06" width="4.04" height="5.12" fill="#000080"/>
<rect x="160.10" y="203.06" width="15.27" height="5.12" fill="#0000ff"/>
<rect x="96.50" y="207.87" width="37.71" height="5.12" fill="#000080"/>
<rect x="133.91" y="207.87" width="4.04" height="5.12" fill="#0000ff"/>
<rect x="137.65" y="207.87" width="4.04" height="5.12" fill="#000080"/>
<rect x="141.40" y="207.87" width="4.04" height="5.12" fill="#0068ff"/>
<rect x="145.14" y="207.87" width="4.04" height="5.12" fill="#000080"/>
<rect x="148.88" y="207.87" width="4.04" height="5.12" fill="#0068ff"/>
<rect x="152.62" y="207.87" width="4.04" height="5.12" fill="#000080"/>
<rect x="156.36" y="207.87" width="22.75" height="5.12" fill="#0000ff"/>
<rect x="92.76" y="212.69" width="30.23" height="5.12" fill="#000080"/>
<rect x="122.69" y="212.69" width="7.78" height="5.12" fill="#0068ff"/>
<rect x="130.17" y="212.69" width="4.04" height="5.12" fill="#000080"/>
<rect x="133.91" y="212.69" width="4.04" height="5.12" fill="#0068ff"/>
<rect x="137.65" y="212.69" width="4.04" height="5.12" fill="#0000ff"/>
<rect x="141.40" y="212.69" width="4.04" height="5.12" fill="#00bcff"/>
<rect x="145.14" y="212.69" width="15.27" height="5.12" fill="#0000ff"/>
<rect x="160.10" y="212.69" width="4.04" height="5.12" fill="#000080"/>
<rect x="163.84" y="212.69" width="11.52" height="5.12" fill="#0000ff"/>
<rect x="175.07" y="212.69" width="4.04" height="5.12" fill="#00bcff"/>
<rect x="96.50" y="217.51" width="26.49" height="5.12" fill="#000080"/>
<rect x="122.69" y="217.51" width="7.78" height="5.12" fill="#0000ff"/>
<rect x="130.17" y="217.51" width="7.78" height="5.12" fill="#000080"/>
<rect x="137.65" y="217.51" width="4.04" height="5.12" fill="#0000ff"/>
<rect x="141.40" y="217.51" width="4.04" height="5.12" fill="#0068ff"/>
<rect x="145.14" y="217.51" width="4.04" height="5.12" fill="#000080"/>
<rect x="148.88" y="217.51" width="4.04" height="5.12" fill="#0000ff"/>
<rect x="152.62" y="217.51" width="4.04" height="5.12" fill="#0068ff"/>
<rect x="156.36" y="217.51" width="4.04" height="5.12" fill="#000080"/>
<rect x="160.10" y="217.51" width="7.78" height="5.12" fill="#0000ff"/>
<rect x="167.59" y="217.51" width="4.04" height="5.12" fill="#000080"/>
<rect x="171.33" y="217.51" width="4.04" height="5.12" fill="#29ffce"/>
<rect x="175.07" y="217.51" width="4.04" height="5.12" fill="#7dff7a"/>
<rect x="89.01" y="222.32" width="22.75" height="5.12" fill="#000080"/>
<rect x="111.46" y="222.32" width="4.04" height="5.12" fill="#0000ff"/>
<rect x="115.20" y="222.32" width="11.52" height="5.12" fill="#000080"/>
<rect x="126.43" y="222.32" width="7.78" height="5.12" fill="#0000ff"/>
<rect x="133.91" y="222.32" width="7.78" height="5.12" fill="#00bcff"/>
<rect x="141.40" y="222.32" width="4.04" height="5.12" fill="#0068ff"/>
<rect x="145.14" y="222.32" width="7.78" height="5.12" fill="#0000ff"/>
<rect x="152.62" y="222.32" width="7.78" height="5.12" fill="#000080"/>
<rect x="160.10" y="222.32" width="7.78" height="5.12" fill="#29ffce"/>
<rect x="167.59" y="222.32" width="4.04" height="5.12" fill="#00bcff"/>
<rect x="89.01" y="227.14" width="4.04" height="5.12" fill="#0000ff"/>
<rect x="92.76" y="227.14" width="22.75" height="5.12" fill="#000080"/>
<rect x="115.20" y="227.14" width="4.04" height="5.12" fill="#0000ff"/>
<rect x="118.95" y="227.14" width="4.04" height="5.12" fill="#0068ff"/>
<rect x="122.69" y="227.14" width="4.04" height="5.12" fill="#00bcff"/>
<rect x="126.43" y="227.14" width="4.04" height="5.12" fill="#000080"/>
<rect x="130.17" y="227.14" width="4.04" height="5.12" fill="#0000ff"/>
<rect x="133.91" y="227.14" width="4.04" height="5.12" fill="#00bcff"/>
<rect x="137.65" y="227.14" width="4.04" height="5.12" fill="#0068ff"/>
<rect x="141.40" y="227.14" width="7.78" height="5.12" fill="#0000ff"/>
<rect x="148.88" y="227.14" width="4.04" height="5.12" fill="#000080"/>
<rect x="152.62" y="227.14" width="4.04" height="5.12" fill="#0000ff"/>
<rect x="156.36" y="227.14" width="4.04" height="5.12" fill="#0068ff"/>
<rect x="89.01" y="231.96" width="4.04" height="5.12" fill="#0000ff"/>
<rect x="92.76" y="231.96" width="22.75" height="5.12" fill="#000080"/>
<rect x="115.20" y="231.96" width="11.52" height="5.12" fill="#0068ff"/>
<rect x="126.43" y="231.96" width="15.27" height="5.12" fill="#000080"/>
<rect x="141.40" y="231.96" width="4.04" height="5.12" fill="#0068ff"/>
<rect x="145.14" y="231.96" width="7.78" height="5.12" fill="#0000ff"/>
<rect x="152.62" y="231.96" width="4.04" height="5.12" fill="#29ffce"/>
<rect x="156.36" y="231.96" width="4.04" height="5.12" fill="#7dff7a"/>
<rect x="89.01" y="236.78" width="7.78" height="5.12" fill="#000080"/>
<rect x="96.50" y="236.78" width="7.78" height="5.12" fill="#0000ff"/>
<rect x="103.98" y="236.78" width="4.04" height="5.12" fill="#000080"/>
<rect x="107.72" y="236.78" width="4.04" height="5.12" fill="#0000ff"/>
<rect x="111.46" y="236.78" width="7.78" height="5.12" fill="#0068ff"/>
<rect x="118.95" y="236.78" width="4.04" height="5.12" fill="#0000ff"/>
<rect x="122.69" y="236.78" width="11.52" height="5.12" fill="#000080"/>
<rect x="133.91" y="236.78" width="7.78" height="5.12" fill="#00bcff"/>
<rect x="85.27" y="241.59" width="11.52" height="5.12" fill="#000080"/>
<rect x="96.50" y="241.59" width="4.04" height="5.12" fill="#0000ff"/>
<rect x="100.24" y="241.59" width="4.04" height="5.12" fill="#000080"/>
<rect x="103.98" y="241.59" width="4.04" height="5.12" fill="#0000ff"/>
<rect x="107.72" y="241.59" width="4.04" height="5.12" fill="#000080"/>
<rect x="111.46" y="241.59" width="7.78" height="5.12" fill="#0000ff"/>
<rect x="118.95" y="241.59" width="11.52" height="5.12" fill="#000080"/>
<rect x="130.17" y="241.59" width="4.04" height="5.12" fill="#0000ff"/>
<rect x="133.91" y="241.59" width="4.04" height="5.12" fill="#29ffce"/>
<rect x="85.27" y="246.41" width="4.04" height="5.12" fill="#000080"/>
<rect x="89.01" y="246.41" width="11.52" height="5.12" fill="#0000ff"/>
<rect x="100.24" y="246.41" width="7.78" height="5.12" fill="#000080"/>
<rect x="107.72" y="246.41" width="4.04" height="5.12" fill="#0068ff"/>
<rect x="111.46" y="246.41" width="4.04" height="5.12" fill="#000080"/>
<rect x="115.20" y="246.41" width="11.52" height="5.12" fill="#0000ff"/>
<rect x="126.43" y="246.41" width="4.04" height="5.12" fill="#000080"/>
<rect x="130.17" y="246.41" width="4.04" height="5.12" fill="#0068ff"/>
<rect x="85.27" y="251.23" width="4.04" height="5.12" fill="#000080"/>
<rect x="89.01" y="251.23" width="11.52" height="5.12" fill="#0000ff"/>
<rect x="100.24" y="251.23" width="4.04" height="5.12" fill="#000080"/>
<rect x="103.98" y="251.23" width="7.78" height="5.12" fill="#0068ff"/>
<rect x="111.46" y="251.23" width="4.04" height="5.12" fill="#000080"/>
<rect x="115.20" y="251.23" width="4.04" height="5.12" fill="#0000ff"/>
<rect x="118.95" y="251.23" width="4.04" height="5.12" fill="#000080"/>
<rect x="122.69" y="251.23" width="4.04" height="5.12" fill="#00bcff"/>
<rect x="126.43" y="251.23" width="4.04" height="5.12" fill="#29ffce"/>
<rect x="92.76" y="256.04" width="4.04" height="5.12" fill="#0068ff"/>
<rect x="96.50" y="256.04" width="4.04" height="5.12" fill="#29ffce"/>
<rect x="100.24" y="256.04" width="4.04" height="5.12" fill="#0068ff"/>
<rect x="103.98" y="256.04" width="19.01" height="5.12" fill="#0000ff"/>
<rect x="92.76" y="260.86" width="4.04" height="5.12" fill="#0068ff"/>
<rect x="96.50" y="260.86" width="11.52" height="5.12" fill="#000080"/>
<rect x="107.72" y="260.86" width="7.78" height="5.12" fill="#0000ff"/>
<rect x="115.20" y="260.86" width="7.78" height="5.12" fill="#0068ff"/>
<rect x="122.69" y="260.86" width="4.04" height="5.12" fill="#29ffce"/>
<rect x="92.76" y="265.68" width="11.52" height="5.12" fill="#0000ff"/>
<rect x="103.98" y="265.68" width="4.04" height="5.12" fill="#0068ff"/>
<rect x="107.72" y="265.68" width="7.78" height="5.12" fill="#0000ff"/>
<rect x="115.20" y="265.68" width="11.52" height="5.12" fill="#29ffce"/>
<rect x="89.01" y="270.50" width="7.78" height="5.12" fill="#00bcff"/>
<rect x="96.50" y="270.50" width="7.78" height="5.12" fill="#0000ff"/>
<rect x="103.98" y="270.50" width="7.78" height="5.12" fill="#000080"/>
<rect x="111.46" y="270.50" width="4.04" height="5.12" fill="#0000ff"/>
<rect x="115.20" y="270.50" width="4.04" height="5.12" fill="#b4ff43"/>
<rect x="89.01" y="275.31" width="7.78" height="5.12" fill="#000080"/>
<rect x="96.50" y="275.31" width="4.04" height="5.12" fill="#0000ff"/>
<rect x="100.24" y="275.31" width="11.52" height="5.12" fill="#00bcff"/>
<rect x="111.46" y="275.31" width="4.04" height="5.12" fill="#0000ff"/>
<rect x="92.76" y="280.13" width="4.04" height="5.12" fill="#0000ff"/>
<rect x="96.50" y="280.13" width="7.78" height="5.12" fill="#29ffce"/>
<rect x="103.98" y="280.13" width="7.78" height="5.12" fill="#0068ff"/>
<rect x="111.46" y="280.13" width="4.04" height="5.12" fill="#0000ff"/>
<rect x="92.76" y="284.95" width="4.04" height="5.12" fill="#0000ff"/>
<rect x="96.50" y="284.95" width="11.52" height="5.12" fill="#29ffce"/>
<rect x="107.72" y="284.95" width="7.78" height="5.12" fill="#0000ff"/>
<rect x="96.50" y="289.77" width="4.04" height="5.12" fill="#29ffce"/>
<rect x="100.24" y="289.77" width="4.04" height="5.12" fill="#7dff7a"/>
<rect x="103.98" y="289.77" width="7.78" height="5.12" fill="#29ffce"/>
<rect x="100.24" y="294.58" width="4.04" height="5.12" fill="#0068ff"/>
<rect x="103.98" y="294.58" width="4.04" height="5.12" fill="#00bcff"/>
</g>
<circle cx="130.4" cy="270.6" r="0.75" fill="#666" shape-rendering="geometricPrecision"/>
<rect x="51.60" y="20.00" width="153.40" height="279.40" fill="none" stroke="#262626" stroke-width="0.9"/>
<line x1="48.1" y1="46.40" x2="51.60" y2="46.40" stroke="#262626" stroke-width="0.9"/>
<text x="43.6" y="51.20" font-size="10.5" text-anchor="end" textLength="21" lengthAdjust="spacingAndGlyphs" fill="#1a1a1a">40.5</text>
<line x1="48.1" y1="94.56" x2="51.60" y2="94.56" stroke="#262626" stroke-width="0.9"/>
<text x="43.6" y="99.36" font-size="10.5" text-anchor="end" textLength="21" lengthAdjust="spacingAndGlyphs" fill="#1a1a1a">40.0</text>
<line x1="48.1" y1="142.72" x2="51.60" y2="142.72" stroke="#262626" stroke-width="0.9"/>
<text x="43.6" y="147.52" font-size="10.5" text-anchor="end" textLength="21" lengthAdjust="spacingAndGlyphs" fill="#1a1a1a">39.5</text>
<line x1="48.1" y1="190.88" x2="51.60" y2="190.88" stroke="#262626" stroke-width="0.9"/>
<text x="43.6" y="195.68" font-size="10.5" text-anchor="end" textLength="21" lengthAdjust="spacingAndGlyphs" fill="#1a1a1a">39.0</text>
<line x1="48.1" y1="239.04" x2="51.60" y2="239.04" stroke="#262626" stroke-width="0.9"/>
<text x="43.6" y="243.84" font-size="10.5" text-anchor="end" textLength="21" lengthAdjust="spacingAndGlyphs" fill="#1a1a1a">38.5</text>
<line x1="48.1" y1="287.20" x2="51.60" y2="287.20" stroke="#262626" stroke-width="0.9"/>
<text x="43.6" y="292.00" font-size="10.5" text-anchor="end" textLength="21" lengthAdjust="spacingAndGlyphs" fill="#1a1a1a">38.0</text>
<line x1="53.50" y1="299.40" x2="53.50" y2="302.9" stroke="#262626" stroke-width="0.9"/>
<text x="52.70" y="315.0" font-size="10.5" text-anchor="middle" textLength="22.6" lengthAdjust="spacingAndGlyphs" fill="#1a1a1a">−1.5</text>
<line x1="90.85" y1="299.40" x2="90.85" y2="302.9" stroke="#262626" stroke-width="0.9"/>
<text x="90.05" y="315.0" font-size="10.5" text-anchor="middle" textLength="22.6" lengthAdjust="spacingAndGlyphs" fill="#1a1a1a">−1.0</text>
<line x1="128.20" y1="299.40" x2="128.20" y2="302.9" stroke="#262626" stroke-width="0.9"/>
<text x="127.40" y="315.0" font-size="10.5" text-anchor="middle" textLength="22.6" lengthAdjust="spacingAndGlyphs" fill="#1a1a1a">−0.5</text>
<line x1="165.55" y1="299.40" x2="165.55" y2="302.9" stroke="#262626" stroke-width="0.9"/>
<text x="165.55" y="315.0" font-size="10.5" text-anchor="middle" fill="#1a1a1a">0.0</text>
<line x1="202.90" y1="299.40" x2="202.90" y2="302.9" stroke="#262626" stroke-width="0.9"/>
<text x="202.90" y="315.0" font-size="10.5" text-anchor="middle" fill="#1a1a1a">0.5</text>
<text x="128.4" y="328.6" font-size="10.5" text-anchor="middle" textLength="127" lengthAdjust="spacingAndGlyphs" fill="#1a1a1a">longitude [degrees_east]</text>
<text transform="translate(15,159.75) rotate(-90)" x="0" y="0" font-size="10.5" text-anchor="middle" textLength="124" lengthAdjust="spacingAndGlyphs" fill="#1a1a1a">latitude [degrees_north]</text>
<rect x="215.60" y="20.00" width="14.20" height="266.10" fill="url(#jetg)"/>
<path d="M215.60 285.90 L229.80 285.90 L222.70 299.30 Z" fill="#000090"/>
<path d="M215.60 286.10 L215.60 20.00 L229.80 20.00 L229.80 286.10 L222.70 299.30 Z" fill="none" stroke="#111" stroke-width="0.8"/>
<line x1="229.80" y1="45.53" x2="233.4" y2="45.53" stroke="#262626" stroke-width="0.9"/>
<text x="237.8" y="50.43" font-size="10.5" fill="#1a1a1a">0.6</text>
<line x1="229.80" y1="81.37" x2="233.4" y2="81.37" stroke="#262626" stroke-width="0.9"/>
<text x="237.8" y="86.27" font-size="10.5" fill="#1a1a1a">0.4</text>
<line x1="229.80" y1="117.21" x2="233.4" y2="117.21" stroke="#262626" stroke-width="0.9"/>
<text x="237.8" y="122.11" font-size="10.5" fill="#1a1a1a">0.2</text>
<line x1="229.80" y1="153.05" x2="233.4" y2="153.05" stroke="#262626" stroke-width="0.9"/>
<text x="237.8" y="157.95" font-size="10.5" fill="#1a1a1a">0.0</text>
<line x1="229.80" y1="188.89" x2="233.4" y2="188.89" stroke="#262626" stroke-width="0.9"/>
<text x="238.1" y="193.79" font-size="10.5" textLength="22.8" lengthAdjust="spacingAndGlyphs" fill="#1a1a1a">−0.2</text>
<line x1="229.80" y1="224.73" x2="233.4" y2="224.73" stroke="#262626" stroke-width="0.9"/>
<text x="238.1" y="229.63" font-size="10.5" textLength="22.8" lengthAdjust="spacingAndGlyphs" fill="#1a1a1a">−0.4</text>
<line x1="229.80" y1="260.57" x2="233.4" y2="260.57" stroke="#262626" stroke-width="0.9"/>
<text x="238.1" y="265.47" font-size="10.5" textLength="22.8" lengthAdjust="spacingAndGlyphs" fill="#1a1a1a">−0.6</text></g>
</svg></body></html>
